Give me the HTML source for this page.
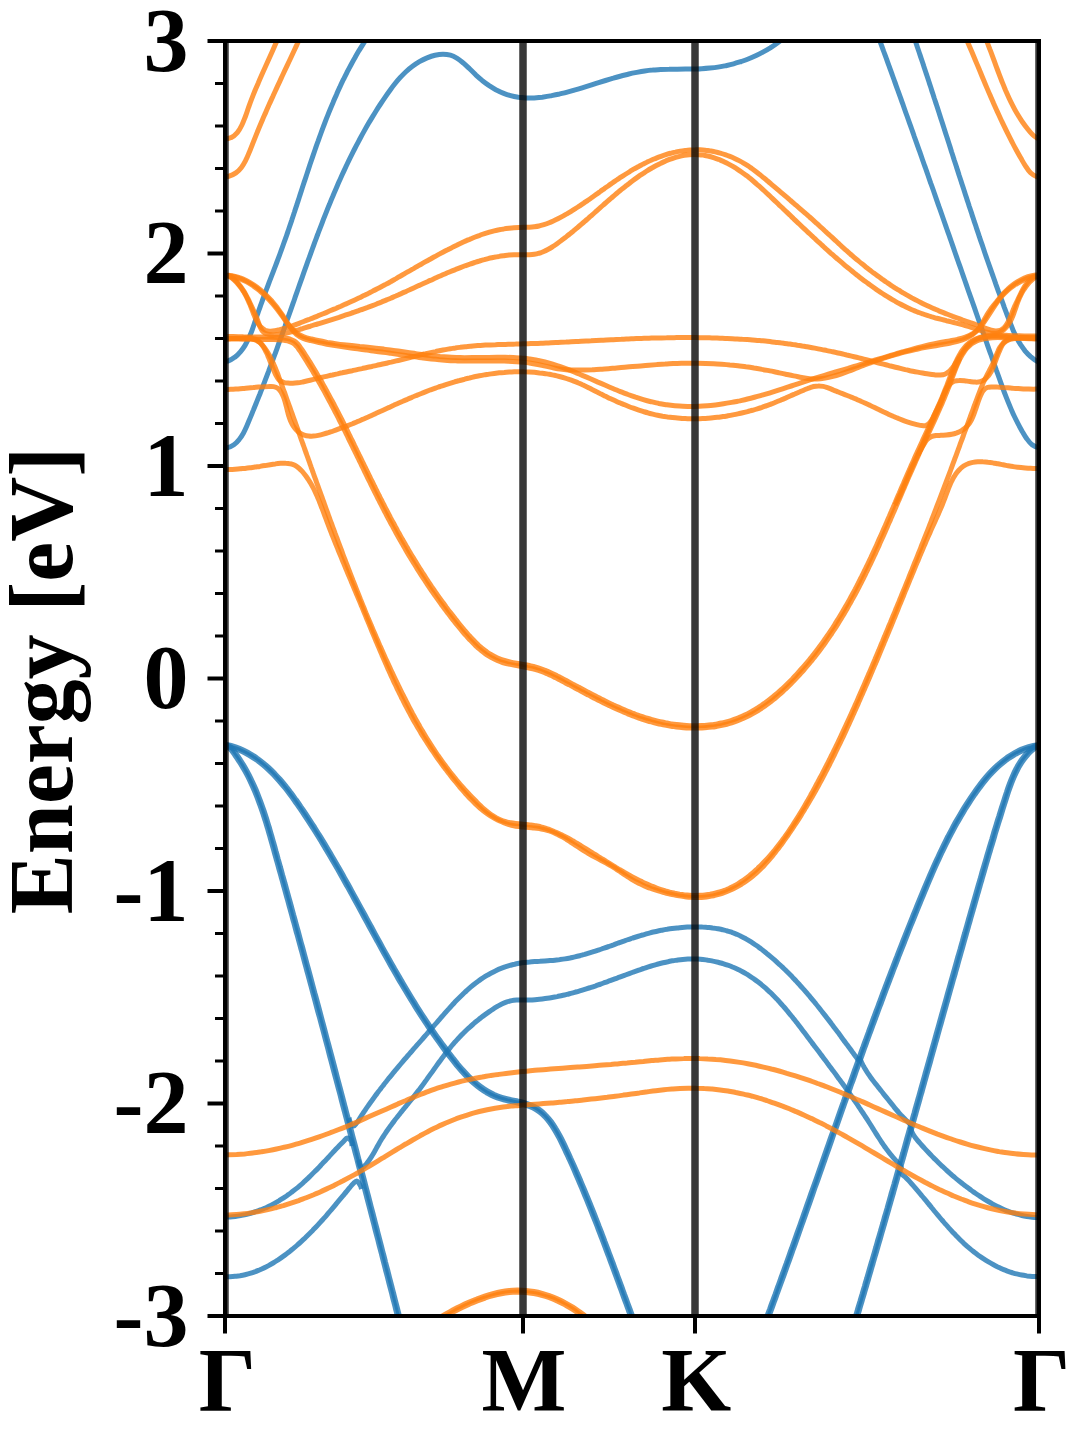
<!DOCTYPE html>
<html lang="en">
<head>
<meta charset="utf-8">
<title>Band structure</title>
<style>
html,body{margin:0;padding:0;background:#fff;}
body{width:1080px;height:1440px;overflow:hidden;font-family:"Liberation Serif",serif;}
svg{display:block;}
svg text{font-family:"Liberation Serif",serif;font-weight:bold;font-size:90px;fill:#000;}
</style>
</head>
<body>
<svg width="1080" height="1440" viewBox="0 0 1080 1440">
<rect width="1080" height="1440" fill="#fff"/>
<defs><clipPath id="ax"><rect x="225.0" y="41.0" width="814.0" height="1275.0"/></clipPath></defs>
<g clip-path="url(#ax)" fill="none" stroke-linecap="butt" stroke-linejoin="round">
<g stroke="#1f77b4" stroke-opacity="0.8" stroke-width="5">
<path d="M208.2 349.7C209.0 351.1 211.3 356.0 213.3 358.0C215.4 360.0 218.0 361.2 220.5 361.7C222.9 362.2 225.7 361.8 228.1 361.0C230.5 360.3 232.9 358.7 235.0 357.1C237.1 355.6 238.9 353.6 240.6 351.6C242.3 349.6 243.8 347.4 245.2 345.1C246.6 342.7 247.8 340.2 249.0 337.7C250.1 335.1 251.2 332.5 252.2 329.8C253.2 327.1 254.1 324.3 255.0 321.6C255.9 318.9 256.8 316.1 257.8 313.4C258.7 310.7 259.7 308.1 260.6 305.4C261.6 302.7 262.5 300.1 263.5 297.5C264.5 294.9 265.4 292.3 266.4 289.7C267.4 287.1 268.4 284.5 269.3 281.9C270.3 279.4 271.3 276.8 272.3 274.2C273.3 271.7 274.2 269.1 275.2 266.6C276.2 264.0 277.1 261.5 278.1 258.9C279.1 256.4 280.0 253.8 280.9 251.2C281.9 248.7 282.8 246.1 283.7 243.5C284.6 240.9 285.6 238.4 286.5 235.8C287.4 233.2 288.2 230.6 289.1 228.0C290.0 225.3 290.9 222.7 291.8 220.1C292.6 217.5 293.5 214.9 294.4 212.2C295.2 209.6 296.1 207.0 297.0 204.4C297.8 201.7 298.7 199.1 299.5 196.5C300.4 193.8 301.3 191.2 302.1 188.5C303.0 185.9 303.8 183.3 304.7 180.6C305.6 178.0 306.4 175.3 307.3 172.7C308.2 170.1 309.1 167.4 309.9 164.8C310.8 162.1 311.7 159.5 312.6 156.9C313.5 154.2 314.4 151.6 315.3 149.0C316.2 146.4 317.1 143.7 318.1 141.1C319.0 138.5 319.9 135.9 320.9 133.3C321.9 130.7 322.8 128.1 323.8 125.5C324.8 122.9 325.8 120.3 326.8 117.7C327.8 115.2 328.8 112.6 329.9 110.0C330.9 107.5 332.0 104.9 333.1 102.4C334.1 99.8 335.2 97.3 336.4 94.8C337.5 92.2 338.6 89.7 339.8 87.2C340.9 84.7 342.1 82.2 343.3 79.7C344.5 77.3 345.8 74.8 347.0 72.3C348.3 69.9 349.6 67.4 350.9 65.0C352.2 62.6 353.5 60.2 354.9 57.8C356.2 55.4 357.6 53.0 359.0 50.6C360.5 48.3 361.9 45.9 363.4 43.6C364.9 41.2 366.4 38.9 367.9 36.6C369.5 34.3 371.9 30.9 372.7 29.8"/>
<path d="M208.3 434.8C209.0 436.2 210.3 440.8 212.1 442.9C213.8 445.0 216.5 446.7 219.0 447.5C221.5 448.3 224.6 448.2 227.0 447.7C229.5 447.3 231.9 446.1 233.9 444.7C235.9 443.3 237.7 441.5 239.2 439.5C240.8 437.6 242.2 435.2 243.5 432.9C244.8 430.5 245.9 427.9 247.0 425.4C248.1 422.8 249.2 420.2 250.3 417.6C251.4 415.1 252.4 412.5 253.5 409.9C254.5 407.3 255.6 404.8 256.6 402.2C257.6 399.6 258.6 397.1 259.7 394.5C260.7 392.0 261.7 389.4 262.7 386.9C263.6 384.3 264.6 381.8 265.6 379.2C266.6 376.7 267.5 374.1 268.5 371.6C269.4 369.0 270.4 366.5 271.3 364.0C272.3 361.4 273.2 358.9 274.1 356.4C275.1 353.8 276.0 351.3 276.9 348.8C277.8 346.2 278.7 343.7 279.6 341.2C280.6 338.6 281.5 336.1 282.4 333.6C283.3 331.1 284.2 328.5 285.1 326.0C285.9 323.5 286.8 320.9 287.7 318.4C288.6 315.9 289.5 313.4 290.4 310.8C291.3 308.3 292.2 305.8 293.1 303.2C294.0 300.7 294.8 298.2 295.7 295.6C296.6 293.1 297.5 290.5 298.4 288.0C299.3 285.5 300.2 282.9 301.1 280.4C302.0 277.8 302.9 275.3 303.8 272.7C304.7 270.2 305.6 267.6 306.5 265.1C307.4 262.5 308.3 260.0 309.3 257.4C310.2 254.9 311.1 252.3 312.0 249.8C313.0 247.2 313.9 244.7 314.8 242.1C315.8 239.6 316.7 237.0 317.7 234.5C318.6 231.9 319.6 229.4 320.6 226.9C321.6 224.3 322.5 221.8 323.5 219.2C324.5 216.7 325.5 214.2 326.5 211.6C327.5 209.1 328.5 206.6 329.6 204.1C330.6 201.5 331.6 199.0 332.7 196.5C333.7 194.0 334.8 191.5 335.9 189.0C337.0 186.5 338.0 184.0 339.1 181.5C340.2 179.1 341.4 176.6 342.5 174.1C343.6 171.6 344.8 169.2 345.9 166.7C347.1 164.3 348.2 161.8 349.4 159.4C350.6 156.9 351.8 154.5 353.0 152.1C354.2 149.7 355.5 147.3 356.7 144.9C358.0 142.5 359.2 140.1 360.5 137.7C361.8 135.3 363.1 133.0 364.4 130.6C365.7 128.3 367.1 125.9 368.4 123.6C369.8 121.3 371.2 118.9 372.6 116.6C374.0 114.3 375.4 112.1 376.8 109.8C378.3 107.5 379.7 105.2 381.2 103.0C382.7 100.7 384.2 98.5 385.7 96.3C387.2 94.1 388.8 91.9 390.4 89.7C392.0 87.5 393.6 85.4 395.3 83.3C397.0 81.2 398.7 79.2 400.5 77.2C402.4 75.2 404.2 73.3 406.2 71.5C408.2 69.7 410.3 67.9 412.5 66.3C414.7 64.7 417.0 63.1 419.4 61.7C421.9 60.3 424.5 59.0 427.1 57.9C429.7 56.8 432.4 55.8 435.0 55.2C437.7 54.6 440.4 54.2 443.0 54.2C445.5 54.2 448.0 54.5 450.4 55.2C452.8 55.9 455.0 57.1 457.2 58.4C459.4 59.7 461.4 61.4 463.5 63.1C465.6 64.9 467.6 66.9 469.6 68.8C471.6 70.7 473.7 72.8 475.7 74.8C477.8 76.7 479.9 78.6 482.1 80.4C484.3 82.1 486.5 83.8 488.8 85.4C491.1 86.9 493.4 88.4 495.8 89.7C498.2 90.9 500.6 92.1 503.1 93.1C505.5 94.1 508.0 95.0 510.6 95.7C513.1 96.4 515.7 96.9 518.3 97.3C520.9 97.6 523.5 97.8 526.2 97.9C528.8 98.1 531.5 98.0 534.2 97.9C536.9 97.7 539.6 97.5 542.3 97.2C545.0 96.8 547.7 96.4 550.4 95.9C553.0 95.4 555.7 94.9 558.4 94.3C561.1 93.6 563.8 93.0 566.4 92.3C569.1 91.6 571.7 90.9 574.3 90.1C576.9 89.4 579.6 88.6 582.2 87.8C584.8 87.0 587.4 86.2 590.0 85.4C592.6 84.6 595.2 83.7 597.8 82.9C600.3 82.1 602.9 81.3 605.5 80.5C608.1 79.7 610.7 78.9 613.3 78.2C615.9 77.4 618.5 76.7 621.1 76.0C623.7 75.3 626.3 74.7 628.9 74.0C631.5 73.4 634.1 72.9 636.8 72.4C639.4 71.9 642.0 71.4 644.7 71.0C647.4 70.6 650.0 70.3 652.7 70.1C655.4 69.8 658.1 69.7 660.8 69.5C663.5 69.4 666.2 69.3 669.0 69.3C671.7 69.2 674.4 69.2 677.2 69.2C679.9 69.2 682.6 69.2 685.4 69.1C688.1 69.1 690.8 69.1 693.6 69.0C696.3 68.9 699.0 68.9 701.7 68.7C704.4 68.6 707.1 68.4 709.8 68.1C712.5 67.8 715.2 67.5 717.8 67.1C720.5 66.7 723.1 66.2 725.8 65.7C728.4 65.1 731.0 64.5 733.6 63.8C736.2 63.1 738.7 62.3 741.3 61.5C743.8 60.6 746.3 59.7 748.8 58.7C751.3 57.7 753.7 56.7 756.2 55.5C758.6 54.4 761.0 53.2 763.3 51.9C765.7 50.6 768.0 49.2 770.3 47.8C772.6 46.3 774.9 44.8 777.1 43.2C779.3 41.6 781.5 39.9 783.7 38.1C785.8 36.4 788.9 33.5 790.0 32.6"/>
<path d="M872.2 20.0C872.7 21.3 874.1 25.1 875.0 27.7C876.0 30.3 876.9 32.9 877.9 35.4C878.8 38.0 879.8 40.6 880.7 43.2C881.7 45.7 882.6 48.3 883.5 50.9C884.5 53.5 885.4 56.1 886.4 58.6C887.3 61.2 888.2 63.8 889.2 66.4C890.1 69.0 891.1 71.6 892.0 74.1C892.9 76.7 893.9 79.3 894.8 81.9C895.7 84.5 896.7 87.1 897.6 89.7C898.5 92.2 899.4 94.8 900.4 97.4C901.3 100.0 902.2 102.6 903.2 105.2C904.1 107.8 905.0 110.4 905.9 113.0C906.9 115.6 907.8 118.1 908.7 120.7C909.6 123.3 910.6 125.9 911.5 128.5C912.4 131.1 913.3 133.7 914.2 136.3C915.2 138.9 916.1 141.5 917.0 144.1C917.9 146.7 918.8 149.3 919.8 151.9C920.7 154.5 921.6 157.1 922.5 159.7C923.4 162.3 924.3 164.9 925.3 167.5C926.2 170.1 927.1 172.7 928.0 175.3C928.9 177.9 929.8 180.5 930.7 183.1C931.7 185.6 932.6 188.2 933.5 190.8C934.4 193.4 935.3 196.0 936.2 198.6C937.1 201.2 938.0 203.8 938.9 206.4C939.9 209.0 940.8 211.6 941.7 214.2C942.6 216.8 943.5 219.4 944.4 222.0C945.3 224.6 946.2 227.2 947.1 229.8C948.0 232.4 949.0 235.0 949.9 237.6C950.8 240.2 951.7 242.8 952.6 245.4C953.5 248.0 954.4 250.6 955.3 253.2C956.2 255.8 957.1 258.4 958.0 261.0C958.9 263.6 959.9 266.2 960.8 268.8C961.7 271.4 962.6 274.0 963.5 276.6C964.4 279.2 965.3 281.8 966.2 284.4C967.1 287.0 968.0 289.6 968.9 292.2C969.8 294.8 970.7 297.4 971.7 300.0C972.6 302.5 973.5 305.1 974.4 307.7C975.3 310.3 976.2 312.9 977.1 315.5C978.0 318.1 978.9 320.7 979.8 323.3C980.7 325.9 981.7 328.5 982.6 331.0C983.5 333.6 984.4 336.2 985.3 338.8C986.2 341.4 987.1 344.0 988.0 346.6C988.9 349.1 989.8 351.7 990.8 354.3C991.7 356.9 992.6 359.5 993.5 362.1C994.4 364.6 995.3 367.2 996.2 369.8C997.2 372.4 998.1 375.0 999.0 377.5C999.9 380.1 1000.8 382.7 1001.8 385.3C1002.7 387.8 1003.6 390.4 1004.6 393.0C1005.6 395.6 1006.6 398.1 1007.6 400.7C1008.6 403.2 1009.7 405.8 1010.8 408.4C1011.9 410.9 1013.0 413.5 1014.2 416.0C1015.4 418.6 1016.7 421.1 1018.0 423.6C1019.3 426.2 1020.7 428.7 1022.1 431.2C1023.6 433.7 1025.0 436.4 1026.7 438.6C1028.3 440.8 1030.0 443.1 1031.9 444.6C1033.9 446.0 1036.0 447.2 1038.2 447.4C1040.3 447.6 1042.9 447.1 1045.1 445.9C1047.3 444.8 1049.7 442.8 1051.4 440.4C1053.2 438.0 1054.9 433.1 1055.6 431.6"/>
<path d="M908.0 19.8C908.4 21.1 909.8 25.0 910.7 27.6C911.6 30.2 912.5 32.8 913.4 35.4C914.3 38.0 915.2 40.6 916.1 43.2C916.9 45.8 917.8 48.4 918.7 51.0C919.6 53.6 920.4 56.2 921.3 58.8C922.2 61.4 923.1 64.0 923.9 66.6C924.8 69.2 925.6 71.8 926.5 74.4C927.4 77.0 928.2 79.6 929.1 82.2C929.9 84.8 930.8 87.3 931.6 89.9C932.4 92.5 933.3 95.1 934.1 97.7C935.0 100.3 935.8 102.9 936.7 105.5C937.5 108.0 938.3 110.6 939.2 113.2C940.0 115.8 940.8 118.4 941.7 121.0C942.5 123.5 943.3 126.1 944.2 128.7C945.0 131.3 945.8 133.9 946.7 136.5C947.5 139.0 948.3 141.6 949.2 144.2C950.0 146.8 950.8 149.4 951.6 152.0C952.5 154.5 953.3 157.1 954.1 159.7C955.0 162.3 955.8 164.9 956.6 167.4C957.5 170.0 958.3 172.6 959.1 175.2C960.0 177.8 960.8 180.4 961.6 182.9C962.5 185.5 963.3 188.1 964.2 190.7C965.0 193.3 965.8 195.8 966.7 198.4C967.5 201.0 968.4 203.6 969.2 206.2C970.1 208.8 970.9 211.3 971.8 213.9C972.6 216.5 973.5 219.1 974.3 221.7C975.2 224.2 976.1 226.8 976.9 229.4C977.8 232.0 978.7 234.6 979.5 237.2C980.4 239.8 981.3 242.3 982.2 244.9C983.1 247.5 983.9 250.1 984.8 252.7C985.7 255.3 986.6 257.9 987.5 260.5C988.4 263.0 989.3 265.6 990.2 268.2C991.1 270.8 992.0 273.4 993.0 276.0C993.9 278.6 994.8 281.2 995.7 283.8C996.7 286.4 997.6 289.0 998.5 291.6C999.5 294.1 1000.4 296.7 1001.4 299.3C1002.3 301.9 1003.3 304.5 1004.2 307.1C1005.2 309.7 1006.2 312.3 1007.1 314.9C1008.1 317.5 1009.1 320.1 1010.1 322.7C1011.1 325.3 1012.1 327.9 1013.2 330.4C1014.3 332.9 1015.5 335.4 1016.7 337.8C1017.9 340.2 1019.2 342.5 1020.6 344.7C1022.1 346.9 1023.6 349.1 1025.2 351.1C1026.9 353.1 1028.7 354.9 1030.6 356.6C1032.6 358.3 1034.8 360.4 1037.0 361.3C1039.3 362.1 1041.9 362.9 1044.2 361.8C1046.5 360.7 1049.0 357.0 1050.8 354.7C1052.6 352.4 1054.3 349.0 1055.0 347.9"/>
<path d="M196.8 755.5C197.9 754.6 201.2 751.3 203.6 749.7C206.1 748.1 208.7 746.9 211.3 746.0C214.0 745.1 216.7 744.5 219.5 744.3C222.2 744.1 225.0 744.3 227.7 744.7C230.4 745.2 233.1 746.0 235.7 746.8C238.3 747.7 240.9 748.8 243.3 750.0C245.8 751.2 248.2 752.4 250.5 753.8C252.9 755.2 255.1 756.6 257.3 758.2C259.5 759.7 261.6 761.4 263.7 763.1C265.8 764.8 267.8 766.6 269.8 768.4C271.7 770.3 273.7 772.2 275.5 774.2C277.4 776.1 279.2 778.2 281.0 780.2C282.8 782.3 284.6 784.4 286.3 786.6C288.0 788.7 289.7 790.9 291.3 793.1C293.0 795.3 294.6 797.6 296.2 799.8C297.8 802.1 299.4 804.3 300.9 806.6C302.5 808.9 304.0 811.1 305.6 813.4C307.1 815.7 308.6 818.0 310.1 820.3C311.6 822.6 313.1 824.9 314.6 827.2C316.0 829.5 317.5 831.9 318.9 834.2C320.4 836.5 321.8 838.8 323.2 841.1C324.7 843.5 326.1 845.8 327.5 848.2C328.9 850.5 330.2 852.8 331.6 855.2C333.0 857.5 334.4 859.9 335.7 862.2C337.1 864.6 338.4 866.9 339.8 869.3C341.1 871.7 342.5 874.0 343.8 876.4C345.1 878.8 346.5 881.1 347.8 883.5C349.1 885.9 350.4 888.2 351.7 890.6C353.0 893.0 354.3 895.4 355.6 897.7C356.9 900.1 358.2 902.5 359.5 904.9C360.8 907.2 362.1 909.6 363.4 912.0C364.7 914.4 366.0 916.7 367.3 919.1C368.6 921.5 369.9 923.9 371.2 926.2C372.4 928.6 373.7 931.0 375.0 933.4C376.3 935.7 377.6 938.1 378.9 940.5C380.2 942.8 381.5 945.2 382.8 947.6C384.1 949.9 385.4 952.3 386.8 954.7C388.1 957.0 389.4 959.4 390.7 961.7C392.0 964.1 393.4 966.4 394.7 968.8C396.1 971.1 397.4 973.5 398.8 975.8C400.1 978.2 401.5 980.5 402.8 982.8C404.2 985.2 405.6 987.5 407.0 989.8C408.4 992.1 409.8 994.5 411.2 996.8C412.6 999.1 414.0 1001.4 415.5 1003.7C416.9 1006.0 418.3 1008.3 419.8 1010.6C421.3 1012.9 422.7 1015.1 424.2 1017.4C425.7 1019.7 427.2 1022.0 428.7 1024.2C430.2 1026.5 431.8 1028.7 433.3 1031.0C434.9 1033.2 436.4 1035.5 438.0 1037.7C439.6 1039.9 441.2 1042.2 442.8 1044.4C444.5 1046.6 446.1 1048.8 447.7 1051.0C449.4 1053.2 451.1 1055.4 452.8 1057.6C454.5 1059.7 456.2 1061.9 457.9 1064.0C459.7 1066.1 461.5 1068.2 463.3 1070.2C465.1 1072.3 467.0 1074.3 468.9 1076.2C470.8 1078.1 472.7 1079.9 474.7 1081.7C476.7 1083.4 478.8 1085.1 480.9 1086.6C483.0 1088.2 485.2 1089.6 487.5 1091.0C489.7 1092.3 492.0 1093.5 494.4 1094.6C496.8 1095.6 499.3 1096.5 501.9 1097.3C504.5 1098.1 507.2 1098.7 509.8 1099.3C512.5 1100.0 515.3 1100.5 518.0 1101.1C520.6 1101.7 523.3 1102.3 525.9 1103.1C528.5 1104.0 531.1 1104.8 533.5 1106.0C535.8 1107.1 538.1 1108.5 540.2 1110.1C542.3 1111.6 544.3 1113.5 546.1 1115.4C548.0 1117.3 549.7 1119.4 551.3 1121.5C552.9 1123.7 554.4 1126.0 555.8 1128.3C557.3 1130.6 558.6 1133.0 559.9 1135.5C561.2 1137.9 562.5 1140.4 563.7 1142.9C564.9 1145.4 566.1 1147.9 567.2 1150.4C568.4 1152.9 569.6 1155.5 570.7 1158.0C571.9 1160.5 573.0 1163.0 574.1 1165.5C575.2 1168.0 576.3 1170.6 577.4 1173.1C578.5 1175.6 579.6 1178.1 580.7 1180.6C581.7 1183.1 582.8 1185.6 583.9 1188.2C584.9 1190.7 586.0 1193.2 587.0 1195.7C588.0 1198.2 589.1 1200.7 590.1 1203.2C591.1 1205.8 592.1 1208.3 593.1 1210.8C594.1 1213.3 595.1 1215.8 596.1 1218.4C597.1 1220.9 598.1 1223.4 599.0 1225.9C600.0 1228.4 601.0 1231.0 602.0 1233.5C602.9 1236.0 603.9 1238.5 604.8 1241.1C605.8 1243.6 606.7 1246.1 607.7 1248.6C608.6 1251.2 609.6 1253.7 610.5 1256.2C611.5 1258.8 612.4 1261.3 613.4 1263.8C614.3 1266.4 615.2 1268.9 616.2 1271.4C617.1 1274.0 618.1 1276.5 619.0 1279.1C619.9 1281.6 620.9 1284.2 621.8 1286.7C622.7 1289.3 623.7 1291.8 624.6 1294.4C625.6 1296.9 626.5 1299.5 627.4 1302.0C628.4 1304.6 629.3 1307.1 630.3 1309.7C631.2 1312.3 632.2 1314.8 633.1 1317.4C634.1 1320.0 635.0 1322.5 636.0 1325.1C637.0 1327.7 638.4 1331.5 638.9 1332.8"/>
<path d="M198.1 757.1C199.2 756.1 202.4 752.9 204.7 751.4C207.1 749.8 209.5 748.7 212.0 747.9C214.5 747.0 217.1 746.5 219.6 746.3C222.2 746.1 224.8 746.3 227.4 746.7C230.0 747.1 232.6 747.9 235.1 748.7C237.6 749.6 240.1 750.7 242.5 751.8C244.9 752.9 247.2 754.2 249.5 755.5C251.8 756.9 254.0 758.3 256.1 759.8C258.3 761.3 260.4 762.9 262.4 764.6C264.5 766.3 266.5 768.1 268.4 769.9C270.3 771.7 272.2 773.6 274.1 775.5C275.9 777.5 277.7 779.5 279.5 781.5C281.3 783.6 283.0 785.7 284.7 787.8C286.4 789.9 288.1 792.1 289.7 794.3C291.4 796.5 293.0 798.7 294.6 801.0C296.2 803.2 297.7 805.5 299.3 807.7C300.8 810.0 302.4 812.3 303.9 814.5C305.4 816.8 306.9 819.1 308.4 821.4C309.9 823.7 311.4 826.0 312.9 828.3C314.3 830.6 315.8 832.9 317.2 835.2C318.7 837.5 320.1 839.9 321.5 842.2C322.9 844.5 324.4 846.8 325.7 849.2C327.1 851.5 328.5 853.9 329.9 856.2C331.3 858.5 332.6 860.9 334.0 863.2C335.4 865.6 336.7 867.9 338.1 870.3C339.4 872.7 340.7 875.0 342.1 877.4C343.4 879.7 344.7 882.1 346.0 884.5C347.3 886.8 348.7 889.2 350.0 891.6C351.3 893.9 352.6 896.3 353.9 898.7C355.2 901.1 356.5 903.4 357.8 905.8C359.1 908.2 360.4 910.6 361.6 912.9C362.9 915.3 364.2 917.7 365.5 920.1C366.8 922.4 368.1 924.8 369.4 927.2C370.7 929.6 372.0 931.9 373.3 934.3C374.6 936.7 375.9 939.1 377.2 941.4C378.5 943.8 379.8 946.2 381.1 948.5C382.4 950.9 383.7 953.3 385.0 955.6C386.3 958.0 387.6 960.4 389.0 962.7C390.3 965.1 391.6 967.4 393.0 969.8C394.3 972.1 395.7 974.5 397.0 976.8C398.4 979.2 399.7 981.5 401.1 983.8C402.5 986.2 403.9 988.5 405.3 990.8C406.7 993.2 408.1 995.5 409.5 997.8C410.9 1000.1 412.3 1002.4 413.8 1004.7C415.2 1007.1 416.6 1009.4 418.1 1011.6C419.6 1013.9 421.1 1016.2 422.5 1018.5C424.0 1020.8 425.5 1023.1 427.1 1025.3C428.6 1027.6 430.1 1029.9 431.7 1032.1C433.2 1034.4 434.8 1036.6 436.4 1038.9C438.0 1041.1 439.6 1043.3 441.2 1045.6C442.8 1047.8 444.5 1050.0 446.1 1052.2C447.8 1054.4 449.5 1056.6 451.2 1058.8C452.9 1061.0 454.6 1063.1 456.4 1065.3C458.2 1067.4 460.0 1069.5 461.8 1071.6C463.6 1073.6 465.5 1075.7 467.4 1077.6C469.4 1079.5 471.4 1081.4 473.4 1083.2C475.4 1085.0 477.5 1086.7 479.7 1088.2C481.9 1089.8 484.1 1091.3 486.4 1092.7C488.8 1094.0 491.1 1095.3 493.6 1096.4C496.1 1097.5 498.7 1098.4 501.3 1099.2C503.9 1100.0 506.7 1100.6 509.4 1101.3C512.1 1101.9 514.8 1102.4 517.5 1103.0C520.2 1103.7 522.8 1104.3 525.3 1105.0C527.8 1105.8 530.3 1106.7 532.6 1107.8C534.9 1108.9 537.0 1110.2 539.0 1111.7C541.1 1113.2 542.9 1114.9 544.7 1116.8C546.5 1118.6 548.1 1120.7 549.7 1122.8C551.2 1124.8 552.7 1127.1 554.1 1129.3C555.5 1131.6 556.9 1134.0 558.1 1136.4C559.4 1138.8 560.7 1141.3 561.9 1143.8C563.1 1146.2 564.3 1148.8 565.4 1151.3C566.6 1153.8 567.7 1156.3 568.9 1158.8C570.0 1161.3 571.2 1163.8 572.3 1166.3C573.4 1168.8 574.5 1171.4 575.6 1173.9C576.7 1176.4 577.8 1178.9 578.8 1181.4C579.9 1183.9 581.0 1186.4 582.0 1188.9C583.1 1191.4 584.1 1193.9 585.1 1196.5C586.2 1199.0 587.2 1201.5 588.2 1204.0C589.2 1206.5 590.2 1209.0 591.2 1211.5C592.2 1214.1 593.2 1216.6 594.2 1219.1C595.2 1221.6 596.2 1224.1 597.2 1226.6C598.1 1229.2 599.1 1231.7 600.1 1234.2C601.1 1236.7 602.0 1239.2 603.0 1241.8C603.9 1244.3 604.9 1246.8 605.8 1249.3C606.8 1251.9 607.7 1254.4 608.7 1256.9C609.6 1259.5 610.5 1262.0 611.5 1264.5C612.4 1267.1 613.4 1269.6 614.3 1272.1C615.2 1274.7 616.2 1277.2 617.1 1279.8C618.0 1282.3 619.0 1284.8 619.9 1287.4C620.9 1289.9 621.8 1292.5 622.7 1295.0C623.7 1297.6 624.6 1300.2 625.6 1302.7C626.5 1305.3 627.4 1307.8 628.4 1310.4C629.3 1313.0 630.3 1315.5 631.2 1318.1C632.2 1320.7 633.2 1323.2 634.1 1325.8C635.1 1328.4 636.5 1332.2 637.0 1333.5"/>
<path d="M206.5 762.9C207.1 761.6 208.2 757.5 209.9 755.0C211.5 752.4 214.1 749.5 216.5 747.7C218.9 745.9 221.8 744.2 224.3 744.2C226.7 744.1 229.0 745.6 231.0 747.2C233.0 748.8 234.6 751.5 236.2 753.7C237.9 755.9 239.4 758.2 240.8 760.5C242.3 762.8 243.7 765.1 245.1 767.5C246.4 769.8 247.7 772.2 249.0 774.6C250.2 777.0 251.4 779.4 252.5 781.9C253.7 784.3 254.8 786.8 255.9 789.3C256.9 791.8 257.9 794.3 258.9 796.9C259.9 799.4 260.9 801.9 261.8 804.5C262.7 807.0 263.6 809.6 264.5 812.2C265.3 814.8 266.2 817.4 267.0 820.0C267.8 822.6 268.6 825.2 269.4 827.8C270.2 830.5 270.9 833.1 271.7 835.7C272.4 838.3 273.2 841.0 273.9 843.6C274.7 846.2 275.4 848.9 276.1 851.5C276.9 854.1 277.6 856.8 278.3 859.4C279.1 862.0 279.8 864.7 280.5 867.3C281.3 869.9 282.0 872.6 282.7 875.2C283.5 877.8 284.2 880.5 284.9 883.1C285.7 885.7 286.4 888.4 287.1 891.0C287.8 893.6 288.6 896.3 289.3 898.9C290.0 901.5 290.7 904.2 291.5 906.8C292.2 909.4 292.9 912.0 293.6 914.7C294.4 917.3 295.1 919.9 295.8 922.6C296.5 925.2 297.2 927.8 298.0 930.4C298.7 933.1 299.4 935.7 300.1 938.3C300.8 941.0 301.5 943.6 302.3 946.2C303.0 948.8 303.7 951.5 304.4 954.1C305.1 956.7 305.8 959.3 306.5 962.0C307.2 964.6 308.0 967.2 308.7 969.9C309.4 972.5 310.1 975.1 310.8 977.7C311.5 980.4 312.2 983.0 312.9 985.6C313.6 988.2 314.3 990.9 315.0 993.5C315.8 996.1 316.5 998.7 317.2 1001.4C317.9 1004.0 318.6 1006.6 319.3 1009.2C320.0 1011.9 320.7 1014.5 321.4 1017.1C322.1 1019.7 322.8 1022.4 323.5 1025.0C324.2 1027.6 324.9 1030.3 325.6 1032.9C326.3 1035.5 327.0 1038.1 327.7 1040.8C328.4 1043.4 329.1 1046.0 329.8 1048.6C330.5 1051.3 331.2 1053.9 331.9 1056.5C332.6 1059.1 333.3 1061.8 334.0 1064.4C334.7 1067.0 335.4 1069.6 336.1 1072.3C336.7 1074.9 337.4 1077.5 338.1 1080.1C338.8 1082.8 339.5 1085.4 340.2 1088.0C340.9 1090.6 341.6 1093.3 342.3 1095.9C343.0 1098.5 343.7 1101.1 344.4 1103.8C345.1 1106.4 345.7 1109.0 346.4 1111.6C347.1 1114.3 347.8 1116.9 348.5 1119.5C349.2 1122.2 349.9 1124.8 350.6 1127.4C351.3 1130.0 351.9 1132.7 352.6 1135.3C353.3 1137.9 354.0 1140.5 354.7 1143.2C355.4 1145.8 356.1 1148.4 356.8 1151.1C357.4 1153.7 358.1 1156.3 358.8 1158.9C359.5 1161.6 360.2 1164.2 360.9 1166.8C361.6 1169.5 362.2 1172.1 362.9 1174.7C363.6 1177.3 364.3 1180.0 365.0 1182.6C365.7 1185.2 366.3 1187.9 367.0 1190.5C367.7 1193.1 368.4 1195.8 369.1 1198.4C369.8 1201.0 370.4 1203.6 371.1 1206.3C371.8 1208.9 372.5 1211.5 373.2 1214.2C373.9 1216.8 374.5 1219.4 375.2 1222.1C375.9 1224.7 376.6 1227.3 377.3 1230.0C377.9 1232.6 378.6 1235.2 379.3 1237.9C380.0 1240.5 380.7 1243.1 381.4 1245.8C382.0 1248.4 382.7 1251.0 383.4 1253.7C384.1 1256.3 384.8 1259.0 385.4 1261.6C386.1 1264.2 386.8 1266.9 387.5 1269.5C388.2 1272.1 388.8 1274.8 389.5 1277.4C390.2 1280.1 390.9 1282.7 391.6 1285.3C392.2 1288.0 392.9 1290.6 393.6 1293.2C394.3 1295.9 395.0 1298.5 395.6 1301.2C396.3 1303.8 397.0 1306.5 397.7 1309.1C398.4 1311.7 399.0 1314.4 399.7 1317.0C400.4 1319.7 401.1 1322.3 401.8 1325.0C402.4 1327.6 403.5 1331.6 403.8 1332.9"/>
<path d="M208.4 763.7C208.9 762.4 210.0 758.5 211.5 756.1C213.1 753.7 215.6 750.9 217.7 749.3C219.8 747.6 222.3 746.2 224.3 746.2C226.4 746.1 228.1 747.3 229.8 748.7C231.5 750.2 233.0 752.7 234.6 754.9C236.2 757.0 237.7 759.3 239.1 761.6C240.6 763.8 242.0 766.1 243.3 768.5C244.7 770.8 245.9 773.1 247.2 775.5C248.4 777.9 249.6 780.3 250.7 782.7C251.9 785.2 253.0 787.6 254.0 790.1C255.1 792.6 256.1 795.1 257.1 797.6C258.0 800.1 259.0 802.6 259.9 805.2C260.8 807.7 261.7 810.3 262.6 812.8C263.4 815.4 264.2 818.0 265.1 820.6C265.9 823.2 266.7 825.8 267.5 828.4C268.2 831.0 269.0 833.6 269.8 836.3C270.5 838.9 271.3 841.5 272.0 844.2C272.7 846.8 273.5 849.4 274.2 852.1C274.9 854.7 275.7 857.3 276.4 860.0C277.2 862.6 277.9 865.2 278.6 867.9C279.4 870.5 280.1 873.1 280.8 875.7C281.5 878.4 282.3 881.0 283.0 883.6C283.7 886.3 284.5 888.9 285.2 891.5C285.9 894.2 286.6 896.8 287.4 899.4C288.1 902.1 288.8 904.7 289.5 907.3C290.3 909.9 291.0 912.6 291.7 915.2C292.4 917.8 293.1 920.5 293.9 923.1C294.6 925.7 295.3 928.3 296.0 931.0C296.7 933.6 297.5 936.2 298.2 938.9C298.9 941.5 299.6 944.1 300.3 946.7C301.0 949.4 301.8 952.0 302.5 954.6C303.2 957.2 303.9 959.9 304.6 962.5C305.3 965.1 306.0 967.8 306.7 970.4C307.5 973.0 308.2 975.6 308.9 978.3C309.6 980.9 310.3 983.5 311.0 986.1C311.7 988.8 312.4 991.4 313.1 994.0C313.8 996.6 314.5 999.3 315.2 1001.9C315.9 1004.5 316.6 1007.1 317.3 1009.8C318.0 1012.4 318.8 1015.0 319.5 1017.6C320.2 1020.3 320.9 1022.9 321.6 1025.5C322.3 1028.1 323.0 1030.8 323.7 1033.4C324.4 1036.0 325.1 1038.6 325.8 1041.3C326.5 1043.9 327.2 1046.5 327.9 1049.1C328.6 1051.8 329.2 1054.4 329.9 1057.0C330.6 1059.6 331.3 1062.3 332.0 1064.9C332.7 1067.5 333.4 1070.1 334.1 1072.8C334.8 1075.4 335.5 1078.0 336.2 1080.6C336.9 1083.3 337.6 1085.9 338.3 1088.5C339.0 1091.1 339.7 1093.8 340.4 1096.4C341.0 1099.0 341.7 1101.7 342.4 1104.3C343.1 1106.9 343.8 1109.5 344.5 1112.2C345.2 1114.8 345.9 1117.4 346.6 1120.0C347.3 1122.7 347.9 1125.3 348.6 1127.9C349.3 1130.5 350.0 1133.2 350.7 1135.8C351.4 1138.4 352.1 1141.0 352.8 1143.7C353.4 1146.3 354.1 1148.9 354.8 1151.6C355.5 1154.2 356.2 1156.8 356.9 1159.4C357.6 1162.1 358.2 1164.7 358.9 1167.3C359.6 1170.0 360.3 1172.6 361.0 1175.2C361.7 1177.8 362.4 1180.5 363.0 1183.1C363.7 1185.7 364.4 1188.4 365.1 1191.0C365.8 1193.6 366.5 1196.3 367.1 1198.9C367.8 1201.5 368.5 1204.1 369.2 1206.8C369.9 1209.4 370.6 1212.0 371.2 1214.7C371.9 1217.3 372.6 1219.9 373.3 1222.6C374.0 1225.2 374.6 1227.8 375.3 1230.5C376.0 1233.1 376.7 1235.7 377.4 1238.4C378.1 1241.0 378.7 1243.6 379.4 1246.3C380.1 1248.9 380.8 1251.5 381.5 1254.2C382.1 1256.8 382.8 1259.5 383.5 1262.1C384.2 1264.7 384.9 1267.4 385.5 1270.0C386.2 1272.6 386.9 1275.3 387.6 1277.9C388.3 1280.6 388.9 1283.2 389.6 1285.8C390.3 1288.5 391.0 1291.1 391.7 1293.7C392.3 1296.4 393.0 1299.0 393.7 1301.7C394.4 1304.3 395.1 1307.0 395.7 1309.6C396.4 1312.2 397.1 1314.9 397.8 1317.5C398.5 1320.2 399.2 1322.8 399.8 1325.5C400.5 1328.1 401.5 1332.1 401.9 1333.4"/>
<path d="M760.9 1332.5C761.3 1331.2 762.8 1327.4 763.7 1324.9C764.6 1322.3 765.6 1319.8 766.5 1317.2C767.5 1314.7 768.4 1312.1 769.4 1309.6C770.3 1307.1 771.2 1304.5 772.2 1302.0C773.1 1299.4 774.0 1296.9 775.0 1294.3C775.9 1291.8 776.8 1289.2 777.7 1286.7C778.7 1284.1 779.6 1281.5 780.5 1279.0C781.4 1276.4 782.4 1273.9 783.3 1271.3C784.2 1268.8 785.1 1266.2 786.1 1263.6C787.0 1261.1 787.9 1258.5 788.8 1256.0C789.7 1253.4 790.6 1250.8 791.6 1248.3C792.5 1245.7 793.4 1243.2 794.3 1240.6C795.2 1238.0 796.1 1235.5 797.0 1232.9C797.9 1230.3 798.9 1227.8 799.8 1225.2C800.7 1222.6 801.6 1220.1 802.5 1217.5C803.4 1214.9 804.3 1212.4 805.2 1209.8C806.1 1207.2 807.0 1204.7 807.9 1202.1C808.8 1199.5 809.7 1197.0 810.6 1194.4C811.5 1191.8 812.5 1189.2 813.4 1186.7C814.3 1184.1 815.2 1181.5 816.1 1179.0C817.0 1176.4 817.9 1173.8 818.8 1171.3C819.7 1168.7 820.6 1166.1 821.5 1163.5C822.4 1161.0 823.3 1158.4 824.2 1155.8C825.1 1153.3 826.0 1150.7 826.9 1148.1C827.8 1145.5 828.7 1143.0 829.6 1140.4C830.5 1137.8 831.4 1135.3 832.4 1132.7C833.3 1130.1 834.2 1127.5 835.1 1125.0C836.0 1122.4 836.9 1119.8 837.8 1117.3C838.7 1114.7 839.6 1112.1 840.5 1109.5C841.4 1107.0 842.3 1104.4 843.3 1101.8C844.2 1099.3 845.1 1096.7 846.0 1094.1C846.9 1091.6 847.8 1089.0 848.7 1086.4C849.7 1083.9 850.6 1081.3 851.5 1078.7C852.4 1076.2 853.3 1073.6 854.2 1071.0C855.2 1068.5 856.1 1065.9 857.0 1063.3C857.9 1060.8 858.9 1058.2 859.8 1055.6C860.7 1053.1 861.6 1050.5 862.6 1048.0C863.5 1045.4 864.4 1042.8 865.4 1040.3C866.3 1037.7 867.2 1035.2 868.2 1032.6C869.1 1030.0 870.0 1027.5 871.0 1024.9C871.9 1022.4 872.8 1019.8 873.8 1017.3C874.7 1014.7 875.7 1012.2 876.6 1009.6C877.6 1007.1 878.5 1004.5 879.5 1002.0C880.4 999.4 881.4 996.9 882.3 994.3C883.3 991.8 884.3 989.2 885.2 986.7C886.2 984.1 887.1 981.6 888.1 979.0C889.1 976.5 890.0 974.0 891.0 971.4C892.0 968.9 893.0 966.3 893.9 963.8C894.9 961.3 895.9 958.7 896.9 956.2C897.8 953.7 898.8 951.1 899.8 948.6C900.8 946.1 901.8 943.5 902.8 941.0C903.8 938.5 904.8 936.0 905.8 933.4C906.8 930.9 907.8 928.4 908.8 925.9C909.8 923.4 910.8 920.8 911.8 918.3C912.8 915.8 913.8 913.3 914.9 910.8C915.9 908.3 916.9 905.7 917.9 903.2C919.0 900.7 920.0 898.2 921.0 895.7C922.1 893.2 923.1 890.7 924.1 888.2C925.2 885.7 926.2 883.2 927.3 880.7C928.4 878.2 929.4 875.7 930.5 873.2C931.6 870.7 932.7 868.3 933.8 865.8C934.9 863.3 936.0 860.8 937.2 858.4C938.3 855.9 939.4 853.4 940.6 851.0C941.8 848.5 943.0 846.1 944.2 843.6C945.4 841.2 946.6 838.7 947.9 836.3C949.1 833.9 950.4 831.5 951.7 829.1C953.0 826.6 954.3 824.2 955.6 821.8C957.0 819.4 958.4 817.1 959.8 814.7C961.2 812.3 962.6 809.9 964.0 807.6C965.5 805.2 967.0 802.9 968.5 800.6C970.0 798.2 971.6 795.9 973.2 793.6C974.8 791.3 976.4 789.0 978.1 786.8C979.8 784.5 981.5 782.3 983.2 780.1C985.0 778.0 986.8 775.9 988.7 773.8C990.5 771.8 992.4 769.8 994.4 767.9C996.4 766.0 998.4 764.1 1000.5 762.4C1002.6 760.6 1004.7 759.0 1006.9 757.4C1009.1 755.9 1011.4 754.4 1013.7 753.1C1016.1 751.7 1018.5 750.5 1021.0 749.4C1023.4 748.3 1026.0 747.4 1028.6 746.6C1031.2 745.9 1033.8 745.2 1036.5 744.9C1039.1 744.6 1041.9 744.4 1044.5 744.5C1047.2 744.7 1049.9 745.1 1052.5 745.8C1055.1 746.6 1057.7 747.6 1060.2 748.9C1062.7 750.3 1065.1 751.9 1067.4 753.9C1069.7 755.9 1072.8 759.6 1073.8 760.8"/>
<path d="M762.7 1333.2C763.2 1331.9 764.6 1328.1 765.6 1325.6C766.5 1323.0 767.5 1320.5 768.4 1317.9C769.4 1315.4 770.3 1312.8 771.2 1310.3C772.2 1307.7 773.1 1305.2 774.0 1302.6C775.0 1300.1 775.9 1297.5 776.8 1295.0C777.8 1292.4 778.7 1289.9 779.6 1287.3C780.6 1284.8 781.5 1282.2 782.4 1279.7C783.3 1277.1 784.3 1274.6 785.2 1272.0C786.1 1269.4 787.0 1266.9 787.9 1264.3C788.9 1261.8 789.8 1259.2 790.7 1256.6C791.6 1254.1 792.5 1251.5 793.4 1249.0C794.4 1246.4 795.3 1243.8 796.2 1241.3C797.1 1238.7 798.0 1236.1 798.9 1233.6C799.8 1231.0 800.7 1228.4 801.6 1225.9C802.6 1223.3 803.5 1220.7 804.4 1218.2C805.3 1215.6 806.2 1213.0 807.1 1210.5C808.0 1207.9 808.9 1205.3 809.8 1202.8C810.7 1200.2 811.6 1197.6 812.5 1195.1C813.4 1192.5 814.3 1189.9 815.2 1187.3C816.1 1184.8 817.1 1182.2 818.0 1179.6C818.9 1177.1 819.8 1174.5 820.7 1171.9C821.6 1169.3 822.5 1166.8 823.4 1164.2C824.3 1161.6 825.2 1159.1 826.1 1156.5C827.0 1153.9 827.9 1151.3 828.8 1148.8C829.7 1146.2 830.6 1143.6 831.5 1141.1C832.4 1138.5 833.3 1135.9 834.2 1133.3C835.1 1130.8 836.1 1128.2 837.0 1125.6C837.9 1123.1 838.8 1120.5 839.7 1117.9C840.6 1115.4 841.5 1112.8 842.4 1110.2C843.3 1107.6 844.2 1105.1 845.1 1102.5C846.1 1099.9 847.0 1097.4 847.9 1094.8C848.8 1092.2 849.7 1089.7 850.6 1087.1C851.5 1084.5 852.5 1082.0 853.4 1079.4C854.3 1076.8 855.2 1074.3 856.1 1071.7C857.0 1069.1 858.0 1066.6 858.9 1064.0C859.8 1061.5 860.7 1058.9 861.7 1056.3C862.6 1053.8 863.5 1051.2 864.4 1048.6C865.4 1046.1 866.3 1043.5 867.2 1041.0C868.2 1038.4 869.1 1035.9 870.0 1033.3C871.0 1030.7 871.9 1028.2 872.8 1025.6C873.8 1023.1 874.7 1020.5 875.7 1018.0C876.6 1015.4 877.6 1012.9 878.5 1010.3C879.5 1007.8 880.4 1005.2 881.4 1002.7C882.3 1000.1 883.3 997.6 884.2 995.0C885.2 992.5 886.1 989.9 887.1 987.4C888.0 984.8 889.0 982.3 890.0 979.8C890.9 977.2 891.9 974.7 892.9 972.1C893.8 969.6 894.8 967.1 895.8 964.5C896.8 962.0 897.8 959.5 898.7 956.9C899.7 954.4 900.7 951.9 901.7 949.3C902.7 946.8 903.7 944.3 904.7 941.8C905.6 939.2 906.6 936.7 907.6 934.2C908.6 931.7 909.6 929.1 910.6 926.6C911.7 924.1 912.7 921.6 913.7 919.1C914.7 916.5 915.7 914.0 916.7 911.5C917.7 909.0 918.8 906.5 919.8 904.0C920.8 901.5 921.8 899.0 922.9 896.5C923.9 894.0 924.9 891.5 926.0 889.0C927.0 886.5 928.1 884.0 929.1 881.5C930.2 879.0 931.3 876.5 932.3 874.0C933.4 871.5 934.5 869.1 935.6 866.6C936.7 864.1 937.8 861.7 939.0 859.2C940.1 856.7 941.3 854.3 942.4 851.8C943.6 849.4 944.8 846.9 946.0 844.5C947.2 842.1 948.4 839.6 949.6 837.2C950.9 834.8 952.1 832.4 953.4 830.0C954.7 827.6 956.0 825.2 957.4 822.8C958.7 820.4 960.1 818.1 961.5 815.7C962.9 813.3 964.3 811.0 965.7 808.6C967.2 806.3 968.7 804.0 970.2 801.6C971.7 799.3 973.3 797.0 974.8 794.7C976.4 792.5 978.0 790.2 979.7 788.0C981.4 785.7 983.0 783.5 984.8 781.4C986.5 779.3 988.3 777.2 990.1 775.2C992.0 773.1 993.9 771.2 995.8 769.3C997.7 767.4 999.7 765.6 1001.8 763.9C1003.8 762.2 1005.9 760.6 1008.0 759.0C1010.2 757.5 1012.4 756.1 1014.7 754.8C1017.0 753.5 1019.3 752.3 1021.7 751.3C1024.2 750.2 1026.6 749.3 1029.1 748.5C1031.6 747.8 1034.2 747.2 1036.8 746.9C1039.3 746.5 1041.9 746.4 1044.4 746.5C1046.9 746.7 1049.5 747.1 1051.9 747.8C1054.4 748.4 1056.9 749.4 1059.2 750.7C1061.6 752.0 1063.9 753.5 1066.1 755.4C1068.3 757.3 1071.3 761.0 1072.4 762.1"/>
<path d="M850.6 1332.6C851.0 1331.3 852.1 1327.5 852.9 1324.9C853.7 1322.3 854.4 1319.7 855.2 1317.1C856.0 1314.5 856.8 1311.9 857.5 1309.3C858.3 1306.7 859.1 1304.1 859.9 1301.5C860.6 1298.9 861.4 1296.3 862.2 1293.7C862.9 1291.1 863.7 1288.5 864.5 1285.9C865.2 1283.3 866.0 1280.7 866.8 1278.1C867.5 1275.5 868.3 1272.9 869.0 1270.3C869.8 1267.7 870.6 1265.1 871.3 1262.5C872.1 1259.9 872.8 1257.3 873.6 1254.7C874.4 1252.0 875.1 1249.4 875.9 1246.8C876.6 1244.2 877.4 1241.6 878.1 1239.0C878.9 1236.4 879.6 1233.8 880.4 1231.2C881.1 1228.6 881.9 1226.0 882.7 1223.3C883.4 1220.7 884.2 1218.1 884.9 1215.5C885.7 1212.9 886.4 1210.3 887.2 1207.7C887.9 1205.1 888.7 1202.4 889.4 1199.8C890.1 1197.2 890.9 1194.6 891.6 1192.0C892.4 1189.4 893.1 1186.8 893.9 1184.1C894.6 1181.5 895.4 1178.9 896.1 1176.3C896.9 1173.7 897.6 1171.1 898.3 1168.5C899.1 1165.8 899.8 1163.2 900.6 1160.6C901.3 1158.0 902.0 1155.4 902.8 1152.8C903.5 1150.1 904.3 1147.5 905.0 1144.9C905.7 1142.3 906.5 1139.7 907.2 1137.0C908.0 1134.4 908.7 1131.8 909.4 1129.2C910.2 1126.6 910.9 1124.0 911.7 1121.3C912.4 1118.7 913.1 1116.1 913.9 1113.5C914.6 1110.9 915.3 1108.2 916.1 1105.6C916.8 1103.0 917.5 1100.4 918.3 1097.8C919.0 1095.2 919.8 1092.5 920.5 1089.9C921.2 1087.3 922.0 1084.7 922.7 1082.1C923.4 1079.4 924.2 1076.8 924.9 1074.2C925.6 1071.6 926.4 1069.0 927.1 1066.4C927.8 1063.7 928.6 1061.1 929.3 1058.5C930.0 1055.9 930.8 1053.3 931.5 1050.6C932.2 1048.0 933.0 1045.4 933.7 1042.8C934.4 1040.2 935.2 1037.6 935.9 1034.9C936.6 1032.3 937.4 1029.7 938.1 1027.1C938.8 1024.5 939.6 1021.9 940.3 1019.2C941.0 1016.6 941.8 1014.0 942.5 1011.4C943.2 1008.8 944.0 1006.2 944.7 1003.6C945.4 1000.9 946.2 998.3 946.9 995.7C947.6 993.1 948.4 990.5 949.1 987.9C949.8 985.3 950.6 982.6 951.3 980.0C952.1 977.4 952.8 974.8 953.5 972.2C954.3 969.6 955.0 967.0 955.7 964.4C956.5 961.8 957.2 959.2 957.9 956.5C958.7 953.9 959.4 951.3 960.2 948.7C960.9 946.1 961.6 943.5 962.4 940.9C963.1 938.3 963.8 935.7 964.6 933.1C965.3 930.5 966.1 927.9 966.8 925.3C967.5 922.7 968.3 920.1 969.0 917.5C969.8 914.9 970.5 912.3 971.2 909.7C972.0 907.0 972.7 904.4 973.5 901.8C974.2 899.2 975.0 896.7 975.7 894.1C976.4 891.5 977.2 888.9 977.9 886.3C978.7 883.7 979.4 881.1 980.2 878.5C980.9 875.9 981.7 873.3 982.4 870.7C983.2 868.1 984.0 865.5 984.7 862.9C985.5 860.3 986.2 857.7 987.0 855.0C987.8 852.4 988.5 849.8 989.3 847.2C990.1 844.6 990.9 842.0 991.7 839.4C992.4 836.8 993.2 834.2 994.0 831.5C994.8 828.9 995.6 826.3 996.4 823.7C997.2 821.0 998.0 818.4 998.9 815.8C999.7 813.1 1000.5 810.5 1001.3 807.9C1002.2 805.2 1003.0 802.6 1003.9 799.9C1004.7 797.3 1005.6 794.6 1006.5 792.0C1007.3 789.3 1008.2 786.7 1009.2 784.1C1010.2 781.5 1011.2 778.9 1012.3 776.4C1013.4 773.9 1014.5 771.4 1015.8 769.0C1017.0 766.6 1018.4 764.2 1019.8 762.0C1021.3 759.7 1022.9 757.6 1024.6 755.5C1026.3 753.5 1028.1 751.4 1030.1 749.7C1032.1 747.9 1034.3 745.9 1036.7 745.1C1039.0 744.3 1041.7 744.0 1044.2 744.9C1046.6 745.8 1049.2 748.2 1051.2 750.5C1053.1 752.9 1055.2 757.5 1056.0 758.9"/>
<path d="M852.5 1333.2C852.9 1331.9 854.0 1328.0 854.8 1325.4C855.6 1322.8 856.4 1320.2 857.1 1317.7C857.9 1315.1 858.7 1312.5 859.5 1309.9C860.2 1307.3 861.0 1304.7 861.8 1302.1C862.5 1299.5 863.3 1296.9 864.1 1294.3C864.8 1291.7 865.6 1289.1 866.4 1286.5C867.1 1283.9 867.9 1281.3 868.7 1278.7C869.4 1276.1 870.2 1273.4 871.0 1270.8C871.7 1268.2 872.5 1265.6 873.2 1263.0C874.0 1260.4 874.8 1257.8 875.5 1255.2C876.3 1252.6 877.0 1250.0 877.8 1247.4C878.5 1244.8 879.3 1242.2 880.1 1239.6C880.8 1237.0 881.6 1234.3 882.3 1231.7C883.1 1229.1 883.8 1226.5 884.6 1223.9C885.3 1221.3 886.1 1218.7 886.8 1216.1C887.6 1213.4 888.3 1210.8 889.1 1208.2C889.8 1205.6 890.6 1203.0 891.3 1200.4C892.1 1197.8 892.8 1195.2 893.6 1192.5C894.3 1189.9 895.1 1187.3 895.8 1184.7C896.5 1182.1 897.3 1179.5 898.0 1176.8C898.8 1174.2 899.5 1171.6 900.3 1169.0C901.0 1166.4 901.7 1163.8 902.5 1161.1C903.2 1158.5 904.0 1155.9 904.7 1153.3C905.5 1150.7 906.2 1148.1 906.9 1145.4C907.7 1142.8 908.4 1140.2 909.1 1137.6C909.9 1135.0 910.6 1132.4 911.4 1129.7C912.1 1127.1 912.8 1124.5 913.6 1121.9C914.3 1119.3 915.1 1116.6 915.8 1114.0C916.5 1111.4 917.3 1108.8 918.0 1106.2C918.7 1103.6 919.5 1100.9 920.2 1098.3C920.9 1095.7 921.7 1093.1 922.4 1090.5C923.1 1087.8 923.9 1085.2 924.6 1082.6C925.4 1080.0 926.1 1077.4 926.8 1074.7C927.6 1072.1 928.3 1069.5 929.0 1066.9C929.8 1064.3 930.5 1061.7 931.2 1059.0C932.0 1056.4 932.7 1053.8 933.4 1051.2C934.2 1048.6 934.9 1045.9 935.6 1043.3C936.4 1040.7 937.1 1038.1 937.8 1035.5C938.6 1032.9 939.3 1030.2 940.0 1027.6C940.8 1025.0 941.5 1022.4 942.2 1019.8C943.0 1017.2 943.7 1014.6 944.4 1011.9C945.2 1009.3 945.9 1006.7 946.6 1004.1C947.4 1001.5 948.1 998.9 948.8 996.3C949.6 993.6 950.3 991.0 951.0 988.4C951.8 985.8 952.5 983.2 953.2 980.6C954.0 978.0 954.7 975.4 955.5 972.7C956.2 970.1 956.9 967.5 957.7 964.9C958.4 962.3 959.1 959.7 959.9 957.1C960.6 954.5 961.3 951.9 962.1 949.3C962.8 946.7 963.6 944.0 964.3 941.4C965.0 938.8 965.8 936.2 966.5 933.6C967.2 931.0 968.0 928.4 968.7 925.8C969.5 923.2 970.2 920.6 970.9 918.0C971.7 915.4 972.4 912.8 973.2 910.2C973.9 907.6 974.7 905.0 975.4 902.4C976.1 899.8 976.9 897.2 977.6 894.6C978.4 892.0 979.1 889.4 979.9 886.8C980.6 884.2 981.4 881.6 982.1 879.0C982.9 876.4 983.6 873.8 984.4 871.2C985.1 868.6 985.9 866.0 986.6 863.4C987.4 860.8 988.2 858.2 988.9 855.6C989.7 853.0 990.5 850.4 991.2 847.8C992.0 845.2 992.8 842.6 993.6 840.0C994.4 837.4 995.1 834.7 995.9 832.1C996.7 829.5 997.5 826.9 998.3 824.3C999.1 821.6 1000.0 819.0 1000.8 816.4C1001.6 813.7 1002.4 811.1 1003.2 808.5C1004.1 805.8 1004.9 803.2 1005.8 800.5C1006.6 797.9 1007.5 795.2 1008.3 792.6C1009.2 790.0 1010.1 787.3 1011.1 784.8C1012.1 782.2 1013.0 779.6 1014.1 777.2C1015.2 774.7 1016.3 772.2 1017.6 769.9C1018.8 767.5 1020.1 765.2 1021.5 763.1C1022.9 760.9 1024.4 758.8 1026.1 756.8C1027.8 754.8 1029.5 752.8 1031.4 751.2C1033.3 749.6 1035.3 747.7 1037.3 747.0C1039.4 746.3 1041.4 745.9 1043.4 746.7C1045.5 747.5 1047.8 749.6 1049.6 751.8C1051.4 754.0 1053.4 758.6 1054.2 759.9"/>
<path d="M180.0 1206.2C180.8 1206.5 183.3 1207.3 184.9 1207.8C186.5 1208.4 188.2 1209.0 189.8 1209.5C191.4 1210.1 193.0 1210.7 194.7 1211.3C196.3 1211.9 197.9 1212.4 199.6 1213.0C201.2 1213.5 202.9 1214.0 204.5 1214.5C206.2 1214.9 207.9 1215.3 209.5 1215.7C211.2 1216.0 212.9 1216.3 214.6 1216.5C216.4 1216.7 218.1 1216.9 219.8 1217.0C221.5 1217.1 223.3 1217.1 225.0 1217.1C226.7 1217.1 228.5 1217.0 230.2 1216.9C232.0 1216.8 233.7 1216.6 235.4 1216.4C237.1 1216.2 238.9 1215.9 240.6 1215.6C242.3 1215.3 243.9 1214.9 245.6 1214.6C247.3 1214.2 249.0 1213.7 250.6 1213.3C252.3 1212.8 253.9 1212.3 255.5 1211.7C257.2 1211.2 258.8 1210.6 260.4 1209.9C262.0 1209.3 263.6 1208.6 265.1 1208.0C266.7 1207.3 268.2 1206.5 269.8 1205.8C271.3 1205.0 272.9 1204.2 274.4 1203.4C275.9 1202.5 277.4 1201.7 278.9 1200.8C280.3 1199.9 281.8 1199.0 283.2 1198.1C284.7 1197.1 286.1 1196.2 287.5 1195.2C289.0 1194.2 290.4 1193.2 291.7 1192.1C293.1 1191.1 294.5 1190.0 295.9 1188.9C297.2 1187.9 298.5 1186.8 299.9 1185.6C301.2 1184.5 302.5 1183.4 303.7 1182.2C305.0 1181.1 306.3 1179.9 307.6 1178.7C308.8 1177.5 310.1 1176.3 311.3 1175.1C312.5 1173.9 313.7 1172.7 314.9 1171.4C316.2 1170.2 317.4 1169.0 318.6 1167.7C319.8 1166.5 320.9 1165.2 322.1 1163.9C323.3 1162.7 324.5 1161.4 325.7 1160.2C326.9 1158.9 328.0 1157.6 329.2 1156.4C330.4 1155.1 331.6 1153.8 332.7 1152.6C333.9 1151.3 335.1 1150.1 336.3 1148.8C337.5 1147.6 338.7 1146.3 339.9 1145.1C341.1 1143.9 342.3 1142.6 343.5 1141.4C344.7 1140.3 345.9 1138.2 347.2 1138.1C348.5 1138.1 350.4 1139.9 351.2 1141.2C352.0 1142.5 351.9 1145.2 352.0 1146.0"/>
<path d="M349.0 1118.0C349.3 1118.8 349.8 1121.5 350.5 1122.8C351.3 1124.2 352.7 1126.0 353.7 1126.0C354.7 1126.0 355.7 1124.1 356.7 1122.9C357.7 1121.7 358.6 1120.2 359.5 1118.8C360.5 1117.4 361.4 1115.9 362.3 1114.4C363.3 1113.0 364.2 1111.6 365.2 1110.1C366.1 1108.7 367.1 1107.3 368.1 1105.9C369.0 1104.5 370.0 1103.1 371.0 1101.7C372.0 1100.3 373.0 1099.0 374.0 1097.6C375.0 1096.2 376.0 1094.9 377.0 1093.5C378.0 1092.2 379.0 1090.8 380.1 1089.5C381.1 1088.1 382.1 1086.8 383.2 1085.5C384.2 1084.1 385.2 1082.8 386.3 1081.5C387.3 1080.2 388.4 1078.9 389.4 1077.6C390.5 1076.3 391.6 1075.0 392.6 1073.7C393.7 1072.4 394.8 1071.1 395.8 1069.8C396.9 1068.5 398.0 1067.2 399.1 1065.9C400.2 1064.6 401.2 1063.4 402.3 1062.1C403.4 1060.8 404.5 1059.5 405.6 1058.3C406.7 1057.0 407.8 1055.7 408.9 1054.5C410.0 1053.2 411.1 1051.9 412.2 1050.7C413.3 1049.4 414.4 1048.1 415.5 1046.9C416.6 1045.6 417.7 1044.3 418.8 1043.1C419.9 1041.8 421.1 1040.5 422.2 1039.3C423.3 1038.0 424.4 1036.7 425.5 1035.5C426.6 1034.2 427.7 1032.9 428.8 1031.6C430.0 1030.4 431.1 1029.1 432.2 1027.8C433.3 1026.5 434.4 1025.3 435.5 1024.0C436.6 1022.7 437.8 1021.4 438.9 1020.1C440.0 1018.8 441.1 1017.5 442.2 1016.3C443.3 1015.0 444.5 1013.7 445.6 1012.4C446.7 1011.1 447.8 1009.9 449.0 1008.6C450.1 1007.3 451.3 1006.1 452.4 1004.8C453.6 1003.6 454.7 1002.3 455.9 1001.1C457.1 999.9 458.3 998.7 459.5 997.5C460.7 996.3 461.9 995.1 463.1 993.9C464.3 992.8 465.5 991.6 466.8 990.5C468.0 989.4 469.3 988.3 470.6 987.2C471.9 986.1 473.2 985.0 474.5 984.0C475.8 983.0 477.1 982.0 478.5 981.0C479.9 980.0 481.2 979.0 482.6 978.1C484.1 977.2 485.5 976.3 486.9 975.4C488.4 974.6 489.8 973.8 491.3 973.0C492.8 972.2 494.3 971.4 495.8 970.7C497.3 970.0 498.8 969.3 500.4 968.7C501.9 968.1 503.5 967.5 505.1 966.9C506.7 966.4 508.3 965.9 509.9 965.4C511.5 965.0 513.1 964.5 514.7 964.2C516.3 963.8 518.0 963.5 519.6 963.2C521.3 962.9 522.9 962.7 524.6 962.5C526.3 962.3 528.0 962.1 529.6 962.0C531.3 961.8 533.0 961.7 534.7 961.6C536.4 961.5 538.1 961.4 539.8 961.3C541.5 961.2 543.2 961.1 544.8 961.0C546.5 960.9 548.2 960.8 549.9 960.6C551.6 960.5 553.3 960.4 555.0 960.2C556.7 960.0 558.3 959.9 560.0 959.6C561.7 959.4 563.4 959.2 565.0 958.9C566.7 958.6 568.3 958.3 570.0 958.0C571.6 957.6 573.3 957.3 574.9 956.9C576.5 956.5 578.2 956.1 579.8 955.7C581.4 955.3 583.0 954.8 584.7 954.4C586.3 953.9 587.9 953.4 589.5 952.9C591.1 952.4 592.7 951.9 594.3 951.4C595.9 950.9 597.6 950.3 599.2 949.8C600.8 949.3 602.4 948.7 604.0 948.2C605.6 947.6 607.2 947.0 608.8 946.5C610.4 945.9 612.0 945.3 613.6 944.8C615.2 944.2 616.7 943.6 618.3 943.0C619.9 942.5 621.5 941.9 623.1 941.3C624.7 940.8 626.3 940.2 628.0 939.7C629.6 939.1 631.2 938.6 632.8 938.0C634.4 937.5 636.0 937.0 637.6 936.5C639.2 936.0 640.8 935.5 642.5 935.0C644.1 934.5 645.7 934.1 647.3 933.6C649.0 933.2 650.6 932.7 652.2 932.3C653.9 931.9 655.5 931.6 657.2 931.2C658.8 930.8 660.5 930.5 662.1 930.2C663.8 929.8 665.4 929.5 667.1 929.3C668.7 929.0 670.4 928.7 672.1 928.5C673.7 928.3 675.4 928.1 677.1 927.9C678.8 927.7 680.4 927.6 682.1 927.4C683.8 927.3 685.5 927.2 687.2 927.1C688.9 927.0 690.6 927.0 692.2 926.9C693.9 926.9 695.6 926.9 697.3 926.9C699.0 926.9 700.7 927.0 702.4 927.1C704.1 927.1 705.8 927.3 707.5 927.4C709.2 927.6 710.9 927.7 712.5 928.0C714.2 928.2 715.9 928.4 717.6 928.7C719.2 929.0 720.9 929.3 722.5 929.7C724.1 930.1 725.8 930.5 727.4 931.0C729.0 931.4 730.6 932.0 732.2 932.5C733.7 933.1 735.3 933.7 736.8 934.3C738.4 935.0 739.9 935.7 741.4 936.5C742.9 937.2 744.4 938.0 745.9 938.8C747.3 939.6 748.8 940.5 750.2 941.4C751.6 942.3 753.1 943.2 754.5 944.2C755.9 945.2 757.3 946.1 758.6 947.1C760.0 948.1 761.4 949.2 762.7 950.2C764.0 951.3 765.4 952.3 766.7 953.4C768.0 954.4 769.3 955.5 770.6 956.6C771.9 957.7 773.2 958.8 774.5 959.9C775.7 961.0 777.0 962.2 778.2 963.3C779.5 964.4 780.7 965.6 781.9 966.7C783.2 967.9 784.4 969.1 785.6 970.2C786.8 971.4 788.0 972.6 789.2 973.8C790.4 975.0 791.5 976.2 792.7 977.4C793.9 978.6 795.0 979.9 796.2 981.1C797.3 982.3 798.5 983.6 799.6 984.8C800.7 986.1 801.8 987.3 803.0 988.6C804.1 989.8 805.2 991.1 806.3 992.4C807.4 993.7 808.5 994.9 809.6 996.2C810.6 997.5 811.7 998.8 812.8 1000.1C813.9 1001.4 814.9 1002.7 816.0 1004.0C817.1 1005.3 818.1 1006.6 819.2 1008.0C820.2 1009.3 821.3 1010.6 822.3 1011.9C823.4 1013.3 824.4 1014.6 825.4 1015.9C826.5 1017.3 827.5 1018.6 828.5 1019.9C829.6 1021.3 830.6 1022.6 831.6 1024.0C832.6 1025.3 833.6 1026.7 834.6 1028.0C835.7 1029.4 836.7 1030.7 837.7 1032.1C838.7 1033.4 839.7 1034.8 840.7 1036.1C841.7 1037.5 842.7 1038.8 843.7 1040.2C844.7 1041.6 845.7 1042.9 846.7 1044.3C847.7 1045.6 848.7 1047.0 849.7 1048.3C850.7 1049.7 851.7 1051.1 852.7 1052.4C853.7 1053.8 854.7 1055.1 855.7 1056.5C856.7 1057.8 858.2 1059.8 858.8 1060.5"/>
<path d="M859.1 1056.6C859.5 1057.4 860.5 1060.0 861.2 1061.7C862.0 1063.3 862.9 1064.9 863.7 1066.5C864.6 1068.1 865.6 1069.7 866.5 1071.2C867.5 1072.8 868.5 1074.3 869.6 1075.8C870.6 1077.3 871.7 1078.8 872.8 1080.3C873.9 1081.7 875.1 1083.2 876.2 1084.6C877.3 1086.1 878.5 1087.5 879.7 1089.0C880.8 1090.4 882.0 1091.8 883.1 1093.3C884.3 1094.7 885.5 1096.2 886.6 1097.6C887.7 1099.0 888.9 1100.5 890.0 1101.9C891.2 1103.4 892.3 1104.8 893.5 1106.2C894.6 1107.7 895.8 1109.1 897.0 1110.5C898.2 1111.9 899.4 1113.2 900.6 1114.6C901.8 1115.9 903.1 1117.2 904.4 1118.5C905.6 1119.8 907.0 1121.0 908.3 1122.3C909.6 1123.5 911.3 1125.6 911.9 1126.2"/>
<path d="M910.2 1126.7C910.5 1127.5 911.0 1130.0 911.7 1131.6C912.4 1133.2 913.2 1134.6 914.2 1136.0C915.1 1137.5 916.2 1138.8 917.3 1140.1C918.4 1141.5 919.6 1142.8 920.8 1144.1C921.9 1145.4 923.1 1146.7 924.3 1148.0C925.4 1149.3 926.6 1150.6 927.8 1151.8C929.0 1153.1 930.2 1154.4 931.4 1155.6C932.6 1156.9 933.9 1158.1 935.1 1159.3C936.3 1160.6 937.6 1161.8 938.8 1163.0C940.0 1164.2 941.3 1165.4 942.6 1166.6C943.8 1167.8 945.1 1169.0 946.4 1170.1C947.7 1171.3 949.0 1172.5 950.3 1173.6C951.6 1174.8 952.9 1175.9 954.3 1177.0C955.6 1178.2 956.9 1179.3 958.3 1180.4C959.6 1181.5 961.0 1182.6 962.4 1183.6C963.7 1184.7 965.1 1185.8 966.5 1186.8C967.9 1187.9 969.3 1188.9 970.7 1189.9C972.1 1191.0 973.6 1192.0 975.0 1193.0C976.4 1194.0 977.9 1195.0 979.4 1195.9C980.8 1196.9 982.3 1197.9 983.8 1198.8C985.3 1199.7 986.8 1200.6 988.3 1201.5C989.8 1202.4 991.3 1203.3 992.8 1204.1C994.4 1205.0 995.9 1205.8 997.5 1206.5C999.1 1207.3 1000.6 1208.1 1002.2 1208.8C1003.8 1209.5 1005.4 1210.2 1007.0 1210.8C1008.6 1211.5 1010.2 1212.1 1011.9 1212.6C1013.5 1213.2 1015.2 1213.7 1016.8 1214.2C1018.5 1214.7 1020.2 1215.1 1021.9 1215.5C1023.5 1215.9 1025.2 1216.2 1027.0 1216.5C1028.7 1216.8 1030.4 1217.0 1032.1 1217.2C1033.9 1217.4 1035.6 1217.5 1037.4 1217.6C1039.1 1217.6 1040.9 1217.6 1042.6 1217.5C1044.4 1217.4 1046.1 1217.3 1047.9 1217.0C1049.6 1216.8 1051.3 1216.5 1053.0 1216.1C1054.7 1215.7 1056.4 1215.3 1058.1 1214.8C1059.8 1214.3 1061.4 1213.8 1063.1 1213.3C1064.7 1212.7 1066.4 1212.2 1068.0 1211.6C1069.7 1211.0 1072.2 1210.2 1073.0 1209.9"/>
<path d="M180.1 1265.5C180.8 1265.8 183.1 1266.9 184.6 1267.6C186.1 1268.3 187.7 1269.0 189.3 1269.6C190.8 1270.2 192.4 1270.8 194.1 1271.3C195.7 1271.8 197.3 1272.4 199.0 1272.8C200.6 1273.3 202.3 1273.7 204.0 1274.1C205.7 1274.5 207.4 1274.9 209.1 1275.2C210.8 1275.5 212.5 1275.7 214.3 1275.9C216.0 1276.2 217.7 1276.3 219.4 1276.5C221.2 1276.6 222.9 1276.7 224.6 1276.7C226.4 1276.8 228.1 1276.7 229.8 1276.7C231.5 1276.6 233.2 1276.5 234.9 1276.3C236.6 1276.2 238.3 1275.9 240.0 1275.7C241.7 1275.4 243.3 1275.1 245.0 1274.7C246.6 1274.3 248.3 1273.9 249.9 1273.4C251.5 1272.9 253.1 1272.4 254.7 1271.8C256.3 1271.3 257.9 1270.6 259.4 1270.0C261.0 1269.3 262.5 1268.6 264.1 1267.9C265.6 1267.2 267.1 1266.4 268.6 1265.6C270.1 1264.8 271.6 1263.9 273.1 1263.0C274.5 1262.2 276.0 1261.3 277.4 1260.3C278.9 1259.4 280.3 1258.4 281.7 1257.4C283.1 1256.4 284.5 1255.4 285.9 1254.4C287.3 1253.3 288.6 1252.3 290.0 1251.2C291.3 1250.1 292.7 1249.0 294.0 1247.9C295.3 1246.8 296.6 1245.7 297.9 1244.5C299.2 1243.4 300.5 1242.2 301.7 1241.1C303.0 1239.9 304.2 1238.7 305.5 1237.6C306.7 1236.4 307.9 1235.2 309.1 1234.0C310.3 1232.8 311.5 1231.6 312.7 1230.4C313.9 1229.1 315.1 1227.9 316.2 1226.7C317.4 1225.5 318.5 1224.2 319.7 1223.0C320.8 1221.7 322.0 1220.4 323.1 1219.2C324.2 1217.9 325.3 1216.6 326.5 1215.4C327.6 1214.1 328.7 1212.8 329.8 1211.5C330.9 1210.2 332.0 1208.9 333.1 1207.6C334.2 1206.3 335.3 1205.0 336.4 1203.6C337.5 1202.3 338.6 1201.0 339.7 1199.7C340.9 1198.3 342.0 1197.0 343.1 1195.7C344.2 1194.3 345.3 1193.0 346.4 1191.6C347.5 1190.3 348.6 1188.9 349.7 1187.6C350.9 1186.2 352.0 1184.7 353.2 1183.7C354.4 1182.6 355.7 1180.8 356.9 1181.1C358.1 1181.5 359.6 1184.3 360.4 1185.6C361.1 1186.9 361.3 1188.4 361.5 1189.0"/>
<path d="M358.5 1159.9C358.8 1160.9 359.4 1164.9 360.1 1166.0C360.9 1167.2 362.2 1167.3 363.2 1167.0C364.2 1166.7 365.2 1165.2 366.2 1164.1C367.2 1163.0 368.1 1161.8 369.0 1160.5C369.9 1159.2 370.8 1157.8 371.7 1156.4C372.6 1155.0 373.4 1153.5 374.3 1152.0C375.1 1150.5 376.0 1149.0 376.8 1147.4C377.7 1145.9 378.6 1144.4 379.4 1142.8C380.3 1141.3 381.2 1139.8 382.1 1138.3C383.1 1136.9 384.0 1135.4 384.9 1134.0C385.9 1132.5 386.8 1131.1 387.8 1129.7C388.8 1128.3 389.8 1126.9 390.8 1125.6C391.8 1124.2 392.8 1122.9 393.8 1121.5C394.8 1120.2 395.8 1118.8 396.9 1117.5C397.9 1116.2 398.9 1114.9 400.0 1113.6C401.0 1112.3 402.1 1111.0 403.1 1109.7C404.2 1108.4 405.2 1107.1 406.3 1105.8C407.3 1104.5 408.4 1103.2 409.4 1101.9C410.5 1100.7 411.5 1099.4 412.6 1098.1C413.6 1096.8 414.6 1095.5 415.7 1094.2C416.7 1092.8 417.7 1091.5 418.8 1090.2C419.8 1088.9 420.8 1087.5 421.8 1086.2C422.8 1084.9 423.8 1083.5 424.8 1082.1C425.8 1080.8 426.8 1079.4 427.7 1078.0C428.7 1076.7 429.7 1075.3 430.7 1073.9C431.7 1072.5 432.7 1071.1 433.6 1069.8C434.6 1068.4 435.6 1067.0 436.6 1065.6C437.6 1064.2 438.6 1062.9 439.6 1061.5C440.6 1060.1 441.6 1058.8 442.6 1057.4C443.6 1056.1 444.6 1054.7 445.7 1053.4C446.7 1052.1 447.7 1050.7 448.8 1049.4C449.9 1048.1 450.9 1046.8 452.0 1045.5C453.1 1044.2 454.2 1043.0 455.3 1041.7C456.5 1040.5 457.6 1039.2 458.7 1038.0C459.9 1036.8 461.1 1035.5 462.2 1034.3C463.4 1033.2 464.6 1032.0 465.8 1030.8C467.0 1029.6 468.3 1028.5 469.5 1027.4C470.7 1026.2 472.0 1025.1 473.3 1024.0C474.5 1022.9 475.8 1021.8 477.1 1020.8C478.4 1019.7 479.7 1018.6 481.1 1017.6C482.4 1016.6 483.7 1015.6 485.1 1014.6C486.5 1013.6 487.9 1012.6 489.3 1011.6C490.6 1010.7 492.1 1009.7 493.5 1008.8C494.9 1007.9 496.4 1007.0 497.8 1006.1C499.3 1005.3 500.8 1004.5 502.3 1003.8C503.8 1003.1 505.3 1002.4 506.9 1001.9C508.5 1001.4 510.1 1000.9 511.7 1000.6C513.3 1000.3 515.0 1000.2 516.7 1000.1C518.4 1000.0 520.1 1000.1 521.9 1000.1C523.6 1000.1 525.3 1000.1 527.0 1000.1C528.7 1000.1 530.4 1000.0 532.1 999.9C533.8 999.8 535.5 999.7 537.2 999.5C538.9 999.4 540.6 999.2 542.2 999.0C543.9 998.8 545.6 998.6 547.3 998.3C548.9 998.1 550.6 997.8 552.2 997.5C553.9 997.2 555.5 996.9 557.2 996.6C558.8 996.2 560.5 995.9 562.1 995.5C563.7 995.1 565.4 994.8 567.0 994.4C568.6 994.0 570.2 993.5 571.8 993.1C573.5 992.7 575.1 992.2 576.7 991.8C578.3 991.3 579.9 990.9 581.5 990.4C583.1 989.9 584.7 989.4 586.3 988.9C587.9 988.4 589.5 987.9 591.0 987.4C592.6 986.8 594.2 986.3 595.8 985.8C597.4 985.2 599.0 984.7 600.6 984.1C602.2 983.5 603.7 983.0 605.3 982.4C606.9 981.8 608.5 981.3 610.1 980.7C611.7 980.1 613.3 979.5 614.8 978.9C616.4 978.3 618.0 977.8 619.6 977.2C621.2 976.6 622.8 976.0 624.4 975.4C626.0 974.8 627.6 974.2 629.2 973.6C630.8 973.0 632.4 972.4 634.0 971.8C635.6 971.3 637.2 970.7 638.8 970.1C640.4 969.6 642.0 969.0 643.6 968.5C645.2 967.9 646.8 967.4 648.4 966.9C650.1 966.4 651.7 965.9 653.3 965.4C654.9 964.9 656.5 964.5 658.2 964.0C659.8 963.6 661.4 963.2 663.1 962.8C664.7 962.4 666.3 962.0 668.0 961.7C669.6 961.3 671.3 961.0 672.9 960.7C674.6 960.5 676.2 960.2 677.9 960.0C679.5 959.8 681.2 959.6 682.8 959.4C684.5 959.3 686.2 959.2 687.8 959.1C689.5 959.0 691.2 959.0 692.9 959.0C694.5 959.0 696.2 959.0 697.9 959.1C699.6 959.2 701.3 959.4 703.0 959.5C704.7 959.7 706.4 959.9 708.0 960.2C709.7 960.4 711.4 960.7 713.1 961.1C714.7 961.4 716.4 961.8 718.1 962.2C719.7 962.6 721.3 963.1 723.0 963.6C724.6 964.1 726.2 964.6 727.8 965.2C729.4 965.7 731.0 966.3 732.5 967.0C734.1 967.6 735.6 968.3 737.1 969.0C738.6 969.7 740.1 970.5 741.6 971.2C743.1 972.0 744.5 972.8 745.9 973.7C747.3 974.5 748.7 975.4 750.1 976.3C751.5 977.2 752.9 978.1 754.2 979.1C755.6 980.1 756.9 981.1 758.2 982.1C759.5 983.1 760.8 984.1 762.1 985.2C763.4 986.2 764.6 987.3 765.9 988.4C767.1 989.5 768.3 990.7 769.5 991.8C770.8 993.0 772.0 994.1 773.1 995.3C774.3 996.5 775.5 997.7 776.7 998.9C777.8 1000.2 779.0 1001.4 780.1 1002.7C781.2 1003.9 782.4 1005.2 783.5 1006.5C784.6 1007.7 785.7 1009.0 786.8 1010.3C787.9 1011.6 789.0 1013.0 790.1 1014.3C791.2 1015.6 792.2 1016.9 793.3 1018.3C794.4 1019.6 795.4 1021.0 796.5 1022.3C797.5 1023.6 798.6 1025.0 799.6 1026.4C800.7 1027.7 801.7 1029.1 802.7 1030.4C803.8 1031.8 804.8 1033.2 805.8 1034.5C806.9 1035.9 807.9 1037.3 808.9 1038.6C809.9 1040.0 810.9 1041.3 812.0 1042.7C813.0 1044.1 814.0 1045.4 815.0 1046.8C816.0 1048.1 817.1 1049.5 818.1 1050.8C819.1 1052.1 820.1 1053.5 821.1 1054.8C822.1 1056.2 823.1 1057.5 824.1 1058.9C825.2 1060.2 826.2 1061.5 827.2 1062.9C828.2 1064.2 829.2 1065.6 830.2 1066.9C831.2 1068.2 832.2 1069.6 833.2 1070.9C834.2 1072.3 835.2 1073.6 836.1 1074.9C837.1 1076.3 838.1 1077.6 839.1 1079.0C840.1 1080.3 841.1 1081.7 842.1 1083.0C843.0 1084.3 844.0 1085.7 845.0 1087.0C846.0 1088.4 846.9 1089.8 847.9 1091.1C848.9 1092.5 849.8 1093.8 850.8 1095.2C851.7 1096.6 852.7 1097.9 853.7 1099.3C854.6 1100.7 855.6 1102.0 856.5 1103.4C857.5 1104.8 858.4 1106.2 859.3 1107.6C860.3 1109.0 861.2 1110.4 862.1 1111.8C863.1 1113.2 864.0 1114.6 864.9 1116.0C865.9 1117.4 866.8 1118.8 867.7 1120.2C868.6 1121.7 869.5 1123.1 870.4 1124.5C871.3 1126.0 872.2 1127.4 873.1 1128.8C874.0 1130.3 874.9 1131.7 875.8 1133.2C876.8 1134.6 877.7 1136.1 878.6 1137.5C879.5 1138.9 880.4 1140.3 881.4 1141.8C882.3 1143.2 883.3 1144.6 884.2 1146.0C885.2 1147.4 886.2 1148.7 887.2 1150.1C888.2 1151.4 889.2 1152.8 890.3 1154.1C891.3 1155.4 892.4 1156.7 893.5 1157.9C894.6 1159.2 895.8 1160.4 896.9 1161.6C898.0 1162.8 899.3 1163.9 900.2 1165.3C901.1 1166.7 901.7 1169.2 902.0 1170.0"/>
<path d="M899.4 1168.0C899.7 1168.9 900.1 1171.7 900.9 1173.1C901.8 1174.5 903.4 1175.4 904.7 1176.6C905.9 1177.8 907.2 1179.0 908.4 1180.2C909.5 1181.5 910.7 1182.8 911.8 1184.0C913.0 1185.3 914.1 1186.6 915.2 1187.9C916.4 1189.3 917.5 1190.6 918.6 1191.9C919.7 1193.2 920.8 1194.5 921.9 1195.9C923.1 1197.2 924.2 1198.6 925.3 1199.9C926.4 1201.2 927.5 1202.6 928.6 1203.9C929.7 1205.3 930.8 1206.6 931.9 1208.0C933.0 1209.3 934.1 1210.7 935.2 1212.0C936.3 1213.3 937.4 1214.7 938.6 1216.0C939.7 1217.4 940.8 1218.7 941.9 1220.0C943.1 1221.3 944.2 1222.7 945.4 1224.0C946.5 1225.3 947.7 1226.6 948.8 1227.9C950.0 1229.2 951.2 1230.4 952.3 1231.7C953.5 1233.0 954.7 1234.2 955.9 1235.5C957.1 1236.7 958.4 1238.0 959.6 1239.2C960.8 1240.4 962.1 1241.6 963.3 1242.8C964.6 1243.9 965.9 1245.1 967.2 1246.3C968.5 1247.4 969.8 1248.5 971.1 1249.6C972.5 1250.7 973.8 1251.8 975.2 1252.9C976.6 1253.9 978.0 1255.0 979.4 1256.0C980.8 1257.0 982.3 1258.0 983.7 1258.9C985.2 1259.9 986.6 1260.8 988.1 1261.7C989.6 1262.6 991.1 1263.5 992.7 1264.3C994.2 1265.1 995.7 1265.9 997.3 1266.7C998.9 1267.4 1000.4 1268.2 1002.0 1268.9C1003.6 1269.5 1005.2 1270.2 1006.8 1270.8C1008.5 1271.4 1010.1 1272.0 1011.7 1272.5C1013.4 1273.0 1015.0 1273.5 1016.7 1273.9C1018.4 1274.3 1020.1 1274.7 1021.8 1275.0C1023.5 1275.3 1025.2 1275.6 1026.9 1275.9C1028.6 1276.1 1030.3 1276.3 1032.1 1276.4C1033.8 1276.5 1035.5 1276.6 1037.3 1276.6C1039.0 1276.6 1040.8 1276.6 1042.5 1276.5C1044.3 1276.4 1046.0 1276.2 1047.8 1276.1C1049.5 1275.9 1051.2 1275.6 1053.0 1275.4C1054.7 1275.1 1056.4 1274.8 1058.1 1274.4C1059.8 1274.0 1061.5 1273.6 1063.2 1273.2C1064.8 1272.7 1066.5 1272.2 1068.1 1271.7C1069.8 1271.2 1072.2 1270.3 1073.0 1270.0"/>
</g>
<g stroke="#ff7f0e" stroke-opacity="0.8" stroke-width="5">
<path d="M206.9 119.7C207.3 121.4 207.7 127.1 209.0 129.8C210.4 132.6 212.8 134.8 215.1 136.3C217.5 137.8 220.5 138.7 223.1 138.9C225.8 139.1 228.7 138.7 231.1 137.6C233.5 136.6 235.5 134.7 237.3 132.6C239.1 130.5 240.6 127.7 241.9 125.0C243.2 122.3 244.3 119.3 245.4 116.5C246.5 113.6 247.4 110.7 248.4 107.8C249.4 105.0 250.4 102.1 251.5 99.3C252.6 96.5 253.7 93.8 254.8 91.0C255.9 88.3 257.1 85.6 258.3 82.9C259.4 80.2 260.6 77.5 261.8 74.8C263.0 72.1 264.2 69.4 265.4 66.8C266.6 64.1 267.8 61.4 269.0 58.7C270.2 56.1 271.4 53.4 272.6 50.7C273.8 48.0 275.0 45.3 276.2 42.5C277.3 39.8 278.5 37.1 279.6 34.3C280.7 31.5 282.4 27.3 282.9 25.9"/>
<path d="M204.0 157.8C204.5 159.3 205.3 164.0 206.8 166.6C208.2 169.2 210.5 171.5 212.8 173.2C215.1 174.8 218.0 176.0 220.7 176.5C223.3 177.0 226.3 176.8 228.8 176.2C231.4 175.6 233.8 174.4 235.9 172.9C238.0 171.4 239.8 169.5 241.4 167.4C243.0 165.3 244.4 162.8 245.7 160.3C247.1 157.8 248.2 155.0 249.3 152.2C250.5 149.5 251.5 146.6 252.6 143.8C253.7 141.0 254.8 138.3 255.9 135.6C257.0 132.8 258.1 130.1 259.2 127.5C260.4 124.8 261.5 122.1 262.6 119.5C263.7 116.9 264.9 114.3 266.0 111.7C267.1 109.1 268.3 106.5 269.4 103.9C270.6 101.4 271.7 98.8 272.9 96.3C274.0 93.7 275.2 91.2 276.4 88.6C277.5 86.1 278.7 83.6 279.9 81.1C281.1 78.5 282.2 76.0 283.4 73.5C284.6 70.9 285.8 68.4 287.0 65.9C288.2 63.3 289.4 60.8 290.6 58.2C291.8 55.7 293.0 53.1 294.2 50.5C295.4 47.9 296.6 45.3 297.8 42.7C299.0 40.1 300.2 37.4 301.4 34.8C302.6 32.1 304.5 28.1 305.1 26.7"/>
<path d="M979.8 25.2C980.4 26.5 982.2 30.4 983.3 33.0C984.5 35.6 985.6 38.3 986.7 41.0C987.7 43.7 988.8 46.4 989.8 49.1C990.9 51.8 991.9 54.6 992.9 57.3C993.9 60.1 994.9 62.8 995.9 65.6C996.9 68.3 998.0 71.1 999.0 73.9C1000.0 76.6 1001.1 79.3 1002.2 82.1C1003.3 84.8 1004.4 87.5 1005.5 90.2C1006.7 92.9 1007.9 95.6 1009.1 98.3C1010.3 100.9 1011.6 103.5 1013.0 106.1C1014.3 108.7 1015.7 111.3 1017.2 113.8C1018.7 116.3 1020.3 118.7 1021.9 121.2C1023.6 123.6 1025.3 126.0 1027.1 128.3C1028.9 130.6 1030.8 133.2 1032.8 134.9C1034.9 136.6 1037.0 138.6 1039.2 138.7C1041.4 138.8 1044.0 137.5 1046.2 135.5C1048.4 133.6 1050.9 129.7 1052.7 127.1C1054.4 124.5 1055.9 121.0 1056.5 119.8"/>
<path d="M960.0 24.8C960.6 26.1 962.4 30.2 963.6 32.8C964.8 35.5 966.0 38.2 967.1 40.9C968.3 43.5 969.4 46.2 970.5 48.8C971.7 51.5 972.8 54.1 973.9 56.7C975.0 59.4 976.1 62.0 977.2 64.6C978.3 67.2 979.4 69.9 980.5 72.5C981.5 75.1 982.6 77.7 983.7 80.3C984.8 82.9 985.9 85.5 987.0 88.1C988.1 90.7 989.2 93.3 990.4 95.9C991.5 98.5 992.6 101.0 993.7 103.6C994.9 106.2 996.0 108.8 997.2 111.4C998.4 114.0 999.6 116.6 1000.8 119.2C1002.0 121.7 1003.2 124.3 1004.5 126.9C1005.7 129.5 1007.0 132.1 1008.3 134.7C1009.6 137.3 1010.9 139.9 1012.3 142.5C1013.6 145.1 1015.0 147.7 1016.4 150.3C1017.8 152.9 1019.3 155.5 1020.8 158.1C1022.3 160.7 1023.8 163.5 1025.4 165.9C1027.0 168.4 1028.6 171.0 1030.5 172.8C1032.4 174.6 1034.6 176.2 1036.9 176.7C1039.2 177.1 1042.0 176.6 1044.3 175.4C1046.7 174.3 1049.3 171.9 1051.1 169.5C1052.8 167.2 1054.3 162.8 1055.0 161.4"/>
<path d="M212.9 282.7C213.5 282.0 215.2 279.5 216.6 278.4C217.9 277.2 219.5 276.3 221.0 275.8C222.5 275.3 224.1 275.1 225.6 275.3C227.1 275.4 228.6 276.1 230.0 276.8C231.4 277.6 232.7 278.7 234.0 279.8C235.2 280.9 236.4 282.2 237.5 283.5C238.7 284.8 239.7 286.1 240.7 287.4C241.7 288.8 242.6 290.2 243.5 291.6C244.3 293.0 245.1 294.4 245.9 295.9C246.7 297.4 247.4 298.9 248.1 300.4C248.8 301.9 249.5 303.5 250.2 305.1C250.8 306.7 251.4 308.3 252.1 309.9C252.7 311.6 253.3 313.3 254.0 314.9C254.6 316.5 255.3 318.2 256.0 319.7C256.8 321.2 257.6 322.7 258.5 324.0C259.4 325.4 260.4 326.6 261.6 327.7C262.7 328.7 264.0 329.6 265.3 330.2C266.7 330.8 268.2 331.1 269.8 331.2C271.4 331.3 273.1 331.1 274.8 330.8C276.4 330.6 278.1 330.1 279.8 329.7C281.5 329.3 283.1 328.9 284.7 328.4C286.4 327.9 288.0 327.4 289.6 326.8C291.2 326.3 292.8 325.7 294.3 325.1C295.9 324.5 297.5 323.9 299.1 323.3C300.6 322.7 302.2 322.1 303.8 321.5C305.3 320.9 306.9 320.3 308.5 319.7C310.0 319.1 311.6 318.4 313.2 317.8C314.7 317.2 316.3 316.6 317.8 315.9C319.4 315.3 321.0 314.7 322.5 314.0C324.1 313.4 325.6 312.8 327.2 312.1C328.7 311.5 330.3 310.8 331.8 310.1C333.3 309.5 334.9 308.8 336.4 308.2C338.0 307.5 339.5 306.8 341.0 306.2C342.6 305.5 344.1 304.8 345.6 304.1C347.2 303.4 348.7 302.7 350.2 302.0C351.7 301.3 353.3 300.6 354.8 299.9C356.3 299.2 357.8 298.5 359.3 297.8C360.8 297.1 362.3 296.3 363.8 295.6C365.3 294.9 366.8 294.1 368.3 293.4C369.8 292.6 371.3 291.9 372.8 291.1C374.3 290.4 375.8 289.6 377.3 288.8C378.8 288.1 380.3 287.3 381.7 286.5C383.2 285.7 384.7 284.9 386.2 284.1C387.6 283.3 389.1 282.5 390.6 281.7C392.0 280.9 393.5 280.0 395.0 279.2C396.4 278.4 397.9 277.6 399.3 276.7C400.8 275.9 402.3 275.1 403.7 274.2C405.2 273.4 406.6 272.6 408.1 271.7C409.5 270.9 411.0 270.1 412.5 269.2C413.9 268.4 415.4 267.6 416.8 266.7C418.3 265.9 419.7 265.0 421.2 264.2C422.7 263.4 424.1 262.6 425.6 261.7C427.0 260.9 428.5 260.1 430.0 259.3C431.4 258.4 432.9 257.6 434.4 256.8C435.9 256.0 437.3 255.2 438.8 254.4C440.3 253.6 441.8 252.8 443.3 252.0C444.7 251.2 446.2 250.4 447.7 249.7C449.2 248.9 450.7 248.1 452.2 247.4C453.7 246.6 455.2 245.9 456.7 245.2C458.2 244.4 459.8 243.7 461.3 243.0C462.8 242.3 464.3 241.6 465.9 240.9C467.4 240.2 469.0 239.6 470.5 238.9C472.0 238.3 473.6 237.6 475.2 237.0C476.7 236.4 478.3 235.8 479.9 235.3C481.4 234.7 483.0 234.2 484.6 233.7C486.2 233.2 487.8 232.7 489.4 232.2C491.0 231.7 492.6 231.3 494.2 230.9C495.8 230.5 497.4 230.1 499.0 229.8C500.7 229.4 502.3 229.1 503.9 228.9C505.6 228.6 507.2 228.4 508.9 228.2C510.5 228.0 512.2 227.8 513.9 227.7C515.5 227.6 517.2 227.5 518.9 227.4C520.6 227.4 522.3 227.4 524.0 227.3C525.7 227.3 527.4 227.3 529.1 227.2C530.7 227.1 532.4 227.0 534.1 226.8C535.7 226.6 537.4 226.4 539.0 226.0C540.7 225.7 542.3 225.2 543.9 224.7C545.5 224.2 547.1 223.7 548.6 223.0C550.2 222.4 551.8 221.7 553.3 221.0C554.9 220.3 556.4 219.6 557.9 218.8C559.4 218.0 560.9 217.2 562.4 216.4C563.9 215.6 565.3 214.7 566.8 213.9C568.3 213.0 569.7 212.2 571.1 211.3C572.6 210.4 574.0 209.5 575.4 208.6C576.8 207.7 578.3 206.8 579.7 205.9C581.1 204.9 582.4 204.0 583.8 203.1C585.2 202.1 586.6 201.2 588.0 200.2C589.4 199.3 590.7 198.3 592.1 197.3C593.5 196.4 594.8 195.4 596.2 194.4C597.6 193.5 598.9 192.5 600.3 191.5C601.6 190.5 603.0 189.6 604.4 188.6C605.7 187.6 607.1 186.7 608.5 185.7C609.8 184.7 611.2 183.8 612.6 182.8C614.0 181.9 615.3 180.9 616.7 180.0C618.1 179.1 619.5 178.1 620.9 177.2C622.3 176.3 623.7 175.4 625.1 174.5C626.5 173.6 627.9 172.7 629.4 171.8C630.8 170.9 632.2 170.1 633.7 169.2C635.1 168.4 636.6 167.6 638.1 166.8C639.6 165.9 641.0 165.2 642.5 164.4C644.0 163.6 645.6 162.9 647.1 162.1C648.6 161.4 650.1 160.7 651.7 160.0C653.2 159.4 654.8 158.7 656.3 158.1C657.9 157.5 659.4 156.9 661.0 156.3C662.6 155.7 664.2 155.2 665.8 154.7C667.4 154.2 669.0 153.7 670.6 153.3C672.2 152.8 673.8 152.4 675.4 152.1C677.1 151.7 678.7 151.4 680.3 151.1C682.0 150.8 683.6 150.6 685.2 150.4C686.9 150.2 688.5 150.1 690.2 149.9C691.9 149.8 693.5 149.8 695.2 149.8C696.9 149.7 698.5 149.8 700.2 149.8C701.9 149.9 703.6 150.1 705.2 150.2C706.9 150.4 708.6 150.7 710.3 150.9C711.9 151.2 713.6 151.5 715.3 151.9C716.9 152.3 718.6 152.7 720.2 153.1C721.9 153.6 723.5 154.1 725.1 154.6C726.7 155.2 728.3 155.8 729.9 156.4C731.5 157.0 733.1 157.7 734.6 158.4C736.1 159.1 737.6 159.8 739.1 160.6C740.6 161.4 742.1 162.2 743.5 163.1C744.9 163.9 746.3 164.8 747.7 165.7C749.1 166.6 750.5 167.6 751.8 168.5C753.2 169.5 754.5 170.5 755.8 171.5C757.1 172.5 758.4 173.5 759.7 174.6C761.0 175.6 762.3 176.7 763.6 177.7C764.9 178.8 766.2 179.9 767.5 180.9C768.7 182.0 770.0 183.1 771.3 184.2C772.6 185.2 773.8 186.3 775.1 187.4C776.4 188.5 777.7 189.6 779.0 190.7C780.3 191.8 781.5 192.8 782.8 193.9C784.1 195.0 785.4 196.1 786.7 197.2C788.0 198.3 789.3 199.4 790.5 200.5C791.8 201.6 793.1 202.7 794.4 203.8C795.7 204.9 796.9 206.0 798.2 207.1C799.5 208.2 800.8 209.3 802.0 210.4C803.3 211.5 804.6 212.6 805.8 213.7C807.1 214.8 808.4 215.9 809.6 217.0C810.9 218.1 812.1 219.3 813.4 220.4C814.6 221.5 815.9 222.6 817.1 223.7C818.4 224.8 819.6 226.0 820.8 227.1C822.1 228.2 823.3 229.3 824.5 230.5C825.7 231.6 827.0 232.7 828.2 233.9C829.4 235.0 830.6 236.1 831.8 237.2C833.1 238.4 834.3 239.5 835.5 240.6C836.7 241.8 837.9 242.9 839.2 244.0C840.4 245.1 841.6 246.2 842.8 247.4C844.1 248.5 845.3 249.6 846.6 250.7C847.8 251.8 849.1 252.9 850.3 254.0C851.6 255.1 852.8 256.2 854.1 257.3C855.4 258.4 856.7 259.5 858.0 260.5C859.2 261.6 860.5 262.7 861.9 263.7C863.2 264.8 864.5 265.9 865.8 266.9C867.1 267.9 868.4 269.0 869.8 270.0C871.1 271.0 872.4 272.1 873.8 273.1C875.1 274.1 876.5 275.1 877.9 276.1C879.2 277.1 880.6 278.1 882.0 279.1C883.4 280.0 884.7 281.0 886.1 282.0C887.5 282.9 888.9 283.9 890.3 284.8C891.7 285.7 893.1 286.6 894.5 287.6C896.0 288.5 897.4 289.4 898.8 290.2C900.2 291.1 901.7 292.0 903.1 292.9C904.6 293.7 906.0 294.6 907.5 295.4C908.9 296.2 910.4 297.1 911.8 297.9C913.3 298.7 914.8 299.5 916.3 300.2C917.7 301.0 919.2 301.8 920.7 302.5C922.2 303.3 923.7 304.0 925.2 304.7C926.7 305.4 928.2 306.1 929.7 306.8C931.2 307.5 932.7 308.2 934.3 308.8C935.8 309.5 937.3 310.1 938.8 310.8C940.4 311.4 941.9 312.0 943.4 312.6C945.0 313.3 946.5 313.9 948.1 314.5C949.6 315.1 951.2 315.7 952.8 316.3C954.3 316.8 955.9 317.4 957.5 318.0C959.1 318.6 960.6 319.2 962.2 319.8C963.8 320.3 965.4 320.9 967.0 321.5C968.6 322.1 970.2 322.6 971.8 323.2C973.4 323.8 975.0 324.4 976.7 325.0C978.3 325.6 979.9 326.2 981.5 326.8C983.2 327.4 984.8 328.0 986.4 328.6C988.1 329.2 989.7 329.8 991.3 330.2C992.9 330.6 994.5 331.0 995.9 331.0C997.4 331.0 998.9 330.9 1000.2 330.4C1001.6 329.9 1002.8 328.9 1004.0 327.8C1005.1 326.7 1006.1 325.3 1007.0 323.8C1007.9 322.3 1008.7 320.7 1009.5 319.1C1010.2 317.5 1010.9 315.8 1011.5 314.2C1012.2 312.5 1012.7 310.9 1013.4 309.3C1014.0 307.7 1014.6 306.2 1015.3 304.8C1016.0 303.3 1016.7 301.9 1017.4 300.5C1018.1 299.1 1018.8 297.6 1019.5 296.1C1020.3 294.6 1021.0 293.0 1021.8 291.4C1022.6 289.9 1023.4 288.3 1024.3 286.8C1025.3 285.3 1026.2 283.8 1027.3 282.5C1028.4 281.2 1029.6 280.0 1030.9 278.9C1032.2 277.9 1033.6 277.0 1035.0 276.5C1036.4 275.9 1038.0 275.5 1039.4 275.5C1040.9 275.5 1042.4 275.7 1043.9 276.4C1045.3 277.0 1046.7 278.1 1048.0 279.3C1049.3 280.5 1050.5 282.1 1051.5 283.6C1052.5 285.0 1053.6 287.4 1054.0 288.2"/>
<path d="M211.8 283.2C212.4 282.6 213.9 280.5 215.2 279.4C216.6 278.3 218.1 277.2 219.7 276.5C221.2 275.9 222.9 275.4 224.5 275.3C226.1 275.2 227.6 275.5 229.1 276.1C230.6 276.6 232.0 277.6 233.3 278.6C234.6 279.6 235.9 280.9 237.1 282.1C238.2 283.4 239.3 284.8 240.4 286.1C241.4 287.5 242.4 288.9 243.3 290.3C244.2 291.7 245.0 293.2 245.8 294.6C246.6 296.1 247.4 297.6 248.1 299.1C248.9 300.5 249.6 302.1 250.3 303.6C251.0 305.1 251.7 306.6 252.4 308.1C253.1 309.6 253.8 311.1 254.5 312.7C255.2 314.2 255.9 315.8 256.6 317.4C257.2 319.0 257.8 320.7 258.4 322.3C259.0 324.0 259.5 325.8 260.2 327.3C260.9 328.8 261.6 330.3 262.6 331.4C263.6 332.5 264.9 333.3 266.3 333.8C267.7 334.4 269.3 334.7 270.9 334.8C272.5 335.0 274.3 334.9 276.1 334.7C277.8 334.6 279.7 334.3 281.4 334.0C283.1 333.7 284.8 333.4 286.5 333.0C288.2 332.6 289.8 332.2 291.4 331.8C293.0 331.3 294.6 330.9 296.2 330.4C297.8 330.0 299.3 329.5 300.9 329.0C302.5 328.5 304.0 328.1 305.6 327.6C307.2 327.1 308.8 326.6 310.4 326.2C311.9 325.7 313.5 325.2 315.1 324.7C316.7 324.2 318.3 323.8 319.9 323.3C321.5 322.8 323.1 322.3 324.7 321.8C326.3 321.3 327.9 320.8 329.5 320.3C331.1 319.8 332.7 319.3 334.3 318.8C335.9 318.3 337.5 317.8 339.1 317.3C340.7 316.7 342.3 316.2 343.9 315.7C345.5 315.2 347.1 314.6 348.6 314.1C350.2 313.6 351.8 313.0 353.4 312.5C355.0 311.9 356.6 311.4 358.2 310.8C359.8 310.2 361.4 309.7 363.0 309.1C364.6 308.5 366.2 307.9 367.7 307.4C369.3 306.8 370.9 306.2 372.5 305.6C374.1 305.0 375.6 304.4 377.2 303.7C378.8 303.1 380.3 302.5 381.9 301.9C383.5 301.2 385.0 300.6 386.6 299.9C388.1 299.3 389.7 298.6 391.2 298.0C392.8 297.3 394.3 296.6 395.8 296.0C397.4 295.3 398.9 294.6 400.5 293.9C402.0 293.2 403.5 292.5 405.1 291.9C406.6 291.2 408.1 290.5 409.7 289.8C411.2 289.1 412.7 288.4 414.2 287.7C415.8 287.0 417.3 286.3 418.8 285.6C420.4 284.9 421.9 284.2 423.4 283.5C424.9 282.8 426.5 282.1 428.0 281.4C429.5 280.7 431.1 280.1 432.6 279.4C434.1 278.7 435.7 278.0 437.2 277.3C438.7 276.6 440.3 276.0 441.8 275.3C443.3 274.6 444.9 274.0 446.4 273.3C448.0 272.6 449.5 272.0 451.1 271.3C452.6 270.7 454.2 270.1 455.7 269.4C457.3 268.8 458.9 268.2 460.4 267.6C462.0 267.0 463.6 266.4 465.1 265.8C466.7 265.2 468.3 264.6 469.9 264.1C471.5 263.5 473.1 263.0 474.7 262.5C476.2 261.9 477.8 261.4 479.5 261.0C481.1 260.5 482.7 260.0 484.3 259.6C485.9 259.1 487.5 258.7 489.1 258.3C490.8 258.0 492.4 257.6 494.0 257.3C495.7 256.9 497.3 256.6 499.0 256.4C500.6 256.1 502.3 255.9 503.9 255.7C505.6 255.4 507.3 255.3 509.0 255.1C510.6 255.0 512.3 254.9 514.0 254.8C515.7 254.8 517.4 254.8 519.1 254.8C520.8 254.8 522.5 254.8 524.2 254.8C525.9 254.8 527.6 254.9 529.3 254.8C531.0 254.7 532.6 254.6 534.3 254.3C535.9 254.1 537.5 253.7 539.1 253.2C540.7 252.8 542.3 252.2 543.8 251.5C545.3 250.9 546.8 250.1 548.3 249.3C549.8 248.5 551.3 247.6 552.7 246.6C554.2 245.7 555.6 244.7 557.0 243.7C558.4 242.7 559.8 241.7 561.2 240.6C562.5 239.6 563.9 238.6 565.3 237.5C566.6 236.5 567.9 235.4 569.3 234.4C570.6 233.3 571.9 232.2 573.2 231.2C574.5 230.1 575.8 229.0 577.1 227.9C578.4 226.9 579.7 225.8 580.9 224.7C582.2 223.6 583.5 222.5 584.7 221.4C586.0 220.3 587.2 219.2 588.5 218.1C589.7 217.0 591.0 215.9 592.2 214.8C593.5 213.7 594.7 212.6 595.9 211.5C597.2 210.4 598.4 209.3 599.7 208.2C600.9 207.1 602.1 206.0 603.4 204.9C604.6 203.8 605.9 202.7 607.1 201.6C608.4 200.5 609.6 199.5 610.9 198.4C612.2 197.3 613.4 196.2 614.7 195.1C616.0 194.0 617.2 193.0 618.5 191.9C619.8 190.8 621.1 189.8 622.4 188.7C623.7 187.7 625.1 186.6 626.4 185.6C627.7 184.5 629.1 183.5 630.4 182.5C631.8 181.4 633.1 180.4 634.5 179.4C635.9 178.4 637.3 177.4 638.7 176.4C640.1 175.4 641.6 174.5 643.0 173.5C644.4 172.6 645.9 171.6 647.4 170.7C648.8 169.8 650.3 168.9 651.8 168.0C653.3 167.2 654.8 166.3 656.3 165.5C657.8 164.7 659.3 163.9 660.9 163.2C662.4 162.4 663.9 161.7 665.5 161.1C667.0 160.4 668.6 159.8 670.2 159.2C671.7 158.6 673.3 158.1 674.9 157.6C676.5 157.1 678.1 156.7 679.6 156.3C681.2 155.9 682.8 155.6 684.4 155.3C686.0 155.1 687.7 154.9 689.3 154.7C690.9 154.6 692.5 154.5 694.1 154.5C695.7 154.5 697.4 154.5 699.0 154.7C700.6 154.8 702.2 155.0 703.9 155.2C705.5 155.5 707.1 155.9 708.7 156.2C710.4 156.6 712.0 157.1 713.6 157.6C715.2 158.1 716.8 158.7 718.4 159.3C720.0 160.0 721.6 160.6 723.1 161.3C724.7 162.1 726.3 162.8 727.8 163.6C729.3 164.4 730.9 165.3 732.4 166.1C733.9 167.0 735.3 167.9 736.8 168.8C738.3 169.8 739.7 170.7 741.1 171.7C742.5 172.7 743.9 173.7 745.3 174.7C746.6 175.7 748.0 176.7 749.3 177.8C750.6 178.8 751.9 179.9 753.2 181.0C754.5 182.1 755.8 183.2 757.0 184.3C758.3 185.4 759.5 186.5 760.8 187.6C762.0 188.7 763.3 189.9 764.5 191.0C765.7 192.1 766.9 193.3 768.1 194.4C769.4 195.6 770.6 196.7 771.8 197.9C773.0 199.0 774.2 200.2 775.4 201.3C776.6 202.5 777.8 203.6 779.0 204.8C780.2 205.9 781.4 207.1 782.7 208.2C783.9 209.4 785.1 210.5 786.3 211.7C787.5 212.8 788.7 214.0 789.9 215.1C791.1 216.3 792.3 217.4 793.5 218.6C794.7 219.7 795.9 220.9 797.2 222.1C798.4 223.2 799.6 224.4 800.8 225.5C802.0 226.7 803.2 227.8 804.4 228.9C805.7 230.1 806.9 231.2 808.1 232.4C809.3 233.5 810.5 234.7 811.8 235.8C813.0 237.0 814.2 238.1 815.5 239.2C816.7 240.4 817.9 241.5 819.2 242.6C820.4 243.8 821.6 244.9 822.9 246.0C824.1 247.2 825.4 248.3 826.6 249.4C827.9 250.5 829.1 251.6 830.4 252.8C831.7 253.9 832.9 255.0 834.2 256.1C835.5 257.2 836.7 258.3 838.0 259.4C839.3 260.5 840.6 261.6 841.9 262.7C843.2 263.8 844.4 264.9 845.7 266.0C847.0 267.0 848.4 268.1 849.7 269.2C851.0 270.3 852.3 271.3 853.6 272.4C854.9 273.5 856.3 274.5 857.6 275.6C858.9 276.6 860.3 277.7 861.6 278.7C863.0 279.8 864.3 280.8 865.7 281.8C867.1 282.8 868.4 283.8 869.8 284.8C871.2 285.8 872.6 286.8 874.0 287.8C875.3 288.8 876.7 289.7 878.1 290.7C879.5 291.6 881.0 292.6 882.4 293.5C883.8 294.4 885.2 295.3 886.6 296.2C888.1 297.1 889.5 298.0 891.0 298.8C892.4 299.7 893.9 300.5 895.3 301.3C896.8 302.2 898.3 303.0 899.7 303.7C901.2 304.5 902.7 305.3 904.2 306.0C905.7 306.8 907.2 307.5 908.7 308.2C910.2 308.9 911.7 309.6 913.2 310.2C914.7 310.9 916.3 311.5 917.8 312.1C919.4 312.7 920.9 313.3 922.5 313.8C924.0 314.4 925.6 314.9 927.2 315.4C928.7 315.9 930.3 316.4 931.9 316.9C933.5 317.3 935.1 317.8 936.7 318.2C938.3 318.6 939.9 319.0 941.5 319.4C943.1 319.9 944.8 320.2 946.4 320.7C948.0 321.1 949.7 321.5 951.3 321.9C952.9 322.3 954.6 322.7 956.2 323.1C957.9 323.5 959.6 323.9 961.2 324.4C962.9 324.9 964.5 325.3 966.2 325.8C967.9 326.3 969.6 326.8 971.2 327.3C972.9 327.9 974.6 328.5 976.3 329.1C977.9 329.6 979.6 330.3 981.3 330.8C983.0 331.4 984.6 331.9 986.3 332.3C987.9 332.7 989.5 333.1 991.1 333.2C992.7 333.4 994.2 333.4 995.7 333.2C997.2 333.0 998.7 332.6 1000.1 332.0C1001.5 331.3 1002.8 330.4 1004.1 329.4C1005.3 328.3 1006.4 327.1 1007.4 325.9C1008.4 324.6 1009.3 323.2 1010.1 321.8C1010.9 320.4 1011.6 318.8 1012.3 317.3C1012.9 315.7 1013.5 314.1 1014.1 312.5C1014.7 310.9 1015.3 309.2 1015.9 307.5C1016.4 305.9 1017.0 304.2 1017.6 302.5C1018.2 300.9 1018.8 299.3 1019.5 297.7C1020.3 296.1 1021.0 294.6 1021.8 293.1C1022.6 291.6 1023.5 290.1 1024.5 288.8C1025.4 287.4 1026.4 286.0 1027.5 284.7C1028.6 283.4 1029.7 282.1 1030.9 281.0C1032.1 279.8 1033.4 278.6 1034.7 277.8C1036.0 277.0 1037.4 276.3 1038.8 276.1C1040.1 275.9 1041.6 276.1 1042.9 276.7C1044.3 277.4 1045.7 278.8 1046.9 280.1C1048.2 281.5 1049.5 283.4 1050.5 284.9C1051.5 286.3 1052.6 288.3 1053.0 288.9"/>
<path d="M207.7 277.9C209.1 277.5 213.3 276.2 216.0 275.7C218.7 275.2 221.5 275.0 224.1 275.0C226.8 275.0 229.4 275.3 231.9 275.7C234.5 276.2 237.0 276.8 239.5 277.7C242.0 278.5 244.4 279.6 246.7 280.7C249.1 281.9 251.4 283.3 253.6 284.8C255.9 286.3 258.1 287.9 260.2 289.6C262.3 291.4 264.4 293.3 266.3 295.2C268.3 297.2 270.2 299.2 272.1 301.3C273.9 303.4 275.7 305.7 277.4 307.9C279.0 310.1 280.6 312.4 282.2 314.7C283.7 317.0 285.1 319.4 286.6 321.6C288.2 323.8 289.6 326.0 291.3 328.0C293.0 329.9 294.8 331.7 296.8 333.1C298.9 334.6 301.3 335.7 303.8 336.7C306.2 337.6 308.9 338.3 311.5 339.0C314.2 339.7 316.9 340.3 319.5 340.8C322.2 341.4 324.9 341.9 327.5 342.4C330.2 342.8 332.9 343.2 335.6 343.6C338.2 344.0 340.9 344.4 343.6 344.7C346.3 345.0 349.0 345.3 351.7 345.6C354.4 345.9 357.1 346.2 359.7 346.5C362.4 346.7 365.1 347.0 367.8 347.3C370.5 347.6 373.2 347.9 375.9 348.2C378.5 348.5 381.2 348.8 383.9 349.1C386.6 349.5 389.2 349.8 391.9 350.2C394.6 350.6 397.3 350.9 399.9 351.3C402.6 351.7 405.3 352.1 407.9 352.5C410.6 352.9 413.3 353.2 415.9 353.6C418.6 354.0 421.3 354.3 423.9 354.7C426.6 355.0 429.3 355.4 432.0 355.7C434.6 356.0 437.3 356.2 440.0 356.5C442.7 356.7 445.4 356.9 448.1 357.1C450.8 357.3 453.5 357.4 456.2 357.5C458.9 357.6 461.6 357.6 464.4 357.7C467.1 357.7 469.8 357.7 472.5 357.6C475.3 357.6 478.0 357.6 480.7 357.5C483.5 357.5 486.2 357.4 488.9 357.4C491.7 357.3 494.4 357.3 497.1 357.3C499.8 357.3 502.5 357.3 505.2 357.3C507.9 357.3 510.6 357.4 513.3 357.5C516.0 357.7 518.7 357.8 521.4 358.1C524.0 358.3 526.7 358.6 529.3 358.9C531.9 359.3 534.6 359.7 537.2 360.3C539.8 360.8 542.4 361.4 545.0 362.0C547.5 362.7 550.1 363.4 552.7 364.2C555.2 365.0 557.7 365.8 560.3 366.7C562.8 367.6 565.3 368.5 567.9 369.4C570.4 370.4 572.9 371.4 575.4 372.4C577.9 373.5 580.4 374.5 582.9 375.6C585.4 376.6 587.9 377.7 590.4 378.8C592.9 379.9 595.4 381.0 597.9 382.1C600.4 383.1 602.9 384.2 605.4 385.3C607.9 386.4 610.4 387.5 612.9 388.5C615.4 389.5 617.9 390.6 620.4 391.6C622.9 392.6 625.5 393.5 628.0 394.5C630.5 395.4 633.1 396.3 635.6 397.2C638.2 398.0 640.7 398.8 643.3 399.6C645.9 400.4 648.5 401.1 651.1 401.7C653.7 402.4 656.3 402.9 658.9 403.5C661.5 404.0 664.2 404.4 666.8 404.8C669.5 405.2 672.1 405.5 674.8 405.7C677.5 405.9 680.2 406.1 682.9 406.2C685.6 406.3 688.3 406.4 691.0 406.4C693.7 406.4 696.4 406.3 699.1 406.2C701.8 406.1 704.6 405.9 707.3 405.7C710.0 405.5 712.7 405.2 715.4 404.9C718.1 404.6 720.8 404.2 723.5 403.8C726.2 403.4 728.9 402.9 731.6 402.4C734.2 402.0 736.9 401.4 739.6 400.9C742.2 400.3 744.9 399.7 747.5 399.0C750.1 398.4 752.7 397.7 755.3 397.0C757.9 396.4 760.5 395.6 763.1 394.9C765.7 394.2 768.2 393.4 770.8 392.6C773.4 391.8 775.9 391.0 778.5 390.2C781.1 389.4 783.6 388.6 786.2 387.7C788.7 386.9 791.3 386.1 793.8 385.2C796.4 384.4 798.9 383.6 801.5 382.7C804.0 381.9 806.6 381.0 809.1 380.2C811.7 379.4 814.3 378.6 816.9 377.7C819.4 376.9 822.0 376.1 824.6 375.3C827.2 374.5 829.8 373.7 832.4 372.9C835.0 372.2 837.6 371.4 840.2 370.6C842.8 369.8 845.4 369.0 848.0 368.3C850.6 367.5 853.2 366.7 855.8 366.0C858.4 365.2 860.9 364.4 863.5 363.7C866.1 362.9 868.7 362.1 871.3 361.3C873.9 360.6 876.5 359.8 879.1 359.0C881.7 358.2 884.2 357.5 886.8 356.7C889.4 355.9 891.9 355.1 894.5 354.3C897.1 353.6 899.6 352.8 902.2 352.0C904.8 351.3 907.4 350.5 910.0 349.8C912.5 349.1 915.1 348.4 917.7 347.7C920.3 347.0 923.0 346.3 925.6 345.7C928.2 345.1 930.9 344.5 933.5 343.9C936.2 343.3 938.9 342.8 941.6 342.3C944.2 341.8 947.0 341.4 949.7 340.9C952.4 340.4 955.1 340.0 957.7 339.3C960.4 338.7 963.0 338.1 965.4 337.2C967.8 336.3 970.2 335.3 972.3 333.9C974.5 332.6 976.5 331.0 978.2 329.0C980.0 327.0 981.5 324.6 982.9 322.1C984.4 319.7 985.7 316.9 987.1 314.5C988.6 312.1 990.2 309.9 991.7 307.7C993.3 305.6 995.0 303.6 996.7 301.6C998.3 299.5 999.9 297.4 1001.7 295.4C1003.4 293.3 1005.3 291.3 1007.3 289.5C1009.3 287.6 1011.4 285.8 1013.6 284.2C1015.8 282.6 1018.2 281.1 1020.6 279.9C1023.0 278.7 1025.5 277.6 1028.0 276.7C1030.5 275.9 1033.1 275.3 1035.7 275.0C1038.3 274.7 1040.9 274.6 1043.6 274.9C1046.2 275.2 1048.8 275.8 1051.5 276.8C1054.1 277.7 1057.9 280.1 1059.2 280.8"/>
<path d="M208.0 279.4C209.3 278.9 213.1 276.9 215.7 276.2C218.3 275.6 221.1 275.4 223.7 275.4C226.4 275.4 229.1 275.8 231.7 276.3C234.3 276.9 236.9 277.7 239.4 278.6C241.9 279.5 244.3 280.6 246.7 281.9C249.0 283.1 251.3 284.5 253.5 286.1C255.7 287.6 257.9 289.2 259.9 291.0C262.0 292.7 264.0 294.6 266.0 296.5C267.9 298.5 269.8 300.5 271.6 302.6C273.4 304.6 275.2 306.8 276.9 308.9C278.6 311.1 280.2 313.3 281.8 315.5C283.4 317.7 284.8 319.9 286.4 322.1C288.0 324.3 289.5 326.5 291.1 328.5C292.8 330.6 294.5 332.8 296.6 334.5C298.6 336.1 300.9 337.3 303.3 338.4C305.7 339.4 308.4 340.0 311.0 340.7C313.6 341.4 316.3 342.0 319.0 342.6C321.6 343.2 324.3 343.7 326.9 344.2C329.6 344.7 332.3 345.2 334.9 345.6C337.6 346.1 340.3 346.5 343.0 346.9C345.6 347.3 348.3 347.7 351.0 348.1C353.7 348.4 356.3 348.8 359.0 349.1C361.7 349.5 364.4 349.8 367.0 350.1C369.7 350.5 372.4 350.8 375.1 351.2C377.7 351.5 380.4 351.9 383.1 352.3C385.8 352.6 388.4 353.0 391.1 353.4C393.8 353.8 396.5 354.2 399.1 354.6C401.8 355.0 404.5 355.4 407.2 355.8C409.8 356.1 412.5 356.5 415.2 356.9C417.9 357.3 420.5 357.6 423.2 358.0C425.9 358.3 428.6 358.6 431.3 358.9C434.0 359.2 436.6 359.5 439.3 359.8C442.0 360.0 444.7 360.2 447.4 360.4C450.1 360.6 452.8 360.7 455.5 360.8C458.2 361.0 460.9 361.0 463.6 361.1C466.3 361.1 469.0 361.1 471.8 361.1C474.5 361.1 477.2 361.1 479.9 361.1C482.6 361.1 485.3 361.0 488.0 361.0C490.7 361.0 493.4 361.0 496.1 361.0C498.8 361.0 501.5 361.0 504.2 361.1C506.9 361.2 509.6 361.3 512.3 361.4C515.0 361.6 517.7 361.8 520.4 362.0C523.0 362.2 525.7 362.5 528.4 362.9C531.0 363.3 533.7 363.7 536.3 364.2C539.0 364.7 541.6 365.3 544.3 365.9C546.9 366.5 549.5 367.1 552.2 367.6C554.8 368.1 557.5 368.7 560.1 369.0C562.8 369.4 565.5 369.7 568.1 369.9C570.8 370.0 573.5 370.1 576.2 370.1C578.9 370.1 581.6 370.0 584.3 370.0C586.9 369.9 589.6 369.8 592.3 369.7C595.0 369.5 597.7 369.4 600.4 369.2C603.1 369.0 605.8 368.9 608.5 368.7C611.2 368.5 613.9 368.2 616.6 368.0C619.3 367.8 621.9 367.6 624.6 367.3C627.3 367.1 630.0 366.9 632.7 366.6C635.4 366.4 638.1 366.2 640.8 365.9C643.5 365.7 646.2 365.5 648.9 365.2C651.6 365.0 654.3 364.8 657.0 364.6C659.7 364.4 662.4 364.2 665.1 364.1C667.8 363.9 670.5 363.8 673.2 363.6C675.9 363.5 678.6 363.4 681.3 363.3C684.0 363.3 686.7 363.2 689.4 363.2C692.1 363.2 694.8 363.2 697.5 363.2C700.2 363.2 702.9 363.3 705.6 363.4C708.3 363.5 711.0 363.6 713.6 363.7C716.3 363.8 719.0 364.0 721.7 364.2C724.4 364.4 727.1 364.6 729.8 364.9C732.5 365.1 735.2 365.4 737.9 365.7C740.6 366.1 743.2 366.4 745.9 366.8C748.6 367.1 751.3 367.5 754.0 368.0C756.6 368.4 759.3 368.9 762.0 369.4C764.6 369.8 767.3 370.4 769.9 370.9C772.6 371.4 775.3 372.0 777.9 372.5C780.6 373.1 783.2 373.7 785.8 374.2C788.5 374.8 791.1 375.4 793.7 375.9C796.4 376.4 799.0 377.0 801.6 377.5C804.2 378.0 806.8 378.5 809.5 378.7C812.1 379.0 814.7 379.1 817.3 379.0C819.9 378.9 822.5 378.5 825.1 378.1C827.8 377.7 830.4 377.1 833.0 376.4C835.6 375.7 838.2 374.9 840.8 374.1C843.4 373.2 846.0 372.2 848.6 371.2C851.2 370.3 853.8 369.2 856.3 368.2C858.9 367.2 861.5 366.1 864.0 365.1C866.6 364.2 869.2 363.2 871.7 362.3C874.3 361.3 876.8 360.4 879.3 359.6C881.9 358.7 884.4 357.9 887.0 357.1C889.5 356.3 892.1 355.5 894.6 354.8C897.2 354.1 899.7 353.4 902.3 352.7C904.9 352.0 907.5 351.4 910.1 350.8C912.7 350.1 915.3 349.6 917.9 349.0C920.6 348.4 923.2 347.9 925.9 347.4C928.6 346.9 931.3 346.4 934.0 346.0C936.8 345.5 939.5 345.1 942.3 344.6C945.0 344.1 947.8 343.7 950.5 343.1C953.1 342.5 955.8 341.9 958.4 341.1C960.9 340.4 963.4 339.5 965.7 338.4C968.1 337.3 970.3 336.1 972.4 334.7C974.5 333.2 976.3 331.5 978.1 329.6C979.9 327.8 981.5 325.7 983.1 323.5C984.7 321.4 986.2 319.0 987.7 316.7C989.2 314.4 990.7 312.0 992.2 309.7C993.7 307.3 995.2 304.9 996.8 302.7C998.4 300.5 1000.1 298.3 1001.9 296.2C1003.7 294.2 1005.7 292.2 1007.7 290.4C1009.7 288.7 1011.8 287.0 1014.0 285.5C1016.2 283.9 1018.4 282.6 1020.8 281.4C1023.2 280.2 1025.7 279.1 1028.2 278.2C1030.7 277.4 1033.4 276.7 1036.0 276.3C1038.6 276.0 1041.3 275.9 1043.9 276.1C1046.5 276.4 1049.1 277.0 1051.6 278.0C1054.2 279.1 1057.8 281.8 1059.0 282.5"/>
<path d="M167.9 338.3C168.7 338.2 171.2 338.0 172.9 337.9C174.5 337.8 176.2 337.7 177.9 337.5C179.6 337.4 181.2 337.3 182.9 337.3C184.6 337.2 186.3 337.1 188.0 337.0C189.7 336.9 191.3 336.9 193.0 336.8C194.7 336.8 196.4 336.7 198.1 336.7C199.8 336.6 201.5 336.6 203.2 336.6C204.9 336.5 206.6 336.5 208.2 336.5C209.9 336.5 211.6 336.4 213.3 336.4C215.0 336.4 216.7 336.4 218.3 336.4C220.0 336.4 221.7 336.4 223.4 336.5C225.0 336.5 226.7 336.5 228.4 336.5C230.0 336.5 231.7 336.6 233.3 336.6C235.0 336.6 236.7 336.6 238.3 336.7C240.0 336.7 241.6 336.7 243.3 336.8C244.9 336.8 246.6 336.8 248.3 336.9C249.9 336.9 251.6 336.9 253.3 336.9C254.9 337.0 256.6 337.0 258.3 337.0C260.0 337.0 261.7 337.1 263.4 337.1C265.1 337.1 266.8 337.1 268.5 337.1C270.2 337.1 272.0 337.1 273.7 337.2C275.5 337.2 277.3 337.3 279.0 337.4C280.8 337.5 282.6 337.7 284.4 337.9C286.2 338.2 288.1 338.5 289.8 339.0C291.4 339.6 293.1 340.3 294.5 341.2C295.9 342.1 297.1 343.4 298.3 344.6C299.4 345.9 300.3 347.3 301.3 348.7C302.3 350.1 303.2 351.5 304.1 352.9C305.0 354.3 305.9 355.7 306.8 357.1C307.7 358.5 308.6 359.9 309.5 361.3C310.4 362.8 311.2 364.2 312.1 365.6C313.0 367.0 313.8 368.5 314.7 369.9C315.5 371.3 316.4 372.8 317.2 374.2C318.1 375.7 318.9 377.1 319.8 378.5C320.6 380.0 321.4 381.5 322.3 382.9C323.1 384.4 323.9 385.8 324.7 387.3C325.5 388.8 326.3 390.2 327.1 391.7C327.9 393.2 328.7 394.6 329.5 396.1C330.3 397.6 331.1 399.1 331.9 400.5C332.7 402.0 333.5 403.5 334.3 405.0C335.0 406.5 335.8 408.0 336.6 409.5C337.4 411.0 338.1 412.4 338.9 413.9C339.7 415.4 340.4 416.9 341.2 418.4C341.9 419.9 342.7 421.4 343.5 422.9C344.2 424.4 345.0 425.9 345.7 427.4C346.5 428.9 347.2 430.4 348.0 432.0C348.7 433.5 349.4 435.0 350.2 436.5C350.9 438.0 351.7 439.5 352.4 441.0C353.2 442.5 353.9 444.0 354.6 445.5C355.4 447.1 356.1 448.6 356.8 450.1C357.6 451.6 358.3 453.1 359.0 454.6C359.8 456.1 360.5 457.6 361.3 459.2C362.0 460.7 362.7 462.2 363.5 463.7C364.2 465.2 364.9 466.7 365.7 468.2C366.4 469.7 367.1 471.3 367.9 472.8C368.6 474.3 369.3 475.8 370.1 477.3C370.8 478.8 371.6 480.3 372.3 481.8C373.1 483.3 373.8 484.8 374.5 486.3C375.3 487.8 376.0 489.3 376.8 490.8C377.5 492.3 378.3 493.8 379.0 495.3C379.8 496.8 380.5 498.3 381.3 499.8C382.1 501.3 382.8 502.8 383.6 504.3C384.4 505.8 385.1 507.3 385.9 508.8C386.7 510.2 387.4 511.7 388.2 513.2C389.0 514.7 389.8 516.2 390.5 517.6C391.3 519.1 392.1 520.6 392.9 522.1C393.7 523.5 394.5 525.0 395.3 526.5C396.1 527.9 396.9 529.4 397.7 530.9C398.5 532.3 399.3 533.8 400.1 535.2C400.9 536.7 401.8 538.1 402.6 539.6C403.4 541.0 404.2 542.5 405.1 543.9C405.9 545.4 406.7 546.8 407.6 548.2C408.4 549.7 409.3 551.1 410.1 552.6C411.0 554.0 411.8 555.4 412.7 556.8C413.5 558.3 414.4 559.7 415.3 561.1C416.1 562.5 417.0 564.0 417.9 565.4C418.8 566.8 419.7 568.2 420.6 569.6C421.4 571.0 422.3 572.4 423.2 573.8C424.2 575.2 425.1 576.6 426.0 578.0C426.9 579.4 427.8 580.8 428.7 582.2C429.7 583.6 430.6 585.0 431.5 586.4C432.5 587.8 433.4 589.1 434.4 590.5C435.3 591.9 436.3 593.3 437.2 594.6C438.2 596.0 439.2 597.4 440.1 598.7C441.1 600.1 442.1 601.5 443.1 602.8C444.1 604.2 445.1 605.5 446.1 606.9C447.1 608.2 448.1 609.6 449.1 610.9C450.1 612.2 451.2 613.6 452.2 614.9C453.2 616.2 454.3 617.6 455.3 618.9C456.4 620.2 457.4 621.6 458.5 622.9C459.5 624.2 460.6 625.5 461.7 626.8C462.8 628.1 463.9 629.4 464.9 630.7C466.0 632.0 467.1 633.3 468.3 634.6C469.4 635.8 470.5 637.1 471.7 638.3C472.8 639.5 474.0 640.7 475.1 641.9C476.3 643.0 477.5 644.2 478.7 645.3C480.0 646.4 481.2 647.5 482.4 648.5C483.7 649.5 485.0 650.5 486.3 651.4C487.6 652.4 488.9 653.3 490.3 654.1C491.7 655.0 493.0 655.8 494.5 656.5C495.9 657.2 497.3 657.9 498.8 658.5C500.3 659.2 501.8 659.7 503.4 660.2C504.9 660.7 506.5 661.1 508.1 661.5C509.7 661.9 511.4 662.3 513.1 662.6C514.7 662.9 516.4 663.2 518.1 663.5C519.8 663.8 521.5 664.1 523.2 664.4C524.9 664.7 526.7 665.0 528.3 665.3C530.0 665.7 531.7 666.0 533.4 666.4C535.0 666.9 536.7 667.4 538.3 667.9C539.9 668.4 541.5 668.9 543.1 669.5C544.7 670.1 546.2 670.8 547.7 671.4C549.3 672.1 550.8 672.8 552.3 673.5C553.8 674.2 555.3 674.9 556.8 675.6C558.3 676.4 559.8 677.1 561.3 677.9C562.7 678.7 564.2 679.5 565.7 680.2C567.2 681.0 568.6 681.8 570.1 682.6C571.6 683.4 573.1 684.2 574.5 685.0C576.0 685.8 577.5 686.5 578.9 687.3C580.4 688.1 581.9 688.9 583.4 689.7C584.8 690.5 586.3 691.3 587.8 692.1C589.3 692.8 590.8 693.6 592.3 694.4C593.7 695.2 595.2 695.9 596.7 696.7C598.2 697.5 599.7 698.2 601.2 699.0C602.7 699.7 604.2 700.5 605.7 701.2C607.2 702.0 608.7 702.7 610.2 703.4C611.7 704.1 613.2 704.9 614.7 705.6C616.2 706.3 617.8 706.9 619.3 707.6C620.8 708.3 622.3 709.0 623.9 709.6C625.4 710.3 626.9 710.9 628.5 711.5C630.0 712.2 631.6 712.8 633.1 713.4C634.7 714.0 636.2 714.5 637.8 715.1C639.3 715.7 640.9 716.2 642.5 716.7C644.1 717.2 645.6 717.8 647.2 718.2C648.8 718.7 650.4 719.2 652.0 719.6C653.6 720.1 655.2 720.5 656.8 720.9C658.5 721.3 660.1 721.7 661.7 722.0C663.3 722.4 665.0 722.7 666.6 723.0C668.3 723.4 669.9 723.6 671.6 723.9C673.2 724.2 674.9 724.4 676.6 724.6C678.2 724.8 679.9 725.0 681.6 725.1C683.3 725.3 684.9 725.4 686.6 725.5C688.3 725.6 690.0 725.7 691.7 725.7C693.3 725.7 695.0 725.7 696.7 725.7C698.4 725.7 700.1 725.7 701.7 725.6C703.4 725.5 705.1 725.4 706.7 725.2C708.4 725.1 710.0 724.9 711.7 724.7C713.3 724.5 715.0 724.2 716.6 724.0C718.2 723.7 719.9 723.4 721.5 723.0C723.1 722.7 724.7 722.3 726.3 721.9C727.9 721.5 729.5 721.0 731.0 720.5C732.6 720.0 734.1 719.5 735.7 718.9C737.2 718.4 738.7 717.8 740.2 717.1C741.7 716.5 743.2 715.8 744.7 715.1C746.2 714.4 747.7 713.7 749.1 712.9C750.6 712.1 752.0 711.3 753.4 710.5C754.9 709.7 756.3 708.8 757.7 707.9C759.1 707.1 760.5 706.1 761.8 705.2C763.2 704.3 764.6 703.3 765.9 702.3C767.3 701.3 768.6 700.3 769.9 699.3C771.2 698.3 772.6 697.2 773.8 696.1C775.1 695.1 776.4 694.0 777.7 692.9C779.0 691.8 780.2 690.6 781.5 689.5C782.7 688.3 784.0 687.2 785.2 686.0C786.4 684.9 787.6 683.7 788.8 682.5C790.0 681.3 791.2 680.1 792.4 678.9C793.5 677.7 794.7 676.4 795.8 675.2C797.0 674.0 798.1 672.7 799.2 671.5C800.4 670.2 801.5 669.0 802.6 667.7C803.7 666.5 804.8 665.2 805.9 663.9C806.9 662.6 808.0 661.4 809.1 660.1C810.1 658.8 811.2 657.5 812.2 656.2C813.3 654.9 814.3 653.6 815.3 652.2C816.3 650.9 817.3 649.6 818.3 648.3C819.3 646.9 820.3 645.6 821.3 644.3C822.2 642.9 823.2 641.6 824.2 640.2C825.1 638.9 826.1 637.5 827.0 636.1C828.0 634.8 828.9 633.4 829.8 632.0C830.7 630.6 831.6 629.2 832.6 627.9C833.5 626.5 834.4 625.1 835.2 623.7C836.1 622.3 837.0 620.9 837.9 619.4C838.8 618.0 839.6 616.6 840.5 615.2C841.3 613.8 842.2 612.3 843.0 610.9C843.9 609.5 844.7 608.0 845.5 606.6C846.4 605.2 847.2 603.7 848.0 602.3C848.8 600.8 849.6 599.4 850.4 597.9C851.2 596.4 852.0 595.0 852.8 593.5C853.6 592.1 854.4 590.6 855.2 589.1C855.9 587.6 856.7 586.2 857.5 584.7C858.2 583.2 859.0 581.7 859.8 580.2C860.5 578.7 861.3 577.2 862.0 575.7C862.8 574.2 863.5 572.7 864.2 571.2C865.0 569.7 865.7 568.2 866.4 566.7C867.2 565.2 867.9 563.7 868.6 562.2C869.3 560.7 870.0 559.2 870.8 557.6C871.5 556.1 872.2 554.6 872.9 553.1C873.6 551.6 874.3 550.0 875.0 548.5C875.7 547.0 876.4 545.5 877.1 543.9C877.8 542.4 878.4 540.9 879.1 539.3C879.8 537.8 880.5 536.2 881.2 534.7C881.9 533.2 882.6 531.6 883.2 530.1C883.9 528.6 884.6 527.0 885.3 525.5C885.9 523.9 886.6 522.4 887.3 520.8C888.0 519.3 888.6 517.7 889.3 516.2C890.0 514.6 890.6 513.1 891.3 511.6C892.0 510.0 892.6 508.5 893.3 506.9C894.0 505.4 894.6 503.8 895.3 502.3C896.0 500.7 896.6 499.2 897.3 497.6C898.0 496.1 898.6 494.5 899.3 493.0C900.0 491.4 900.6 489.9 901.3 488.3C902.0 486.8 902.6 485.2 903.3 483.7C904.0 482.1 904.6 480.6 905.3 479.0C906.0 477.5 906.7 475.9 907.3 474.4C908.0 472.8 908.7 471.3 909.4 469.8C910.0 468.2 910.7 466.7 911.4 465.1C912.1 463.6 912.8 462.1 913.5 460.5C914.1 459.0 914.8 457.5 915.5 455.9C916.2 454.4 916.9 452.9 917.6 451.3C918.3 449.8 919.0 448.3 919.7 446.7C920.4 445.2 921.1 443.7 921.8 442.2C922.5 440.7 923.2 439.1 923.9 437.6C924.6 436.1 925.3 434.6 926.0 433.1C926.7 431.6 927.4 430.0 928.1 428.5C928.8 427.0 929.5 425.5 930.2 424.0C930.9 422.5 931.6 421.0 932.3 419.5C933.0 418.0 933.7 416.5 934.3 415.0C935.0 413.5 935.7 412.0 936.3 410.5C937.0 409.0 937.7 407.5 938.3 406.0C939.0 404.5 939.6 403.0 940.3 401.5C940.9 400.0 941.5 398.5 942.2 397.0C942.8 395.5 943.4 394.0 944.0 392.5C944.6 390.9 945.2 389.4 945.9 387.9C946.5 386.3 947.1 384.8 947.7 383.2C948.3 381.6 948.9 380.0 949.5 378.3C950.1 376.7 950.7 375.0 951.3 373.3C952.0 371.6 952.6 369.9 953.3 368.3C953.9 366.6 954.6 364.9 955.3 363.2C956.1 361.6 956.8 360.0 957.6 358.4C958.4 356.8 959.2 355.2 960.1 353.8C961.0 352.3 961.9 350.8 962.9 349.5C963.9 348.2 964.9 346.9 966.0 345.7C967.1 344.5 968.3 343.4 969.6 342.4C970.8 341.5 972.2 340.6 973.6 339.9C975.0 339.1 976.4 338.5 977.9 338.0C979.5 337.4 981.0 337.0 982.6 336.6C984.2 336.3 985.9 336.0 987.6 335.8C989.2 335.6 990.9 335.5 992.7 335.4C994.4 335.3 996.2 335.2 997.9 335.2C999.7 335.2 1001.5 335.2 1003.2 335.3C1005.0 335.3 1006.8 335.4 1008.6 335.4C1010.3 335.5 1012.1 335.6 1013.9 335.7C1015.6 335.7 1017.4 335.8 1019.1 335.8C1020.8 335.9 1022.5 335.9 1024.2 335.9C1025.9 336.0 1027.6 336.0 1029.3 336.0C1030.9 336.0 1032.6 336.0 1034.2 336.0C1035.9 336.0 1037.6 336.0 1039.2 336.0C1040.8 336.0 1042.5 335.9 1044.1 335.9C1045.7 335.9 1047.4 335.9 1049.0 335.8C1050.6 335.8 1052.3 335.8 1053.9 335.8C1055.5 335.8 1057.2 335.7 1058.8 335.7C1060.4 335.7 1062.1 335.7 1063.7 335.7C1065.3 335.6 1067.0 335.6 1068.6 335.6C1070.3 335.6 1072.0 335.6 1073.6 335.6C1075.3 335.6 1077.0 335.7 1078.7 335.7C1080.4 335.7 1082.1 335.7 1083.8 335.8C1085.5 335.8 1087.2 335.9 1089.0 336.0C1090.7 336.0 1093.4 336.2 1094.2 336.2"/>
<path d="M168.1 340.7C168.9 340.6 171.4 340.4 173.1 340.3C174.7 340.2 176.4 340.0 178.0 339.9C179.7 339.8 181.4 339.7 183.0 339.7C184.7 339.6 186.4 339.5 188.1 339.4C189.7 339.3 191.4 339.3 193.1 339.2C194.8 339.2 196.5 339.1 198.2 339.1C199.8 339.0 201.5 339.0 203.2 339.0C204.9 338.9 206.6 338.9 208.3 338.9C210.0 338.9 211.6 338.8 213.3 338.8C215.0 338.8 216.7 338.8 218.3 338.8C220.0 338.8 221.7 338.8 223.4 338.9C225.0 338.9 226.7 338.9 228.3 338.9C230.0 338.9 231.7 339.0 233.3 339.0C235.0 339.0 236.6 339.0 238.3 339.1C239.9 339.1 241.6 339.1 243.2 339.2C244.9 339.2 246.5 339.2 248.2 339.3C249.9 339.3 251.5 339.3 253.2 339.3C254.9 339.4 256.6 339.4 258.3 339.4C259.9 339.4 261.6 339.5 263.3 339.5C265.1 339.5 266.8 339.5 268.5 339.5C270.2 339.5 271.9 339.5 273.7 339.6C275.4 339.6 277.1 339.7 278.9 339.8C280.6 339.9 282.4 340.1 284.1 340.3C285.8 340.6 287.5 340.8 289.0 341.3C290.6 341.8 292.0 342.4 293.2 343.2C294.4 344.0 295.5 345.1 296.5 346.2C297.5 347.4 298.4 348.7 299.3 350.1C300.3 351.4 301.2 352.8 302.1 354.2C303.0 355.6 303.9 357.0 304.8 358.4C305.7 359.8 306.6 361.2 307.4 362.6C308.3 364.0 309.2 365.4 310.1 366.9C310.9 368.3 311.8 369.7 312.6 371.1C313.5 372.6 314.3 374.0 315.2 375.4C316.0 376.9 316.9 378.3 317.7 379.7C318.5 381.2 319.3 382.6 320.2 384.1C321.0 385.5 321.8 387.0 322.6 388.5C323.4 389.9 324.2 391.4 325.0 392.8C325.8 394.3 326.6 395.8 327.4 397.2C328.2 398.7 329.0 400.2 329.8 401.7C330.6 403.1 331.4 404.6 332.1 406.1C332.9 407.6 333.7 409.1 334.5 410.6C335.2 412.1 336.0 413.5 336.8 415.0C337.5 416.5 338.3 418.0 339.0 419.5C339.8 421.0 340.6 422.5 341.3 424.0C342.1 425.5 342.8 427.0 343.6 428.5C344.3 430.0 345.1 431.5 345.8 433.0C346.5 434.5 347.3 436.0 348.0 437.5C348.8 439.0 349.5 440.6 350.3 442.1C351.0 443.6 351.7 445.1 352.5 446.6C353.2 448.1 353.9 449.6 354.7 451.1C355.4 452.6 356.2 454.2 356.9 455.7C357.6 457.2 358.4 458.7 359.1 460.2C359.8 461.7 360.6 463.2 361.3 464.7C362.0 466.3 362.8 467.8 363.5 469.3C364.2 470.8 365.0 472.3 365.7 473.8C366.5 475.3 367.2 476.8 367.9 478.4C368.7 479.9 369.4 481.4 370.2 482.9C370.9 484.4 371.6 485.9 372.4 487.4C373.1 488.9 373.9 490.4 374.6 491.9C375.4 493.4 376.1 494.9 376.9 496.4C377.6 497.9 378.4 499.4 379.2 500.9C379.9 502.4 380.7 503.9 381.5 505.4C382.2 506.9 383.0 508.4 383.8 509.9C384.5 511.4 385.3 512.8 386.1 514.3C386.9 515.8 387.6 517.3 388.4 518.8C389.2 520.2 390.0 521.7 390.8 523.2C391.6 524.7 392.4 526.1 393.2 527.6C394.0 529.1 394.8 530.5 395.6 532.0C396.4 533.5 397.2 534.9 398.0 536.4C398.9 537.9 399.7 539.3 400.5 540.8C401.3 542.2 402.2 543.7 403.0 545.1C403.8 546.6 404.7 548.0 405.5 549.5C406.3 550.9 407.2 552.3 408.0 553.8C408.9 555.2 409.8 556.7 410.6 558.1C411.5 559.5 412.4 560.9 413.2 562.4C414.1 563.8 415.0 565.2 415.9 566.6C416.7 568.1 417.6 569.5 418.5 570.9C419.4 572.3 420.3 573.7 421.2 575.1C422.1 576.5 423.0 577.9 424.0 579.3C424.9 580.8 425.8 582.1 426.7 583.5C427.7 584.9 428.6 586.3 429.5 587.7C430.5 589.1 431.4 590.5 432.4 591.9C433.3 593.3 434.3 594.6 435.3 596.0C436.2 597.4 437.2 598.8 438.2 600.1C439.2 601.5 440.2 602.9 441.2 604.2C442.2 605.6 443.2 606.9 444.2 608.3C445.2 609.7 446.2 611.0 447.2 612.4C448.2 613.7 449.3 615.0 450.3 616.4C451.3 617.7 452.4 619.1 453.4 620.4C454.5 621.7 455.5 623.1 456.6 624.4C457.7 625.7 458.8 627.0 459.8 628.3C460.9 629.7 462.0 631.0 463.1 632.3C464.2 633.6 465.3 634.9 466.5 636.1C467.6 637.4 468.7 638.7 469.9 639.9C471.1 641.2 472.3 642.4 473.5 643.6C474.7 644.8 475.9 645.9 477.1 647.1C478.4 648.2 479.6 649.3 480.9 650.3C482.2 651.4 483.5 652.4 484.9 653.4C486.2 654.4 487.6 655.3 489.0 656.2C490.4 657.0 491.9 657.9 493.4 658.6C494.8 659.4 496.3 660.1 497.9 660.8C499.4 661.4 501.0 662.0 502.6 662.5C504.2 663.0 505.9 663.5 507.5 663.9C509.2 664.3 510.9 664.6 512.6 664.9C514.3 665.3 516.0 665.6 517.7 665.8C519.4 666.1 521.1 666.4 522.8 666.7C524.5 667.0 526.2 667.3 527.9 667.7C529.5 668.0 531.2 668.4 532.8 668.8C534.4 669.2 536.0 669.7 537.6 670.2C539.1 670.7 540.7 671.2 542.2 671.8C543.8 672.4 545.3 673.0 546.8 673.6C548.3 674.3 549.8 674.9 551.3 675.6C552.8 676.3 554.3 677.1 555.8 677.8C557.2 678.5 558.7 679.3 560.2 680.0C561.6 680.8 563.1 681.6 564.6 682.4C566.0 683.1 567.5 683.9 569.0 684.7C570.4 685.5 571.9 686.3 573.4 687.1C574.9 687.9 576.3 688.7 577.8 689.4C579.3 690.2 580.8 691.0 582.2 691.8C583.7 692.6 585.2 693.4 586.7 694.2C588.2 695.0 589.7 695.7 591.1 696.5C592.6 697.3 594.1 698.1 595.6 698.8C597.1 699.6 598.6 700.4 600.1 701.1C601.6 701.9 603.1 702.6 604.6 703.4C606.1 704.1 607.6 704.9 609.2 705.6C610.7 706.3 612.2 707.0 613.7 707.7C615.2 708.4 616.8 709.1 618.3 709.8C619.8 710.5 621.4 711.2 622.9 711.8C624.5 712.5 626.0 713.1 627.6 713.8C629.1 714.4 630.7 715.0 632.2 715.6C633.8 716.2 635.4 716.8 637.0 717.4C638.5 717.9 640.1 718.5 641.7 719.0C643.3 719.5 644.9 720.0 646.5 720.5C648.1 721.0 649.7 721.5 651.4 721.9C653.0 722.4 654.6 722.8 656.3 723.2C657.9 723.6 659.5 724.0 661.2 724.4C662.8 724.8 664.5 725.1 666.2 725.4C667.8 725.7 669.5 726.0 671.2 726.3C672.9 726.5 674.6 726.8 676.3 727.0C678.0 727.2 679.7 727.4 681.4 727.5C683.1 727.7 684.8 727.8 686.5 727.9C688.2 728.0 689.9 728.1 691.6 728.1C693.3 728.1 695.0 728.1 696.7 728.1C698.4 728.1 700.1 728.1 701.8 728.0C703.5 727.9 705.2 727.8 706.9 727.6C708.6 727.5 710.3 727.3 712.0 727.1C713.7 726.9 715.3 726.6 717.0 726.3C718.7 726.0 720.3 725.7 722.0 725.4C723.6 725.0 725.3 724.6 726.9 724.2C728.5 723.8 730.1 723.3 731.7 722.8C733.3 722.3 734.9 721.8 736.5 721.2C738.1 720.6 739.6 720.0 741.2 719.3C742.7 718.7 744.2 718.0 745.7 717.3C747.3 716.6 748.8 715.8 750.2 715.0C751.7 714.2 753.2 713.4 754.6 712.6C756.1 711.7 757.5 710.9 759.0 710.0C760.4 709.1 761.8 708.1 763.2 707.2C764.6 706.2 766.0 705.3 767.3 704.3C768.7 703.3 770.1 702.2 771.4 701.2C772.7 700.1 774.1 699.1 775.4 698.0C776.7 696.9 778.0 695.8 779.3 694.7C780.6 693.5 781.8 692.4 783.1 691.3C784.4 690.1 785.6 688.9 786.8 687.8C788.1 686.6 789.3 685.4 790.5 684.2C791.7 683.0 792.9 681.8 794.1 680.5C795.3 679.3 796.4 678.1 797.6 676.8C798.8 675.6 799.9 674.3 801.0 673.1C802.2 671.8 803.3 670.6 804.4 669.3C805.5 668.0 806.6 666.8 807.7 665.5C808.8 664.2 809.9 662.9 810.9 661.6C812.0 660.3 813.0 659.0 814.1 657.7C815.1 656.4 816.2 655.0 817.2 653.7C818.2 652.4 819.2 651.1 820.2 649.7C821.2 648.4 822.2 647.0 823.2 645.7C824.2 644.3 825.2 643.0 826.1 641.6C827.1 640.2 828.1 638.9 829.0 637.5C829.9 636.1 830.9 634.7 831.8 633.3C832.7 632.0 833.7 630.6 834.6 629.2C835.5 627.8 836.4 626.4 837.3 625.0C838.2 623.5 839.0 622.1 839.9 620.7C840.8 619.3 841.7 617.9 842.5 616.4C843.4 615.0 844.3 613.6 845.1 612.1C845.9 610.7 846.8 609.3 847.6 607.8C848.4 606.4 849.3 604.9 850.1 603.4C850.9 602.0 851.7 600.5 852.5 599.1C853.3 597.6 854.1 596.1 854.9 594.7C855.7 593.2 856.5 591.7 857.3 590.2C858.1 588.7 858.8 587.3 859.6 585.8C860.4 584.3 861.1 582.8 861.9 581.3C862.7 579.8 863.4 578.3 864.2 576.8C864.9 575.3 865.7 573.8 866.4 572.3C867.1 570.8 867.9 569.3 868.6 567.8C869.3 566.3 870.1 564.7 870.8 563.2C871.5 561.7 872.2 560.2 872.9 558.7C873.6 557.1 874.3 555.6 875.1 554.1C875.8 552.6 876.5 551.0 877.2 549.5C877.9 548.0 878.6 546.4 879.3 544.9C879.9 543.4 880.6 541.8 881.3 540.3C882.0 538.8 882.7 537.2 883.4 535.7C884.1 534.1 884.7 532.6 885.4 531.1C886.1 529.5 886.8 528.0 887.5 526.4C888.1 524.9 888.8 523.3 889.5 521.8C890.2 520.2 890.8 518.7 891.5 517.1C892.2 515.6 892.8 514.0 893.5 512.5C894.2 511.0 894.8 509.4 895.5 507.9C896.2 506.3 896.8 504.8 897.5 503.2C898.2 501.7 898.8 500.1 899.5 498.6C900.2 497.0 900.8 495.5 901.5 493.9C902.2 492.4 902.8 490.8 903.5 489.3C904.2 487.7 904.8 486.2 905.5 484.6C906.2 483.1 906.8 481.5 907.5 480.0C908.2 478.4 908.9 476.9 909.5 475.4C910.2 473.8 910.9 472.3 911.6 470.7C912.2 469.2 912.9 467.6 913.6 466.1C914.3 464.6 915.0 463.0 915.6 461.5C916.3 460.0 917.0 458.4 917.7 456.9C918.4 455.4 919.1 453.9 919.8 452.3C920.5 450.8 921.2 449.3 921.9 447.8C922.6 446.2 923.3 444.7 924.0 443.2C924.7 441.7 925.4 440.1 926.1 438.6C926.8 437.1 927.5 435.6 928.2 434.1C928.9 432.6 929.6 431.1 930.3 429.5C931.0 428.0 931.7 426.5 932.4 425.0C933.1 423.5 933.8 422.0 934.5 420.5C935.2 419.0 935.8 417.5 936.5 416.0C937.2 414.5 937.9 412.9 938.5 411.4C939.2 409.9 939.9 408.4 940.5 406.9C941.2 405.4 941.8 403.9 942.5 402.4C943.1 400.9 943.7 399.4 944.4 397.9C945.0 396.4 945.6 394.9 946.2 393.4C946.9 391.8 947.5 390.3 948.1 388.7C948.7 387.2 949.3 385.6 949.9 384.0C950.5 382.4 951.1 380.8 951.7 379.1C952.4 377.5 953.0 375.8 953.6 374.2C954.2 372.5 954.9 370.8 955.5 369.1C956.2 367.5 956.8 365.8 957.5 364.2C958.3 362.6 959.0 361.0 959.7 359.5C960.5 357.9 961.3 356.4 962.1 355.0C963.0 353.6 963.9 352.2 964.8 350.9C965.7 349.6 966.7 348.4 967.8 347.3C968.8 346.2 969.9 345.2 971.0 344.3C972.2 343.4 973.4 342.7 974.7 342.0C976.0 341.3 977.3 340.7 978.7 340.2C980.2 339.7 981.6 339.3 983.2 339.0C984.7 338.6 986.2 338.4 987.9 338.2C989.5 338.0 991.1 337.9 992.8 337.8C994.5 337.7 996.2 337.6 997.9 337.6C999.7 337.6 1001.4 337.6 1003.2 337.7C1004.9 337.7 1006.7 337.8 1008.5 337.8C1010.2 337.9 1012.0 338.0 1013.8 338.1C1015.5 338.1 1017.3 338.2 1019.0 338.2C1020.7 338.3 1022.5 338.3 1024.2 338.3C1025.9 338.4 1027.6 338.4 1029.2 338.4C1030.9 338.4 1032.6 338.4 1034.3 338.4C1035.9 338.4 1037.6 338.4 1039.2 338.4C1040.9 338.4 1042.5 338.3 1044.1 338.3C1045.8 338.3 1047.4 338.3 1049.0 338.2C1050.7 338.2 1052.3 338.2 1053.9 338.2C1055.6 338.2 1057.2 338.1 1058.8 338.1C1060.4 338.1 1062.1 338.1 1063.7 338.1C1065.4 338.0 1067.0 338.0 1068.6 338.0C1070.3 338.0 1071.9 338.0 1073.6 338.0C1075.3 338.0 1076.9 338.1 1078.6 338.1C1080.3 338.1 1082.0 338.1 1083.7 338.2C1085.4 338.2 1087.1 338.3 1088.9 338.4C1090.6 338.4 1093.3 338.6 1094.1 338.6"/>
<path d="M191.4 340.6C192.3 340.4 194.8 339.8 196.5 339.6C198.2 339.3 199.8 339.2 201.5 339.1C203.1 338.9 204.7 338.9 206.3 338.9C207.9 338.9 209.5 338.9 211.2 339.0C212.8 339.0 214.4 339.1 216.0 339.1C217.7 339.1 219.3 339.2 221.0 339.2C222.7 339.2 224.4 339.1 226.2 339.0C227.9 338.9 229.7 338.8 231.5 338.6C233.3 338.5 235.1 338.3 236.9 338.2C238.6 338.1 240.4 338.0 242.2 338.0C243.9 337.9 245.6 337.9 247.3 338.1C248.9 338.2 250.6 338.4 252.1 338.8C253.6 339.2 255.1 339.7 256.5 340.4C257.8 341.0 259.1 341.9 260.3 342.9C261.5 343.9 262.6 345.1 263.6 346.4C264.6 347.7 265.6 349.1 266.5 350.5C267.4 351.9 268.2 353.3 269.1 354.8C269.9 356.2 270.7 357.7 271.4 359.2C272.1 360.7 272.9 362.2 273.5 363.8C274.2 365.3 274.9 366.8 275.5 368.4C276.1 369.9 276.8 371.5 277.4 373.1C278.0 374.6 278.5 376.2 279.1 377.8C279.7 379.3 280.3 380.9 280.9 382.5C281.4 384.1 282.0 385.7 282.6 387.2C283.1 388.8 283.7 390.4 284.3 392.0C284.9 393.5 285.4 395.1 286.0 396.7C286.6 398.3 287.1 399.9 287.7 401.4C288.3 403.0 288.8 404.6 289.4 406.2C290.0 407.7 290.5 409.3 291.1 410.9C291.7 412.5 292.2 414.1 292.8 415.6C293.4 417.2 293.9 418.8 294.5 420.4C295.1 421.9 295.6 423.5 296.2 425.1C296.7 426.7 297.3 428.3 297.9 429.8C298.4 431.4 299.0 433.0 299.6 434.6C300.1 436.1 300.7 437.7 301.2 439.3C301.8 440.9 302.4 442.4 302.9 444.0C303.5 445.6 304.0 447.2 304.6 448.7C305.2 450.3 305.7 451.9 306.3 453.5C306.8 455.0 307.4 456.6 308.0 458.2C308.5 459.8 309.1 461.3 309.7 462.9C310.2 464.5 310.8 466.1 311.3 467.6C311.9 469.2 312.5 470.8 313.0 472.4C313.6 473.9 314.1 475.5 314.7 477.1C315.3 478.7 315.8 480.2 316.4 481.8C317.0 483.4 317.5 485.0 318.1 486.5C318.7 488.1 319.2 489.7 319.8 491.2C320.4 492.8 320.9 494.4 321.5 496.0C322.1 497.5 322.6 499.1 323.2 500.7C323.8 502.2 324.3 503.8 324.9 505.4C325.5 507.0 326.0 508.5 326.6 510.1C327.2 511.7 327.7 513.2 328.3 514.8C328.9 516.4 329.5 517.9 330.0 519.5C330.6 521.1 331.2 522.7 331.8 524.2C332.3 525.8 332.9 527.4 333.5 528.9C334.1 530.5 334.7 532.1 335.2 533.6C335.8 535.2 336.4 536.8 337.0 538.3C337.6 539.9 338.1 541.5 338.7 543.0C339.3 544.6 339.9 546.2 340.5 547.7C341.1 549.3 341.7 550.9 342.3 552.4C342.8 554.0 343.4 555.6 344.0 557.1C344.6 558.7 345.2 560.2 345.8 561.8C346.4 563.4 347.0 564.9 347.6 566.5C348.2 568.1 348.8 569.6 349.4 571.2C350.0 572.7 350.6 574.3 351.2 575.9C351.8 577.4 352.4 579.0 353.0 580.5C353.7 582.1 354.3 583.7 354.9 585.2C355.5 586.8 356.1 588.3 356.7 589.9C357.3 591.5 358.0 593.0 358.6 594.6C359.2 596.1 359.8 597.7 360.4 599.2C361.1 600.8 361.7 602.3 362.3 603.9C362.9 605.4 363.6 607.0 364.2 608.5C364.8 610.1 365.5 611.6 366.1 613.2C366.8 614.7 367.4 616.3 368.0 617.8C368.7 619.4 369.3 620.9 370.0 622.5C370.6 624.0 371.3 625.6 371.9 627.1C372.6 628.6 373.2 630.2 373.9 631.7C374.5 633.3 375.2 634.8 375.9 636.3C376.5 637.9 377.2 639.4 377.9 640.9C378.5 642.5 379.2 644.0 379.9 645.6C380.6 647.1 381.2 648.6 381.9 650.1C382.6 651.7 383.3 653.2 384.0 654.7C384.7 656.3 385.3 657.8 386.0 659.3C386.7 660.8 387.4 662.4 388.1 663.9C388.8 665.4 389.5 666.9 390.2 668.4C390.9 669.9 391.6 671.5 392.4 673.0C393.1 674.5 393.8 676.0 394.5 677.5C395.2 679.0 395.9 680.5 396.7 682.0C397.4 683.5 398.1 685.1 398.9 686.6C399.6 688.1 400.3 689.6 401.1 691.1C401.8 692.6 402.6 694.1 403.3 695.6C404.1 697.0 404.8 698.5 405.6 700.0C406.3 701.5 407.1 703.0 407.9 704.5C408.6 706.0 409.4 707.5 410.2 708.9C411.0 710.4 411.7 711.9 412.5 713.4C413.3 714.8 414.1 716.3 414.9 717.8C415.7 719.2 416.5 720.7 417.4 722.1C418.2 723.6 419.0 725.0 419.8 726.5C420.7 727.9 421.5 729.4 422.4 730.8C423.2 732.2 424.1 733.7 424.9 735.1C425.8 736.5 426.6 738.0 427.5 739.4C428.4 740.8 429.3 742.2 430.2 743.6C431.1 745.0 432.0 746.4 432.9 747.8C433.8 749.2 434.7 750.6 435.6 752.0C436.6 753.4 437.5 754.8 438.5 756.1C439.4 757.5 440.4 758.9 441.3 760.2C442.3 761.6 443.3 763.0 444.3 764.3C445.3 765.6 446.3 767.0 447.3 768.3C448.3 769.7 449.3 771.0 450.3 772.3C451.4 773.6 452.4 774.9 453.5 776.2C454.5 777.5 455.6 778.8 456.6 780.1C457.7 781.4 458.8 782.7 459.9 784.0C461.0 785.3 462.1 786.5 463.2 787.8C464.3 789.0 465.5 790.3 466.6 791.5C467.8 792.8 468.9 794.0 470.1 795.2C471.2 796.4 472.4 797.6 473.6 798.8C474.8 800.0 475.9 801.2 477.1 802.4C478.3 803.6 479.5 804.8 480.8 805.9C482.0 807.1 483.2 808.2 484.5 809.3C485.7 810.4 487.0 811.5 488.3 812.5C489.6 813.5 490.9 814.5 492.3 815.4C493.7 816.3 495.1 817.2 496.5 818.0C498.0 818.7 499.4 819.5 501.0 820.1C502.5 820.7 504.1 821.2 505.7 821.7C507.3 822.2 509.0 822.5 510.6 822.8C512.3 823.2 514.0 823.4 515.7 823.6C517.4 823.8 519.1 824.0 520.8 824.1C522.5 824.3 524.1 824.4 525.8 824.5C527.5 824.7 529.2 824.8 530.8 825.0C532.5 825.2 534.1 825.5 535.8 825.8C537.4 826.1 539.0 826.4 540.6 826.8C542.2 827.3 543.8 827.7 545.4 828.2C547.0 828.7 548.6 829.3 550.1 829.8C551.7 830.4 553.2 831.0 554.8 831.7C556.3 832.3 557.8 833.0 559.3 833.7C560.8 834.4 562.3 835.2 563.8 835.9C565.3 836.7 566.8 837.5 568.3 838.3C569.8 839.1 571.2 839.9 572.7 840.8C574.2 841.6 575.6 842.5 577.1 843.3C578.5 844.2 580.0 845.1 581.4 846.0C582.8 846.9 584.3 847.7 585.7 848.6C587.1 849.5 588.5 850.4 590.0 851.3C591.4 852.2 592.8 853.1 594.2 854.0C595.6 854.8 597.0 855.7 598.4 856.6C599.9 857.5 601.3 858.4 602.7 859.2C604.1 860.1 605.5 861.0 606.9 861.8C608.3 862.7 609.8 863.6 611.2 864.5C612.6 865.3 614.0 866.2 615.5 867.1C616.9 867.9 618.3 868.8 619.8 869.6C621.2 870.5 622.7 871.3 624.1 872.2C625.6 873.0 627.0 873.8 628.5 874.7C630.0 875.5 631.4 876.3 632.9 877.1C634.4 877.9 635.9 878.7 637.4 879.4C638.9 880.2 640.4 880.9 641.9 881.6C643.4 882.4 644.9 883.1 646.4 883.8C647.9 884.5 649.4 885.1 651.0 885.8C652.5 886.4 654.1 887.0 655.6 887.6C657.2 888.2 658.7 888.8 660.3 889.3C661.9 889.8 663.4 890.4 665.0 890.8C666.6 891.3 668.2 891.7 669.8 892.2C671.4 892.6 673.1 892.9 674.7 893.3C676.3 893.6 678.0 893.9 679.6 894.2C681.3 894.4 682.9 894.7 684.6 894.9C686.3 895.0 688.0 895.2 689.7 895.3C691.4 895.4 693.1 895.4 694.8 895.4C696.5 895.4 698.2 895.4 699.9 895.3C701.6 895.2 703.3 895.1 704.9 894.9C706.6 894.8 708.3 894.5 710.0 894.3C711.7 894.0 713.3 893.7 714.9 893.3C716.6 892.9 718.2 892.5 719.8 892.0C721.4 891.5 723.0 891.0 724.5 890.4C726.1 889.8 727.6 889.1 729.1 888.5C730.6 887.8 732.1 887.0 733.5 886.3C735.0 885.5 736.4 884.7 737.9 883.8C739.3 883.0 740.7 882.1 742.0 881.1C743.4 880.2 744.8 879.2 746.1 878.2C747.5 877.2 748.8 876.2 750.1 875.1C751.4 874.1 752.6 873.0 753.9 871.9C755.2 870.8 756.4 869.6 757.6 868.5C758.8 867.3 760.1 866.1 761.2 865.0C762.4 863.8 763.6 862.6 764.8 861.3C765.9 860.1 767.0 858.9 768.2 857.6C769.3 856.4 770.4 855.1 771.5 853.8C772.6 852.6 773.6 851.3 774.7 850.0C775.8 848.7 776.8 847.4 777.8 846.1C778.9 844.8 779.9 843.4 780.9 842.1C781.9 840.8 782.9 839.4 783.9 838.1C784.9 836.7 785.8 835.4 786.8 834.0C787.8 832.6 788.7 831.2 789.6 829.8C790.6 828.5 791.5 827.1 792.4 825.7C793.3 824.3 794.2 822.9 795.1 821.4C796.0 820.0 796.9 818.6 797.8 817.2C798.7 815.8 799.5 814.3 800.4 812.9C801.3 811.5 802.1 810.0 803.0 808.6C803.8 807.1 804.7 805.7 805.5 804.2C806.3 802.8 807.2 801.3 808.0 799.9C808.8 798.4 809.6 796.9 810.5 795.5C811.3 794.0 812.1 792.6 812.9 791.1C813.7 789.6 814.5 788.2 815.3 786.7C816.1 785.2 816.9 783.7 817.7 782.3C818.5 780.8 819.3 779.3 820.0 777.8C820.8 776.3 821.6 774.9 822.4 773.4C823.2 771.9 823.9 770.4 824.7 768.9C825.5 767.4 826.2 766.0 827.0 764.5C827.7 763.0 828.5 761.5 829.2 760.0C830.0 758.5 830.7 757.0 831.5 755.5C832.2 754.0 833.0 752.5 833.7 751.0C834.4 749.5 835.2 748.0 835.9 746.5C836.6 745.0 837.4 743.5 838.1 742.0C838.8 740.5 839.5 739.0 840.3 737.5C841.0 735.9 841.7 734.4 842.4 732.9C843.1 731.4 843.8 729.9 844.5 728.4C845.2 726.9 845.9 725.4 846.6 723.8C847.3 722.3 848.0 720.8 848.7 719.3C849.4 717.8 850.1 716.2 850.8 714.7C851.5 713.2 852.2 711.7 852.9 710.1C853.6 708.6 854.3 707.1 854.9 705.6C855.6 704.0 856.3 702.5 857.0 701.0C857.7 699.5 858.3 697.9 859.0 696.4C859.7 694.9 860.4 693.3 861.0 691.8C861.7 690.3 862.4 688.7 863.0 687.2C863.7 685.7 864.4 684.1 865.0 682.6C865.7 681.1 866.4 679.5 867.0 678.0C867.7 676.5 868.3 674.9 869.0 673.4C869.7 671.8 870.3 670.3 871.0 668.8C871.6 667.2 872.3 665.7 872.9 664.1C873.6 662.6 874.2 661.1 874.9 659.5C875.5 658.0 876.2 656.4 876.8 654.9C877.5 653.3 878.1 651.8 878.8 650.3C879.4 648.7 880.1 647.2 880.7 645.6C881.4 644.1 882.0 642.5 882.7 641.0C883.3 639.5 883.9 637.9 884.6 636.4C885.2 634.8 885.9 633.3 886.5 631.7C887.2 630.2 887.8 628.6 888.4 627.1C889.1 625.6 889.7 624.0 890.4 622.5C891.0 620.9 891.6 619.4 892.3 617.8C892.9 616.3 893.6 614.7 894.2 613.2C894.8 611.6 895.5 610.1 896.1 608.5C896.7 607.0 897.4 605.4 898.0 603.9C898.7 602.4 899.3 600.8 899.9 599.3C900.6 597.7 901.2 596.2 901.8 594.6C902.5 593.1 903.1 591.5 903.7 590.0C904.4 588.4 905.0 586.9 905.6 585.3C906.2 583.8 906.9 582.2 907.5 580.7C908.1 579.1 908.8 577.6 909.4 576.0C910.0 574.5 910.6 572.9 911.3 571.4C911.9 569.8 912.5 568.3 913.1 566.7C913.8 565.2 914.4 563.6 915.0 562.0C915.6 560.5 916.3 558.9 916.9 557.4C917.5 555.8 918.1 554.3 918.7 552.7C919.4 551.2 920.0 549.6 920.6 548.1C921.2 546.5 921.8 545.0 922.4 543.4C923.1 541.8 923.7 540.3 924.3 538.7C924.9 537.2 925.5 535.6 926.1 534.1C926.7 532.5 927.4 530.9 928.0 529.4C928.6 527.8 929.2 526.3 929.8 524.7C930.4 523.2 931.0 521.6 931.6 520.0C932.2 518.5 932.8 516.9 933.4 515.4C934.0 513.8 934.6 512.2 935.2 510.7C935.8 509.1 936.4 507.6 937.0 506.0C937.6 504.4 938.2 502.9 938.8 501.3C939.4 499.8 940.0 498.2 940.6 496.6C941.2 495.1 941.8 493.5 942.4 491.9C943.0 490.4 943.6 488.8 944.2 487.2C944.8 485.7 945.4 484.1 946.0 482.5C946.6 481.0 947.1 479.4 947.7 477.9C948.3 476.3 948.9 474.7 949.5 473.2C950.1 471.6 950.7 470.0 951.2 468.5C951.8 466.9 952.4 465.3 953.0 463.7C953.6 462.2 954.2 460.6 954.7 459.0C955.3 457.5 955.9 455.9 956.5 454.3C957.1 452.8 957.6 451.2 958.2 449.6C958.8 448.1 959.4 446.5 959.9 444.9C960.5 443.4 961.1 441.8 961.7 440.2C962.3 438.6 962.8 437.1 963.4 435.5C964.0 433.9 964.6 432.4 965.1 430.8C965.7 429.2 966.3 427.6 966.9 426.1C967.5 424.5 968.0 422.9 968.6 421.4C969.2 419.8 969.8 418.2 970.3 416.7C970.9 415.1 971.5 413.5 972.1 411.9C972.7 410.4 973.2 408.8 973.8 407.2C974.4 405.7 975.0 404.1 975.6 402.5C976.1 401.0 976.7 399.4 977.3 397.8C977.9 396.2 978.5 394.7 979.1 393.1C979.7 391.6 980.3 390.0 980.9 388.4C981.5 386.9 982.2 385.4 982.8 383.8C983.5 382.3 984.2 380.8 984.9 379.3C985.6 377.8 986.4 376.4 987.1 374.9C987.9 373.4 988.7 372.0 989.4 370.5C990.2 369.0 991.0 367.5 991.7 366.0C992.5 364.5 993.2 362.9 993.9 361.4C994.5 359.8 995.1 358.1 995.8 356.5C996.4 354.9 997.0 353.2 997.7 351.7C998.4 350.1 999.1 348.6 1000.0 347.2C1000.8 345.8 1001.7 344.5 1002.8 343.4C1003.8 342.3 1005.0 341.3 1006.3 340.5C1007.6 339.7 1009.0 339.1 1010.5 338.6C1012.0 338.1 1013.6 337.8 1015.2 337.6C1016.8 337.4 1018.5 337.3 1020.2 337.3C1021.9 337.3 1023.7 337.4 1025.5 337.5C1027.2 337.6 1029.0 337.7 1030.8 337.9C1032.6 338.0 1034.4 338.2 1036.1 338.3C1037.9 338.5 1039.6 338.6 1041.3 338.6C1043.0 338.6 1044.6 338.6 1046.3 338.6C1047.9 338.5 1049.5 338.4 1051.1 338.4C1052.7 338.3 1054.3 338.2 1056.0 338.2C1057.6 338.2 1059.2 338.1 1060.9 338.2C1062.5 338.2 1064.2 338.3 1065.9 338.5C1067.6 338.7 1070.2 339.2 1071.1 339.3"/>
<path d="M180.0 465.0C180.8 465.1 183.3 465.5 184.9 465.7C186.5 466.0 188.2 466.2 189.8 466.4C191.5 466.7 193.2 466.9 194.8 467.1C196.5 467.3 198.2 467.5 199.9 467.7C201.6 467.9 203.3 468.1 205.0 468.3C206.7 468.5 208.3 468.6 210.0 468.8C211.7 468.9 213.4 469.0 215.1 469.1C216.8 469.3 218.5 469.3 220.2 469.4C221.8 469.4 223.5 469.5 225.2 469.5C226.9 469.5 228.5 469.5 230.2 469.4C231.8 469.4 233.5 469.3 235.1 469.2C236.8 469.1 238.4 469.0 240.0 468.8C241.7 468.7 243.3 468.5 245.0 468.4C246.6 468.2 248.3 468.0 249.9 467.8C251.6 467.6 253.2 467.3 254.9 467.1C256.5 466.9 258.2 466.6 259.9 466.4C261.6 466.1 263.3 465.8 265.0 465.6C266.7 465.3 268.4 465.0 270.2 464.7C271.9 464.4 273.7 464.1 275.4 463.9C277.1 463.6 278.9 463.4 280.6 463.3C282.3 463.2 284.0 463.1 285.7 463.2C287.3 463.2 288.9 463.4 290.4 463.8C291.9 464.1 293.4 464.6 294.8 465.3C296.2 466.0 297.5 467.0 298.7 468.0C299.9 469.0 301.1 470.2 302.2 471.4C303.3 472.6 304.3 473.9 305.3 475.2C306.3 476.5 307.2 477.9 308.2 479.3C309.1 480.7 309.9 482.1 310.8 483.5C311.6 484.9 312.4 486.4 313.2 487.9C314.0 489.4 314.7 490.9 315.4 492.4C316.1 493.9 316.8 495.5 317.5 497.0C318.1 498.6 318.8 500.1 319.4 501.7C320.1 503.3 320.7 504.9 321.3 506.5C321.9 508.0 322.5 509.6 323.1 511.2C323.7 512.8 324.3 514.4 324.9 516.0C325.5 517.6 326.1 519.2 326.7 520.8C327.3 522.4 327.9 524.0 328.5 525.6C329.1 527.1 329.7 528.7 330.3 530.3C330.9 531.9 331.5 533.4 332.1 535.0C332.8 536.6 333.4 538.1 334.0 539.7C334.6 541.3 335.2 542.8 335.9 544.4C336.5 545.9 337.1 547.5 337.8 549.0C338.4 550.6 339.0 552.1 339.7 553.7C340.3 555.2 340.9 556.8 341.6 558.3C342.2 559.9 342.8 561.4 343.5 562.9C344.1 564.5 344.8 566.0 345.4 567.6C346.1 569.1 346.7 570.6 347.3 572.2C348.0 573.7 348.6 575.3 349.3 576.8C349.9 578.3 350.6 579.9 351.2 581.4C351.9 582.9 352.5 584.5 353.2 586.0C353.8 587.6 354.4 589.1 355.1 590.6C355.7 592.2 356.4 593.7 357.0 595.3C357.7 596.8 358.3 598.3 359.0 599.9C359.6 601.4 360.2 603.0 360.9 604.5C361.5 606.1 362.2 607.6 362.8 609.2C363.4 610.7 364.1 612.3 364.7 613.8C365.4 615.4 366.0 616.9 366.6 618.5C367.3 620.0 367.9 621.6 368.6 623.1C369.2 624.7 369.8 626.2 370.5 627.8C371.1 629.3 371.8 630.9 372.4 632.5C373.1 634.0 373.7 635.6 374.4 637.1C375.0 638.7 375.7 640.2 376.3 641.8C377.0 643.3 377.6 644.9 378.3 646.4C378.9 648.0 379.6 649.5 380.3 651.1C380.9 652.6 381.6 654.2 382.2 655.7C382.9 657.3 383.6 658.8 384.3 660.4C384.9 661.9 385.6 663.5 386.3 665.0C387.0 666.5 387.6 668.1 388.3 669.6C389.0 671.2 389.7 672.7 390.4 674.2C391.1 675.8 391.8 677.3 392.5 678.8C393.2 680.3 393.9 681.9 394.6 683.4C395.4 684.9 396.1 686.4 396.8 687.9C397.5 689.5 398.3 691.0 399.0 692.5C399.7 694.0 400.5 695.5 401.2 697.0C402.0 698.5 402.7 700.0 403.5 701.5C404.2 703.0 405.0 704.5 405.8 706.0C406.6 707.4 407.3 708.9 408.1 710.4C408.9 711.9 409.7 713.3 410.5 714.8C411.3 716.3 412.1 717.7 412.9 719.2C413.7 720.7 414.6 722.1 415.4 723.6C416.2 725.0 417.1 726.5 417.9 727.9C418.8 729.3 419.6 730.8 420.5 732.2C421.3 733.6 422.2 735.0 423.1 736.5C424.0 737.9 424.9 739.3 425.8 740.7C426.7 742.1 427.6 743.5 428.5 744.9C429.4 746.3 430.3 747.7 431.2 749.1C432.2 750.5 433.1 751.9 434.1 753.2C435.0 754.6 436.0 756.0 436.9 757.4C437.9 758.7 438.9 760.1 439.8 761.5C440.8 762.8 441.8 764.2 442.8 765.5C443.8 766.9 444.8 768.2 445.8 769.6C446.8 770.9 447.9 772.2 448.9 773.6C449.9 774.9 451.0 776.2 452.0 777.6C453.1 778.9 454.2 780.2 455.2 781.5C456.3 782.8 457.4 784.1 458.5 785.5C459.6 786.8 460.6 788.1 461.8 789.4C462.9 790.6 464.0 791.9 465.1 793.2C466.3 794.5 467.4 795.7 468.6 797.0C469.7 798.2 470.9 799.4 472.1 800.6C473.3 801.8 474.5 803.0 475.7 804.2C476.9 805.3 478.1 806.4 479.4 807.5C480.7 808.6 481.9 809.7 483.2 810.7C484.5 811.7 485.8 812.7 487.2 813.7C488.5 814.7 489.9 815.6 491.2 816.4C492.6 817.3 494.0 818.1 495.4 818.9C496.9 819.7 498.3 820.4 499.8 821.1C501.3 821.8 502.8 822.4 504.3 823.0C505.8 823.6 507.4 824.1 509.0 824.6C510.5 825.0 512.2 825.4 513.8 825.7C515.4 826.1 517.1 826.3 518.8 826.5C520.5 826.8 522.2 826.9 523.9 827.1C525.7 827.3 527.4 827.4 529.1 827.5C530.9 827.7 532.6 827.8 534.3 828.0C536.0 828.2 537.8 828.4 539.5 828.6C541.1 828.9 542.8 829.2 544.4 829.6C546.1 830.0 547.7 830.4 549.3 831.0C550.8 831.5 552.4 832.1 553.9 832.7C555.4 833.4 556.9 834.1 558.4 834.9C559.9 835.6 561.4 836.4 562.8 837.2C564.3 838.1 565.7 838.9 567.1 839.8C568.6 840.7 570.0 841.6 571.4 842.6C572.8 843.5 574.2 844.4 575.6 845.4C577.0 846.3 578.4 847.2 579.9 848.2C581.3 849.1 582.7 850.0 584.1 850.9C585.5 851.8 587.0 852.7 588.4 853.6C589.9 854.4 591.3 855.2 592.8 856.0C594.3 856.8 595.8 857.6 597.3 858.4C598.8 859.2 600.2 859.9 601.7 860.7C603.2 861.5 604.7 862.3 606.2 863.1C607.6 863.9 609.1 864.7 610.5 865.6C612.0 866.4 613.4 867.3 614.8 868.2C616.2 869.1 617.6 870.1 619.0 871.0C620.4 871.9 621.8 872.9 623.2 873.8C624.6 874.7 626.0 875.7 627.4 876.6C628.9 877.5 630.3 878.4 631.7 879.3C633.1 880.1 634.6 881.0 636.0 881.8C637.5 882.6 639.0 883.4 640.5 884.1C642.0 884.8 643.5 885.5 645.0 886.2C646.5 886.8 648.1 887.5 649.7 888.0C651.2 888.6 652.8 889.2 654.4 889.7C656.0 890.2 657.6 890.7 659.2 891.2C660.8 891.7 662.5 892.1 664.1 892.6C665.7 893.0 667.4 893.4 669.0 893.8C670.7 894.2 672.3 894.6 674.0 894.9C675.6 895.3 677.3 895.6 679.0 895.9C680.6 896.2 682.3 896.4 684.0 896.6C685.6 896.9 687.3 897.1 689.0 897.2C690.7 897.3 692.3 897.4 694.0 897.5C695.7 897.5 697.3 897.5 699.0 897.5C700.7 897.5 702.3 897.4 704.0 897.2C705.6 897.1 707.3 896.9 708.9 896.6C710.6 896.3 712.2 896.0 713.9 895.7C715.5 895.3 717.1 894.9 718.7 894.4C720.3 893.9 721.9 893.4 723.5 892.8C725.1 892.3 726.7 891.7 728.2 891.0C729.8 890.3 731.3 889.6 732.9 888.9C734.4 888.2 735.9 887.4 737.4 886.6C738.9 885.7 740.3 884.9 741.8 884.0C743.2 883.1 744.6 882.2 746.0 881.2C747.4 880.2 748.8 879.2 750.1 878.2C751.4 877.2 752.7 876.1 754.0 875.0C755.3 874.0 756.6 872.9 757.8 871.7C759.0 870.6 760.2 869.4 761.4 868.2C762.6 867.1 763.8 865.9 764.9 864.6C766.0 863.4 767.2 862.2 768.3 860.9C769.4 859.7 770.4 858.4 771.5 857.1C772.6 855.8 773.6 854.5 774.7 853.2C775.7 851.9 776.7 850.5 777.8 849.2C778.8 847.9 779.8 846.5 780.8 845.2C781.8 843.8 782.8 842.5 783.8 841.1C784.7 839.7 785.7 838.4 786.7 837.0C787.6 835.6 788.6 834.3 789.5 832.9C790.5 831.5 791.4 830.1 792.4 828.7C793.3 827.3 794.2 825.9 795.1 824.5C796.1 823.1 797.0 821.7 797.9 820.3C798.8 818.9 799.7 817.5 800.6 816.1C801.5 814.6 802.4 813.2 803.2 811.8C804.1 810.4 805.0 808.9 805.9 807.5C806.7 806.1 807.6 804.6 808.4 803.2C809.3 801.7 810.1 800.3 811.0 798.8C811.8 797.4 812.7 795.9 813.5 794.5C814.3 793.0 815.1 791.5 816.0 790.1C816.8 788.6 817.6 787.1 818.4 785.7C819.2 784.2 820.0 782.7 820.8 781.3C821.6 779.8 822.4 778.3 823.2 776.8C824.0 775.3 824.7 773.8 825.5 772.3C826.3 770.9 827.1 769.4 827.8 767.9C828.6 766.4 829.4 764.9 830.1 763.4C830.9 761.9 831.6 760.4 832.4 758.9C833.1 757.4 833.9 755.9 834.6 754.4C835.4 752.8 836.1 751.3 836.8 749.8C837.6 748.3 838.3 746.8 839.0 745.3C839.8 743.8 840.5 742.3 841.2 740.7C841.9 739.2 842.6 737.7 843.4 736.2C844.1 734.6 844.8 733.1 845.5 731.6C846.2 730.1 846.9 728.6 847.6 727.0C848.3 725.5 849.0 724.0 849.7 722.4C850.4 720.9 851.1 719.4 851.8 717.9C852.5 716.3 853.2 714.8 853.9 713.3C854.6 711.7 855.2 710.2 855.9 708.7C856.6 707.1 857.3 705.6 858.0 704.1C858.6 702.5 859.3 701.0 860.0 699.5C860.7 697.9 861.4 696.4 862.0 694.9C862.7 693.3 863.4 691.8 864.0 690.3C864.7 688.7 865.4 687.2 866.0 685.6C866.7 684.1 867.4 682.6 868.0 681.0C868.7 679.5 869.3 677.9 870.0 676.4C870.7 674.9 871.3 673.3 872.0 671.8C872.6 670.2 873.3 668.7 873.9 667.2C874.6 665.6 875.3 664.1 875.9 662.5C876.6 661.0 877.2 659.4 877.9 657.9C878.5 656.3 879.2 654.8 879.8 653.3C880.4 651.7 881.1 650.2 881.7 648.6C882.4 647.1 883.0 645.5 883.7 644.0C884.3 642.4 885.0 640.9 885.6 639.3C886.2 637.8 886.9 636.2 887.5 634.7C888.2 633.1 888.8 631.6 889.4 630.0C890.1 628.5 890.7 626.9 891.4 625.4C892.0 623.8 892.6 622.3 893.3 620.7C893.9 619.2 894.5 617.6 895.2 616.1C895.8 614.5 896.4 613.0 897.1 611.4C897.7 609.9 898.4 608.3 899.0 606.7C899.6 605.2 900.3 603.6 900.9 602.1C901.5 600.5 902.2 599.0 902.8 597.4C903.4 595.9 904.1 594.3 904.7 592.7C905.3 591.2 906.0 589.6 906.6 588.1C907.3 586.5 907.9 585.0 908.5 583.4C909.2 581.8 909.8 580.3 910.4 578.7C911.1 577.2 911.7 575.6 912.4 574.0C913.0 572.5 913.6 570.9 914.3 569.4C914.9 567.8 915.6 566.3 916.2 564.7C916.9 563.2 917.5 561.6 918.2 560.1C918.8 558.5 919.5 557.0 920.1 555.4C920.8 553.9 921.4 552.3 922.1 550.8C922.7 549.2 923.4 547.7 924.0 546.1C924.7 544.6 925.4 543.1 926.0 541.5C926.7 540.0 927.4 538.5 928.0 536.9C928.7 535.4 929.4 533.9 930.1 532.4C930.7 530.8 931.4 529.3 932.1 527.8C932.8 526.3 933.5 524.8 934.2 523.3C934.8 521.8 935.5 520.3 936.2 518.7C936.9 517.2 937.6 515.7 938.3 514.2C938.9 512.7 939.6 511.2 940.3 509.6C940.9 508.1 941.6 506.5 942.2 505.0C942.8 503.4 943.5 501.8 944.1 500.2C944.7 498.6 945.3 497.0 945.9 495.4C946.5 493.8 947.1 492.2 947.7 490.6C948.3 489.0 948.9 487.4 949.6 485.8C950.2 484.2 950.9 482.6 951.7 481.1C952.4 479.6 953.2 478.1 954.1 476.7C955.0 475.2 955.9 473.8 956.9 472.5C957.9 471.2 959.0 469.9 960.2 468.8C961.3 467.7 962.6 466.7 963.9 465.8C965.3 465.0 966.7 464.3 968.2 463.7C969.7 463.2 971.3 462.7 972.9 462.4C974.5 462.1 976.2 461.9 977.8 461.8C979.5 461.7 981.2 461.7 982.9 461.8C984.6 461.8 986.3 462.0 988.0 462.2C989.7 462.3 991.4 462.6 993.1 462.9C994.8 463.1 996.4 463.5 998.1 463.8C999.8 464.1 1001.5 464.5 1003.1 464.8C1004.8 465.1 1006.5 465.5 1008.1 465.8C1009.8 466.1 1011.5 466.4 1013.1 466.6C1014.8 466.9 1016.5 467.1 1018.1 467.3C1019.8 467.5 1021.5 467.7 1023.1 467.8C1024.8 468.0 1026.4 468.1 1028.1 468.2C1029.8 468.3 1031.4 468.3 1033.1 468.4C1034.8 468.4 1036.4 468.4 1038.1 468.4C1039.7 468.4 1041.4 468.4 1043.1 468.3C1044.7 468.3 1046.4 468.2 1048.0 468.1C1049.7 468.0 1051.4 467.9 1053.0 467.7C1054.7 467.6 1056.4 467.4 1058.0 467.3C1059.7 467.1 1061.3 466.9 1063.0 466.7C1064.7 466.5 1066.3 466.2 1068.0 466.0C1069.7 465.8 1071.3 465.5 1073.0 465.2C1074.7 464.9 1076.3 464.6 1078.0 464.3C1079.7 464.0 1082.2 463.5 1083.0 463.4"/>
<path d="M192.5 340.2C193.3 340.0 195.7 339.4 197.4 339.2C199.0 338.9 200.7 338.7 202.3 338.5C204.0 338.4 205.7 338.3 207.4 338.2C209.1 338.1 210.8 338.1 212.4 338.1C214.1 338.1 215.8 338.1 217.5 338.1C219.2 338.1 220.9 338.2 222.5 338.2C224.2 338.3 225.8 338.3 227.5 338.4C229.1 338.4 230.8 338.4 232.4 338.4C234.0 338.5 235.7 338.5 237.4 338.5C239.1 338.5 240.8 338.5 242.5 338.4C244.3 338.4 246.1 338.3 247.9 338.3C249.6 338.4 251.5 338.3 253.1 338.7C254.7 339.1 256.2 339.7 257.5 340.5C258.8 341.3 260.0 342.5 261.0 343.7C262.1 344.9 263.0 346.3 263.9 347.8C264.8 349.2 265.5 350.8 266.3 352.3C267.0 353.8 267.7 355.4 268.3 357.0C269.0 358.5 269.6 360.1 270.2 361.7C270.9 363.2 271.5 364.8 272.1 366.4C272.8 367.9 273.4 369.5 274.1 371.1C274.8 372.7 275.4 374.3 276.3 375.8C277.1 377.3 278.0 378.9 279.1 380.0C280.3 381.0 281.8 381.7 283.2 382.2C284.7 382.8 286.4 383.0 288.0 383.1C289.6 383.3 291.2 383.3 292.8 383.3C294.4 383.2 296.1 383.0 297.7 382.8C299.4 382.6 301.0 382.3 302.7 382.0C304.3 381.6 306.0 381.2 307.7 380.8C309.3 380.4 311.0 380.0 312.6 379.6C314.3 379.2 316.0 378.8 317.6 378.4C319.3 378.0 320.9 377.6 322.6 377.2C324.2 376.8 325.9 376.5 327.5 376.1C329.2 375.7 330.8 375.3 332.5 375.0C334.1 374.6 335.8 374.2 337.4 373.9C339.1 373.5 340.7 373.1 342.3 372.8C344.0 372.4 345.6 372.1 347.3 371.7C348.9 371.4 350.5 371.0 352.2 370.7C353.8 370.3 355.4 370.0 357.1 369.6C358.7 369.3 360.3 368.9 362.0 368.6C363.6 368.2 365.2 367.9 366.9 367.5C368.5 367.2 370.1 366.8 371.8 366.5C373.4 366.1 375.0 365.8 376.7 365.4C378.3 365.0 379.9 364.7 381.6 364.3C383.2 363.9 384.8 363.6 386.4 363.2C388.1 362.8 389.7 362.4 391.3 362.1C393.0 361.7 394.6 361.3 396.2 360.9C397.9 360.5 399.5 360.1 401.1 359.7C402.8 359.3 404.4 358.9 406.0 358.5C407.7 358.1 409.3 357.7 410.9 357.3C412.6 356.9 414.2 356.5 415.8 356.1C417.5 355.7 419.1 355.3 420.7 354.9C422.4 354.5 424.0 354.1 425.7 353.8C427.3 353.4 428.9 353.0 430.6 352.6C432.2 352.3 433.9 351.9 435.5 351.6C437.2 351.2 438.8 350.9 440.5 350.5C442.1 350.2 443.8 349.9 445.4 349.6C447.1 349.3 448.7 349.0 450.4 348.7C452.0 348.5 453.7 348.2 455.4 348.0C457.0 347.7 458.7 347.5 460.3 347.3C462.0 347.1 463.7 346.9 465.3 346.7C467.0 346.5 468.7 346.4 470.3 346.2C472.0 346.1 473.7 345.9 475.4 345.8C477.0 345.7 478.7 345.5 480.4 345.4C482.0 345.3 483.7 345.2 485.4 345.1C487.1 345.1 488.8 345.0 490.4 344.9C492.1 344.8 493.8 344.7 495.5 344.7C497.1 344.6 498.8 344.6 500.5 344.5C502.2 344.5 503.9 344.4 505.6 344.4C507.2 344.3 508.9 344.3 510.6 344.2C512.3 344.2 514.0 344.1 515.6 344.1C517.3 344.0 519.0 344.0 520.7 343.9C522.4 343.9 524.0 343.8 525.7 343.8C527.4 343.7 529.1 343.7 530.8 343.6C532.4 343.5 534.1 343.5 535.8 343.4C537.5 343.4 539.2 343.3 540.8 343.2C542.5 343.2 544.2 343.1 545.9 343.0C547.5 342.9 549.2 342.9 550.9 342.8C552.6 342.7 554.3 342.6 555.9 342.5C557.6 342.5 559.3 342.4 561.0 342.3C562.6 342.2 564.3 342.1 566.0 342.1C567.7 342.0 569.3 341.9 571.0 341.8C572.7 341.7 574.4 341.6 576.0 341.5C577.7 341.5 579.4 341.4 581.1 341.3C582.7 341.2 584.4 341.1 586.1 341.0C587.8 340.9 589.4 340.9 591.1 340.8C592.8 340.7 594.5 340.6 596.1 340.5C597.8 340.4 599.5 340.3 601.2 340.2C602.8 340.2 604.5 340.1 606.2 340.0C607.9 339.9 609.6 339.8 611.2 339.7C612.9 339.7 614.6 339.6 616.3 339.5C617.9 339.4 619.6 339.3 621.3 339.3C623.0 339.2 624.6 339.1 626.3 339.0C628.0 339.0 629.7 338.9 631.3 338.8C633.0 338.8 634.7 338.7 636.4 338.6C638.1 338.6 639.7 338.5 641.4 338.4C643.1 338.4 644.8 338.3 646.5 338.3C648.1 338.2 649.8 338.2 651.5 338.1C653.2 338.1 654.9 338.0 656.5 338.0C658.2 337.9 659.9 337.9 661.6 337.9C663.3 337.8 664.9 337.8 666.6 337.8C668.3 337.7 670.0 337.7 671.7 337.7C673.3 337.7 675.0 337.6 676.7 337.6C678.4 337.6 680.1 337.6 681.8 337.6C683.4 337.6 685.1 337.6 686.8 337.6C688.5 337.6 690.2 337.6 691.8 337.6C693.5 337.6 695.2 337.6 696.9 337.6C698.6 337.6 700.2 337.7 701.9 337.7C703.6 337.7 705.3 337.7 707.0 337.8C708.7 337.8 710.3 337.9 712.0 337.9C713.7 337.9 715.4 338.0 717.1 338.0C718.7 338.1 720.4 338.2 722.1 338.2C723.8 338.3 725.4 338.4 727.1 338.4C728.8 338.5 730.5 338.6 732.2 338.7C733.8 338.8 735.5 338.9 737.2 338.9C738.9 339.0 740.5 339.1 742.2 339.3C743.9 339.4 745.6 339.5 747.2 339.6C748.9 339.7 750.6 339.8 752.3 340.0C753.9 340.1 755.6 340.2 757.3 340.4C758.9 340.5 760.6 340.7 762.3 340.8C764.0 341.0 765.6 341.2 767.3 341.3C769.0 341.5 770.6 341.7 772.3 341.9C774.0 342.1 775.6 342.2 777.3 342.4C779.0 342.6 780.6 342.8 782.3 343.1C784.0 343.3 785.6 343.5 787.3 343.7C789.0 343.9 790.6 344.2 792.3 344.4C793.9 344.7 795.6 344.9 797.3 345.2C798.9 345.4 800.6 345.7 802.2 346.0C803.9 346.2 805.5 346.5 807.2 346.8C808.8 347.1 810.5 347.4 812.2 347.7C813.8 348.0 815.5 348.3 817.1 348.6C818.8 348.9 820.4 349.3 822.1 349.6C823.7 349.9 825.3 350.3 827.0 350.6C828.6 350.9 830.3 351.3 831.9 351.6C833.6 352.0 835.2 352.4 836.9 352.7C838.5 353.1 840.1 353.4 841.8 353.8C843.4 354.2 845.1 354.6 846.7 355.0C848.3 355.3 850.0 355.7 851.6 356.1C853.2 356.5 854.9 356.9 856.5 357.3C858.1 357.7 859.8 358.1 861.4 358.5C863.0 358.9 864.7 359.3 866.3 359.7C867.9 360.1 869.5 360.5 871.2 361.0C872.8 361.4 874.4 361.8 876.0 362.2C877.7 362.6 879.3 363.0 880.9 363.5C882.5 363.9 884.2 364.3 885.8 364.7C887.4 365.1 889.0 365.6 890.6 366.0C892.3 366.4 893.9 366.8 895.5 367.2C897.1 367.6 898.8 368.0 900.4 368.4C902.0 368.8 903.6 369.2 905.3 369.6C906.9 369.9 908.5 370.3 910.2 370.7C911.8 371.0 913.5 371.4 915.1 371.7C916.8 372.0 918.4 372.3 920.1 372.6C921.7 372.9 923.4 373.2 925.0 373.5C926.7 373.8 928.4 374.0 930.1 374.2C931.8 374.5 933.5 374.7 935.1 374.9C936.8 375.0 938.5 375.2 940.2 375.1C941.8 375.0 943.4 374.9 944.8 374.3C946.3 373.7 947.6 372.8 948.8 371.7C950.1 370.7 951.2 369.3 952.2 368.0C953.3 366.7 954.2 365.3 955.1 364.0C956.1 362.6 956.9 361.2 957.8 359.8C958.7 358.4 959.6 356.9 960.6 355.4C961.5 354.0 962.5 352.5 963.5 351.1C964.5 349.7 965.5 348.3 966.7 347.0C967.8 345.8 968.9 344.5 970.1 343.5C971.4 342.4 972.7 341.5 974.0 340.7C975.4 339.9 976.8 339.2 978.2 338.7C979.7 338.1 981.2 337.7 982.8 337.3C984.4 337.0 986.0 336.7 987.6 336.5C989.2 336.3 990.9 336.3 992.6 336.2C994.3 336.1 996.0 336.2 997.8 336.2C999.5 336.2 1001.3 336.3 1003.0 336.4C1004.8 336.5 1006.6 336.7 1008.3 336.8C1010.1 336.9 1011.9 337.0 1013.6 337.2C1015.4 337.3 1017.1 337.4 1018.8 337.4C1020.5 337.5 1022.3 337.5 1024.0 337.6C1025.7 337.6 1027.4 337.6 1029.0 337.6C1030.7 337.6 1032.4 337.6 1034.1 337.6C1035.7 337.6 1037.4 337.5 1039.0 337.5C1040.7 337.5 1042.3 337.4 1044.0 337.4C1045.6 337.3 1047.3 337.2 1048.9 337.2C1050.6 337.1 1052.2 337.1 1053.8 337.0C1055.5 336.9 1057.1 336.9 1058.7 336.8C1060.4 336.8 1062.0 336.7 1063.7 336.7C1065.3 336.7 1067.0 336.6 1068.6 336.6C1070.3 336.6 1072.0 336.6 1073.6 336.6C1075.3 336.6 1077.0 336.6 1078.7 336.7C1080.3 336.7 1082.0 336.7 1083.8 336.8C1085.5 336.9 1087.2 337.0 1088.9 337.1C1090.7 337.2 1093.3 337.5 1094.2 337.5"/>
<path d="M203.0 388.1C203.8 388.2 206.4 388.6 208.0 388.7C209.7 388.9 211.4 389.1 213.1 389.2C214.8 389.3 216.5 389.4 218.1 389.4C219.8 389.5 221.5 389.5 223.2 389.5C224.8 389.5 226.5 389.5 228.2 389.4C229.8 389.3 231.5 389.3 233.2 389.2C234.9 389.1 236.5 389.0 238.2 388.9C239.9 388.7 241.6 388.6 243.2 388.5C244.9 388.3 246.6 388.2 248.3 388.0C249.9 387.9 251.6 387.7 253.3 387.6C255.0 387.4 256.7 387.3 258.4 387.1C260.1 387.0 261.8 386.9 263.5 386.8C265.2 386.6 266.9 386.5 268.6 386.5C270.3 386.4 272.0 386.3 273.5 386.6C275.1 386.9 276.5 387.4 277.8 388.3C279.0 389.2 280.1 390.6 281.0 392.0C281.9 393.4 282.6 395.0 283.3 396.6C284.0 398.2 284.5 399.8 285.0 401.5C285.5 403.1 285.9 404.8 286.3 406.4C286.8 408.1 287.1 409.8 287.5 411.4C288.0 413.1 288.4 414.7 288.9 416.3C289.4 418.0 290.0 419.6 290.6 421.1C291.3 422.7 292.1 424.2 293.0 425.6C294.0 427.1 295.0 428.5 296.2 429.7C297.4 431.0 298.6 432.1 300.0 433.0C301.3 433.9 302.7 434.6 304.2 435.1C305.6 435.6 307.1 435.9 308.7 436.0C310.2 436.2 311.8 436.2 313.4 436.1C315.0 436.0 316.7 435.7 318.3 435.4C320.0 435.1 321.6 434.7 323.3 434.2C325.0 433.7 326.7 433.2 328.3 432.7C330.0 432.1 331.7 431.6 333.3 431.0C334.9 430.4 336.6 429.8 338.2 429.2C339.8 428.6 341.4 428.0 343.0 427.4C344.6 426.8 346.2 426.2 347.8 425.6C349.4 424.9 351.0 424.3 352.5 423.7C354.1 423.0 355.7 422.4 357.2 421.7C358.8 421.1 360.3 420.4 361.8 419.7C363.4 419.1 364.9 418.4 366.4 417.7C368.0 417.0 369.5 416.4 371.0 415.7C372.5 415.0 374.0 414.3 375.6 413.6C377.1 412.9 378.6 412.2 380.1 411.5C381.6 410.9 383.1 410.2 384.6 409.5C386.1 408.8 387.6 408.1 389.2 407.4C390.7 406.7 392.2 406.0 393.7 405.3C395.2 404.6 396.7 404.0 398.2 403.3C399.7 402.6 401.3 401.9 402.8 401.3C404.3 400.6 405.8 399.9 407.4 399.3C408.9 398.6 410.4 397.9 412.0 397.3C413.5 396.6 415.1 396.0 416.6 395.4C418.2 394.7 419.7 394.1 421.3 393.5C422.9 392.8 424.4 392.2 426.0 391.6C427.6 391.0 429.2 390.4 430.7 389.8C432.3 389.3 433.9 388.7 435.5 388.1C437.1 387.5 438.7 387.0 440.3 386.4C441.9 385.9 443.5 385.4 445.1 384.8C446.7 384.3 448.3 383.8 449.9 383.3C451.5 382.8 453.2 382.3 454.8 381.8C456.4 381.4 458.0 380.9 459.7 380.5C461.3 380.0 462.9 379.6 464.6 379.2C466.2 378.7 467.8 378.3 469.5 378.0C471.1 377.6 472.8 377.2 474.4 376.8C476.1 376.5 477.7 376.1 479.4 375.8C481.0 375.5 482.7 375.2 484.3 374.9C486.0 374.6 487.6 374.4 489.3 374.1C490.9 373.8 492.6 373.6 494.3 373.4C495.9 373.2 497.6 373.0 499.3 372.8C500.9 372.6 502.6 372.5 504.3 372.4C505.9 372.2 507.6 372.1 509.3 372.0C510.9 371.9 512.6 371.9 514.3 371.8C516.0 371.8 517.6 371.7 519.3 371.7C521.0 371.7 522.6 371.7 524.3 371.8C526.0 371.8 527.7 371.9 529.3 372.0C531.0 372.1 532.7 372.2 534.4 372.3C536.0 372.5 537.7 372.7 539.4 372.9C541.1 373.0 542.7 373.3 544.4 373.5C546.1 373.8 547.8 374.0 549.4 374.3C551.1 374.6 552.8 375.0 554.4 375.3C556.1 375.7 557.7 376.1 559.4 376.5C561.0 376.9 562.6 377.3 564.3 377.8C565.9 378.3 567.5 378.8 569.1 379.4C570.7 379.9 572.3 380.5 573.8 381.1C575.4 381.7 577.0 382.3 578.5 383.0C580.0 383.6 581.6 384.3 583.1 385.1C584.6 385.8 586.1 386.5 587.6 387.2C589.1 388.0 590.6 388.7 592.1 389.5C593.6 390.2 595.1 391.0 596.6 391.8C598.1 392.5 599.6 393.3 601.1 394.1C602.6 394.8 604.1 395.6 605.6 396.3C607.1 397.0 608.6 397.8 610.1 398.5C611.6 399.2 613.2 399.9 614.7 400.6C616.2 401.3 617.8 402.0 619.3 402.7C620.9 403.3 622.4 404.0 624.0 404.6C625.5 405.3 627.1 405.9 628.7 406.5C630.2 407.1 631.8 407.7 633.4 408.2C635.0 408.8 636.6 409.4 638.1 409.9C639.7 410.4 641.3 410.9 642.9 411.4C644.6 411.9 646.2 412.4 647.8 412.8C649.4 413.3 651.0 413.7 652.7 414.1C654.3 414.5 655.9 414.9 657.6 415.2C659.2 415.5 660.9 415.9 662.5 416.2C664.2 416.4 665.8 416.7 667.5 417.0C669.2 417.2 670.8 417.4 672.5 417.6C674.2 417.8 675.9 418.0 677.5 418.1C679.2 418.2 680.9 418.4 682.6 418.5C684.3 418.6 686.0 418.6 687.7 418.7C689.3 418.7 691.0 418.7 692.7 418.8C694.4 418.8 696.1 418.7 697.8 418.7C699.5 418.7 701.1 418.6 702.8 418.5C704.5 418.5 706.2 418.4 707.9 418.2C709.5 418.1 711.2 418.0 712.9 417.8C714.6 417.7 716.2 417.5 717.9 417.3C719.6 417.1 721.2 416.8 722.9 416.6C724.6 416.4 726.2 416.1 727.9 415.8C729.5 415.6 731.2 415.3 732.8 414.9C734.5 414.6 736.1 414.3 737.8 413.9C739.4 413.6 741.0 413.2 742.7 412.8C744.3 412.4 745.9 412.0 747.6 411.6C749.2 411.2 750.8 410.7 752.4 410.3C754.0 409.8 755.6 409.3 757.3 408.8C758.9 408.3 760.5 407.8 762.0 407.3C763.6 406.7 765.2 406.2 766.8 405.6C768.4 405.0 770.0 404.5 771.5 403.9C773.1 403.3 774.7 402.6 776.2 402.0C777.8 401.4 779.3 400.7 780.9 400.1C782.4 399.4 784.0 398.7 785.5 398.1C787.1 397.4 788.6 396.7 790.2 396.0C791.7 395.4 793.2 394.7 794.8 394.0C796.3 393.3 797.9 392.6 799.4 392.0C801.0 391.3 802.5 390.7 804.1 390.0C805.7 389.4 807.2 388.7 808.8 388.1C810.4 387.6 812.0 386.9 813.6 386.5C815.2 386.1 816.8 385.9 818.4 385.9C820.0 385.8 821.6 386.1 823.2 386.4C824.9 386.8 826.5 387.4 828.1 387.9C829.8 388.5 831.4 389.2 833.0 389.9C834.6 390.5 836.2 391.2 837.8 391.8C839.4 392.5 840.9 393.1 842.5 393.7C844.1 394.3 845.6 394.9 847.2 395.5C848.7 396.1 850.2 396.7 851.8 397.3C853.3 398.0 854.8 398.6 856.4 399.2C857.9 399.9 859.4 400.5 860.9 401.2C862.5 401.9 864.0 402.6 865.5 403.3C867.0 404.0 868.5 404.7 870.1 405.4C871.6 406.2 873.1 406.9 874.6 407.6C876.2 408.4 877.7 409.1 879.2 409.8C880.8 410.6 882.3 411.3 883.8 412.0C885.4 412.7 886.9 413.5 888.4 414.2C890.0 414.9 891.5 415.6 893.1 416.3C894.6 416.9 896.2 417.6 897.8 418.2C899.3 418.9 900.9 419.5 902.5 420.1C904.0 420.7 905.6 421.3 907.2 421.8C908.8 422.3 910.4 422.8 912.0 423.3C913.6 423.8 915.2 424.2 916.8 424.6C918.5 425.0 920.1 425.5 921.7 425.6C923.3 425.7 924.9 425.8 926.2 425.3C927.6 424.7 928.9 423.7 929.9 422.5C931.0 421.3 931.9 419.5 932.8 418.0C933.7 416.4 934.4 414.7 935.2 413.1C936.0 411.5 936.8 410.1 937.5 408.6C938.3 407.0 939.0 405.6 939.7 404.1C940.4 402.6 941.1 401.0 941.8 399.5C942.5 398.0 943.2 396.5 943.8 394.9C944.5 393.4 945.2 391.9 945.8 390.3C946.5 388.8 947.1 387.2 947.7 385.7C948.4 384.1 949.0 382.6 949.7 381.0C950.3 379.5 950.9 377.9 951.6 376.4C952.2 374.8 952.9 373.3 953.6 371.7C954.2 370.2 954.9 368.6 955.6 367.1C956.3 365.6 957.0 364.0 957.7 362.5C958.5 361.0 959.6 358.7 960.0 358.0"/>
<path d="M1039.0 338.6C1038.4 338.7 1036.6 338.9 1035.1 338.9C1033.6 339.0 1031.9 338.8 1030.1 338.7C1028.3 338.6 1026.4 338.5 1024.4 338.4C1022.5 338.3 1020.5 338.2 1018.5 338.2C1016.6 338.3 1014.7 338.4 1012.9 338.7C1011.1 339.0 1009.4 339.5 1007.9 340.2C1006.4 340.9 1005.0 341.9 1003.9 343.1C1002.8 344.2 1001.9 345.8 1001.1 347.3C1000.3 348.8 999.7 350.5 999.0 352.1C998.3 353.7 997.7 355.3 997.0 356.9C996.4 358.6 995.8 360.3 995.2 361.9C994.6 363.6 994.0 365.3 993.3 367.0C992.6 368.6 991.9 370.2 991.1 371.7C990.2 373.2 989.3 374.7 988.3 376.0C987.2 377.3 986.0 378.5 984.7 379.5C983.4 380.4 981.9 381.2 980.3 381.6C978.7 382.1 977.0 382.2 975.2 382.1C973.5 382.1 971.6 381.8 969.8 381.6C968.0 381.4 966.2 380.9 964.4 380.7C962.6 380.5 960.8 380.3 959.1 380.4C957.4 380.4 955.7 380.7 954.2 381.3C952.7 381.9 951.3 382.8 950.1 384.0C948.9 385.1 947.9 386.6 946.9 388.0C946.0 389.5 945.3 391.2 944.6 392.8C943.9 394.4 943.3 396.1 942.7 397.7C942.1 399.4 941.5 401.1 940.9 402.7C940.2 404.3 939.5 405.9 938.9 407.5C938.2 409.1 937.5 410.6 936.8 412.2C936.1 413.7 935.3 415.3 934.6 416.9C933.9 418.4 933.2 420.0 932.5 421.6C931.8 423.2 931.1 424.8 930.4 426.4C929.7 428.0 929.0 429.6 928.3 431.1C927.6 432.7 926.9 434.3 926.2 435.9C925.5 437.5 924.8 439.1 924.1 440.7C923.4 442.3 922.8 443.9 922.1 445.5C921.4 447.1 920.7 448.7 920.0 450.3C919.3 451.9 918.2 454.2 917.9 455.0"/>
<path d="M1039.0 388.9C1038.1 389.0 1035.5 389.1 1033.8 389.2C1032.0 389.2 1030.3 389.2 1028.6 389.1C1026.9 389.1 1025.1 389.0 1023.4 388.9C1021.7 388.8 1020.0 388.7 1018.2 388.6C1016.5 388.5 1014.8 388.3 1013.1 388.2C1011.3 388.0 1009.6 387.9 1007.9 387.7C1006.1 387.6 1004.4 387.5 1002.7 387.4C1000.9 387.2 999.2 387.1 997.4 387.1C995.7 387.0 993.8 386.8 992.1 386.9C990.4 387.0 988.6 387.0 987.2 387.5C985.7 388.1 984.5 389.1 983.5 390.3C982.4 391.5 981.7 393.2 980.9 394.8C980.2 396.4 979.5 398.0 978.9 399.7C978.3 401.4 977.7 403.1 977.1 404.8C976.5 406.5 976.0 408.3 975.4 410.0C974.8 411.7 974.3 413.4 973.6 415.0C973.0 416.7 972.3 418.3 971.5 419.8C970.7 421.3 969.9 422.7 968.9 424.1C967.9 425.4 966.8 426.6 965.6 427.7C964.4 428.8 963.0 429.8 961.5 430.7C960.0 431.5 958.4 432.2 956.8 432.9C955.2 433.5 953.4 434.0 951.7 434.3C949.9 434.7 948.1 434.9 946.3 435.1C944.6 435.3 942.7 435.2 941.0 435.3C939.3 435.4 937.5 435.4 935.9 435.6C934.2 435.8 932.6 436.1 931.2 436.7C929.8 437.4 928.4 438.3 927.2 439.5C926.0 440.7 925.0 442.5 924.0 444.0C923.0 445.5 922.1 447.2 921.2 448.7C920.4 450.2 919.6 451.6 918.8 453.1C918.0 454.5 917.3 456.0 916.6 457.5C915.8 459.0 915.1 460.6 914.4 462.1C913.6 463.7 912.9 465.2 912.2 466.8C911.5 468.4 910.8 470.0 910.1 471.6C909.4 473.3 908.7 474.9 908.0 476.5C907.3 478.1 906.6 479.8 905.9 481.4C905.2 483.0 904.5 484.7 903.8 486.3C903.1 487.9 902.4 489.5 901.7 491.1C901.0 492.7 900.3 494.3 899.5 495.9C898.8 497.4 898.1 499.0 897.3 500.5C896.6 502.0 895.5 504.3 895.1 505.0"/>
<path d="M179.8 1150.9C181.2 1151.1 185.3 1151.8 188.0 1152.3C190.7 1152.7 193.4 1153.0 196.1 1153.4C198.8 1153.7 201.5 1153.9 204.2 1154.2C206.9 1154.4 209.7 1154.5 212.4 1154.7C215.1 1154.8 217.8 1154.9 220.5 1154.9C223.2 1154.9 225.9 1154.9 228.6 1154.8C231.3 1154.7 234.0 1154.6 236.6 1154.5C239.3 1154.3 242.0 1154.1 244.7 1153.9C247.4 1153.6 250.0 1153.4 252.7 1153.0C255.4 1152.7 258.0 1152.3 260.7 1151.9C263.3 1151.5 266.0 1151.1 268.6 1150.6C271.3 1150.1 273.9 1149.6 276.5 1149.0C279.1 1148.5 281.7 1147.9 284.3 1147.2C287.0 1146.6 289.5 1146.0 292.1 1145.3C294.7 1144.6 297.3 1143.8 299.9 1143.1C302.5 1142.3 305.0 1141.5 307.6 1140.7C310.2 1139.9 312.7 1139.1 315.3 1138.2C317.8 1137.3 320.4 1136.4 322.9 1135.5C325.5 1134.6 328.0 1133.7 330.5 1132.7C333.1 1131.8 335.6 1130.8 338.1 1129.8C340.6 1128.8 343.2 1127.8 345.7 1126.8C348.2 1125.7 350.7 1124.7 353.2 1123.6C355.7 1122.6 358.2 1121.5 360.7 1120.4C363.2 1119.3 365.7 1118.2 368.1 1117.1C370.6 1116.0 373.1 1114.9 375.6 1113.8C378.1 1112.7 380.6 1111.6 383.1 1110.5C385.5 1109.4 388.0 1108.3 390.5 1107.2C393.0 1106.1 395.5 1105.0 397.9 1103.9C400.4 1102.8 402.9 1101.7 405.4 1100.7C407.9 1099.6 410.4 1098.6 412.9 1097.6C415.4 1096.5 417.9 1095.5 420.4 1094.5C422.9 1093.6 425.4 1092.6 427.9 1091.7C430.5 1090.7 433.0 1089.8 435.5 1088.9C438.1 1088.1 440.6 1087.2 443.1 1086.4C445.7 1085.6 448.3 1084.8 450.8 1084.1C453.4 1083.4 456.0 1082.7 458.6 1082.0C461.2 1081.3 463.8 1080.7 466.4 1080.1C469.0 1079.5 471.6 1079.0 474.2 1078.5C476.8 1077.9 479.5 1077.4 482.1 1077.0C484.7 1076.5 487.4 1076.1 490.0 1075.6C492.7 1075.2 495.3 1074.8 498.0 1074.5C500.7 1074.1 503.3 1073.7 506.0 1073.4C508.7 1073.1 511.3 1072.8 514.0 1072.5C516.7 1072.2 519.4 1071.9 522.1 1071.6C524.7 1071.3 527.4 1071.1 530.1 1070.8C532.8 1070.6 535.5 1070.4 538.2 1070.1C540.8 1069.9 543.5 1069.7 546.2 1069.4C548.9 1069.2 551.6 1069.0 554.3 1068.8C557.0 1068.6 559.7 1068.4 562.4 1068.2C565.0 1068.0 567.7 1067.8 570.4 1067.6C573.1 1067.4 575.8 1067.2 578.5 1067.0C581.2 1066.8 583.9 1066.6 586.6 1066.4C589.3 1066.2 592.0 1066.0 594.7 1065.8C597.4 1065.6 600.1 1065.4 602.8 1065.1C605.5 1064.9 608.2 1064.7 610.9 1064.5C613.6 1064.2 616.3 1064.0 619.0 1063.7C621.7 1063.5 624.4 1063.2 627.1 1063.0C629.8 1062.7 632.5 1062.4 635.2 1062.2C637.9 1061.9 640.7 1061.6 643.4 1061.4C646.1 1061.1 648.8 1060.9 651.5 1060.6C654.2 1060.4 656.9 1060.1 659.6 1059.9C662.3 1059.7 665.0 1059.5 667.7 1059.3C670.4 1059.2 673.1 1059.0 675.7 1058.9C678.4 1058.7 681.1 1058.6 683.8 1058.6C686.5 1058.5 689.2 1058.5 691.9 1058.5C694.6 1058.4 697.2 1058.5 699.9 1058.6C702.6 1058.6 705.3 1058.7 707.9 1058.9C710.6 1059.0 713.3 1059.2 715.9 1059.5C718.6 1059.7 721.2 1059.9 723.9 1060.2C726.6 1060.5 729.2 1060.9 731.9 1061.2C734.5 1061.6 737.1 1062.0 739.8 1062.4C742.4 1062.8 745.1 1063.3 747.7 1063.8C750.3 1064.3 752.9 1064.8 755.6 1065.3C758.2 1065.9 760.8 1066.5 763.4 1067.1C766.0 1067.7 768.6 1068.3 771.3 1069.0C773.9 1069.6 776.5 1070.3 779.1 1071.0C781.7 1071.8 784.2 1072.5 786.8 1073.3C789.4 1074.0 792.0 1074.8 794.6 1075.6C797.2 1076.4 799.7 1077.3 802.3 1078.1C804.9 1079.0 807.4 1079.8 810.0 1080.7C812.5 1081.6 815.1 1082.5 817.6 1083.5C820.2 1084.4 822.7 1085.4 825.3 1086.3C827.8 1087.3 830.3 1088.3 832.8 1089.3C835.4 1090.3 837.9 1091.3 840.4 1092.3C842.9 1093.4 845.4 1094.4 847.9 1095.5C850.4 1096.5 852.9 1097.6 855.4 1098.7C857.9 1099.8 860.4 1100.8 862.9 1101.9C865.4 1103.0 867.9 1104.1 870.3 1105.2C872.8 1106.4 875.3 1107.5 877.8 1108.6C880.3 1109.7 882.7 1110.8 885.2 1111.9C887.7 1113.0 890.2 1114.1 892.7 1115.2C895.1 1116.3 897.6 1117.4 900.1 1118.5C902.6 1119.6 905.0 1120.7 907.5 1121.8C910.0 1122.9 912.5 1123.9 915.0 1125.0C917.5 1126.0 920.0 1127.1 922.5 1128.1C924.9 1129.1 927.4 1130.1 929.9 1131.1C932.4 1132.1 935.0 1133.1 937.5 1134.1C940.0 1135.0 942.5 1135.9 945.0 1136.8C947.6 1137.8 950.1 1138.6 952.6 1139.5C955.2 1140.4 957.7 1141.2 960.3 1142.0C962.8 1142.8 965.4 1143.6 967.9 1144.3C970.5 1145.1 973.1 1145.8 975.7 1146.5C978.3 1147.2 980.9 1147.8 983.5 1148.4C986.1 1149.0 988.7 1149.6 991.4 1150.1C994.0 1150.7 996.6 1151.1 999.3 1151.6C1001.9 1152.0 1004.6 1152.5 1007.3 1152.8C1010.0 1153.2 1012.6 1153.5 1015.3 1153.8C1018.0 1154.1 1020.7 1154.3 1023.4 1154.5C1026.1 1154.7 1028.8 1154.9 1031.5 1155.0C1034.2 1155.1 1036.9 1155.1 1039.6 1155.1C1042.3 1155.1 1045.0 1155.1 1047.8 1155.0C1050.5 1154.9 1053.2 1154.8 1055.9 1154.6C1058.6 1154.4 1061.3 1154.1 1064.0 1153.8C1066.7 1153.5 1069.4 1153.2 1072.1 1152.8C1074.8 1152.4 1077.5 1151.9 1080.2 1151.4C1082.8 1150.9 1086.8 1150.0 1088.2 1149.7"/>
<path d="M179.7 1209.9C181.1 1210.2 185.2 1211.2 187.9 1211.7C190.6 1212.2 193.3 1212.7 196.1 1213.1C198.8 1213.5 201.5 1213.8 204.2 1214.1C206.9 1214.4 209.6 1214.6 212.3 1214.7C215.0 1214.9 217.7 1214.9 220.4 1215.0C223.0 1215.0 225.7 1215.0 228.4 1214.9C231.0 1214.8 233.7 1214.6 236.4 1214.4C239.0 1214.3 241.7 1214.0 244.3 1213.7C247.0 1213.4 249.6 1213.0 252.2 1212.6C254.8 1212.2 257.5 1211.8 260.1 1211.3C262.7 1210.8 265.3 1210.2 267.9 1209.6C270.5 1209.1 273.1 1208.4 275.7 1207.7C278.2 1207.1 280.8 1206.3 283.4 1205.6C285.9 1204.8 288.5 1204.0 291.0 1203.2C293.6 1202.3 296.1 1201.5 298.7 1200.6C301.2 1199.6 303.7 1198.7 306.2 1197.7C308.7 1196.7 311.2 1195.7 313.7 1194.7C316.2 1193.6 318.7 1192.6 321.2 1191.4C323.6 1190.3 326.1 1189.2 328.5 1188.0C331.0 1186.9 333.4 1185.7 335.9 1184.5C338.3 1183.3 340.7 1182.0 343.1 1180.8C345.5 1179.5 347.9 1178.2 350.3 1176.9C352.7 1175.6 355.1 1174.3 357.5 1173.0C359.8 1171.6 362.2 1170.3 364.5 1168.9C366.9 1167.5 369.2 1166.2 371.5 1164.8C373.9 1163.4 376.2 1162.0 378.5 1160.6C380.8 1159.2 383.1 1157.7 385.4 1156.3C387.7 1154.9 390.0 1153.5 392.3 1152.1C394.6 1150.7 396.9 1149.3 399.2 1147.9C401.6 1146.5 403.9 1145.1 406.2 1143.8C408.5 1142.4 410.8 1141.0 413.1 1139.7C415.5 1138.4 417.8 1137.1 420.1 1135.8C422.5 1134.5 424.8 1133.2 427.2 1132.0C429.6 1130.7 431.9 1129.5 434.3 1128.3C436.7 1127.2 439.1 1126.0 441.6 1124.9C444.0 1123.8 446.4 1122.7 448.9 1121.7C451.3 1120.7 453.8 1119.7 456.3 1118.7C458.8 1117.8 461.3 1116.9 463.9 1116.1C466.4 1115.2 469.0 1114.4 471.5 1113.6C474.1 1112.9 476.7 1112.2 479.3 1111.5C481.9 1110.9 484.5 1110.3 487.2 1109.7C489.8 1109.2 492.4 1108.7 495.1 1108.2C497.7 1107.8 500.4 1107.4 503.1 1107.0C505.7 1106.7 508.4 1106.4 511.1 1106.1C513.8 1105.9 516.5 1105.6 519.2 1105.4C521.9 1105.2 524.5 1105.0 527.2 1104.8C529.9 1104.6 532.6 1104.4 535.3 1104.2C538.0 1104.0 540.6 1103.8 543.3 1103.6C546.0 1103.4 548.7 1103.2 551.3 1103.0C554.0 1102.8 556.6 1102.5 559.3 1102.3C562.0 1102.1 564.6 1101.8 567.3 1101.6C569.9 1101.3 572.6 1101.1 575.3 1100.8C577.9 1100.5 580.6 1100.3 583.2 1100.0C585.9 1099.7 588.6 1099.4 591.2 1099.1C593.9 1098.8 596.5 1098.5 599.2 1098.2C601.9 1097.9 604.5 1097.6 607.2 1097.3C609.9 1096.9 612.6 1096.6 615.3 1096.2C617.9 1095.9 620.6 1095.5 623.3 1095.1C626.0 1094.8 628.7 1094.4 631.4 1094.0C634.1 1093.6 636.8 1093.2 639.5 1092.9C642.2 1092.5 644.9 1092.1 647.6 1091.8C650.4 1091.4 653.1 1091.0 655.8 1090.7C658.5 1090.4 661.2 1090.1 663.9 1089.8C666.6 1089.5 669.3 1089.3 672.0 1089.1C674.7 1088.9 677.4 1088.7 680.1 1088.5C682.8 1088.4 685.5 1088.3 688.2 1088.2C690.9 1088.2 693.5 1088.1 696.2 1088.2C698.9 1088.2 701.6 1088.3 704.2 1088.5C706.9 1088.6 709.5 1088.8 712.2 1089.0C714.8 1089.3 717.5 1089.6 720.1 1089.9C722.7 1090.2 725.4 1090.6 728.0 1091.0C730.6 1091.5 733.2 1091.9 735.8 1092.5C738.4 1093.0 741.0 1093.5 743.6 1094.1C746.2 1094.7 748.8 1095.4 751.4 1096.0C753.9 1096.7 756.5 1097.4 759.1 1098.2C761.6 1098.9 764.2 1099.7 766.7 1100.5C769.3 1101.4 771.8 1102.2 774.3 1103.1C776.9 1104.0 779.4 1104.9 781.9 1105.9C784.4 1106.8 786.9 1107.8 789.4 1108.8C791.9 1109.8 794.4 1110.9 796.9 1111.9C799.4 1113.0 801.9 1114.1 804.3 1115.2C806.8 1116.3 809.2 1117.5 811.7 1118.6C814.1 1119.8 816.6 1121.0 819.0 1122.2C821.4 1123.4 823.9 1124.6 826.3 1125.9C828.7 1127.1 831.1 1128.4 833.5 1129.7C835.9 1131.0 838.3 1132.3 840.7 1133.6C843.0 1134.9 845.4 1136.2 847.8 1137.6C850.1 1138.9 852.5 1140.3 854.8 1141.6C857.2 1143.0 859.5 1144.3 861.9 1145.7C864.2 1147.1 866.6 1148.5 868.9 1149.9C871.2 1151.3 873.5 1152.6 875.9 1154.0C878.2 1155.4 880.5 1156.8 882.8 1158.2C885.2 1159.6 887.5 1161.0 889.8 1162.3C892.1 1163.7 894.5 1165.1 896.8 1166.5C899.1 1167.8 901.4 1169.2 903.8 1170.5C906.1 1171.9 908.4 1173.2 910.8 1174.5C913.1 1175.8 915.5 1177.1 917.8 1178.4C920.2 1179.7 922.5 1180.9 924.9 1182.2C927.3 1183.4 929.7 1184.7 932.0 1185.9C934.4 1187.1 936.8 1188.2 939.2 1189.4C941.6 1190.5 944.0 1191.7 946.5 1192.8C948.9 1193.9 951.3 1194.9 953.8 1196.0C956.3 1197.0 958.7 1198.0 961.2 1199.0C963.7 1199.9 966.2 1200.9 968.7 1201.8C971.2 1202.7 973.7 1203.5 976.3 1204.3C978.8 1205.1 981.4 1205.9 984.0 1206.6C986.6 1207.4 989.2 1208.1 991.8 1208.7C994.4 1209.3 997.0 1209.9 999.7 1210.5C1002.4 1211.0 1005.0 1211.5 1007.7 1212.0C1010.4 1212.4 1013.1 1212.8 1015.8 1213.1C1018.5 1213.5 1021.2 1213.8 1023.9 1214.0C1026.6 1214.2 1029.3 1214.4 1032.1 1214.5C1034.8 1214.6 1037.5 1214.7 1040.2 1214.7C1042.9 1214.7 1045.6 1214.7 1048.3 1214.6C1051.0 1214.4 1053.7 1214.3 1056.4 1214.0C1059.1 1213.8 1061.8 1213.5 1064.4 1213.1C1067.1 1212.8 1069.7 1212.3 1072.4 1211.8C1075.0 1211.3 1077.6 1210.8 1080.2 1210.1C1082.8 1209.5 1086.6 1208.4 1087.9 1208.0"/>
<path d="M431.8 1322.5C432.9 1321.7 436.3 1319.6 438.7 1318.2C441.0 1316.7 443.4 1315.3 445.8 1313.9C448.3 1312.5 450.7 1311.2 453.2 1309.8C455.8 1308.5 458.3 1307.2 460.9 1305.9C463.4 1304.6 466.0 1303.4 468.6 1302.3C471.3 1301.1 473.9 1300.0 476.6 1299.0C479.2 1297.9 481.9 1297.0 484.6 1296.1C487.3 1295.2 490.1 1294.4 492.8 1293.7C495.5 1293.0 498.3 1292.3 501.0 1291.8C503.8 1291.3 506.5 1290.9 509.3 1290.6C512.0 1290.3 514.8 1290.2 517.6 1290.1C520.3 1290.1 523.1 1290.2 525.8 1290.4C528.6 1290.6 531.3 1291.0 534.0 1291.5C536.7 1292.0 539.4 1292.6 542.1 1293.3C544.8 1294.1 547.5 1294.9 550.1 1295.9C552.7 1296.8 555.3 1297.9 557.9 1299.1C560.5 1300.2 563.0 1301.5 565.5 1302.9C568.0 1304.2 570.5 1305.7 572.9 1307.2C575.4 1308.7 577.7 1310.4 580.1 1312.1C582.4 1313.7 584.7 1315.5 586.9 1317.4C589.2 1319.2 592.4 1322.1 593.5 1323.0"/>
<path d="M432.8 1324.2C434.0 1323.4 437.4 1321.3 439.7 1319.9C442.0 1318.5 444.4 1317.0 446.8 1315.7C449.3 1314.3 451.7 1312.9 454.2 1311.6C456.7 1310.3 459.2 1308.9 461.7 1307.7C464.3 1306.4 466.9 1305.2 469.5 1304.1C472.0 1302.9 474.7 1301.8 477.3 1300.8C479.9 1299.8 482.6 1298.8 485.3 1298.0C487.9 1297.1 490.6 1296.3 493.3 1295.6C496.0 1294.9 498.7 1294.3 501.4 1293.8C504.1 1293.3 506.8 1292.9 509.5 1292.6C512.2 1292.3 514.9 1292.2 517.6 1292.1C520.3 1292.1 523.0 1292.2 525.7 1292.4C528.3 1292.6 531.0 1293.0 533.7 1293.5C536.3 1293.9 539.0 1294.5 541.6 1295.3C544.2 1296.0 546.8 1296.8 549.4 1297.7C552.0 1298.7 554.6 1299.7 557.1 1300.9C559.6 1302.0 562.1 1303.3 564.6 1304.6C567.0 1306.0 569.5 1307.4 571.9 1308.9C574.3 1310.4 576.6 1312.0 578.9 1313.7C581.2 1315.3 583.5 1317.1 585.7 1318.9C587.9 1320.7 591.1 1323.6 592.1 1324.5"/>
</g>
</g>
<g clip-path="url(#ax)" stroke="#000" stroke-opacity="0.78" stroke-width="7.5">
<line x1="225.0" x2="225.0" y1="41.0" y2="1316.0"/>
<line x1="523.0" x2="523.0" y1="41.0" y2="1316.0"/>
<line x1="695.0" x2="695.0" y1="41.0" y2="1316.0"/>
<line x1="1039.0" x2="1039.0" y1="41.0" y2="1316.0"/>
</g>
<g stroke="#000">
<line x1="207.5" x2="225.0" y1="1316.00" y2="1316.00" stroke-width="4"/>
<line x1="215.0" x2="225.0" y1="1273.50" y2="1273.50" stroke-width="3"/>
<line x1="215.0" x2="225.0" y1="1231.00" y2="1231.00" stroke-width="3"/>
<line x1="215.0" x2="225.0" y1="1188.50" y2="1188.50" stroke-width="3"/>
<line x1="215.0" x2="225.0" y1="1146.00" y2="1146.00" stroke-width="3"/>
<line x1="207.5" x2="225.0" y1="1103.50" y2="1103.50" stroke-width="4"/>
<line x1="215.0" x2="225.0" y1="1061.00" y2="1061.00" stroke-width="3"/>
<line x1="215.0" x2="225.0" y1="1018.50" y2="1018.50" stroke-width="3"/>
<line x1="215.0" x2="225.0" y1="976.00" y2="976.00" stroke-width="3"/>
<line x1="215.0" x2="225.0" y1="933.50" y2="933.50" stroke-width="3"/>
<line x1="207.5" x2="225.0" y1="891.00" y2="891.00" stroke-width="4"/>
<line x1="215.0" x2="225.0" y1="848.50" y2="848.50" stroke-width="3"/>
<line x1="215.0" x2="225.0" y1="806.00" y2="806.00" stroke-width="3"/>
<line x1="215.0" x2="225.0" y1="763.50" y2="763.50" stroke-width="3"/>
<line x1="215.0" x2="225.0" y1="721.00" y2="721.00" stroke-width="3"/>
<line x1="207.5" x2="225.0" y1="678.50" y2="678.50" stroke-width="4"/>
<line x1="215.0" x2="225.0" y1="636.00" y2="636.00" stroke-width="3"/>
<line x1="215.0" x2="225.0" y1="593.50" y2="593.50" stroke-width="3"/>
<line x1="215.0" x2="225.0" y1="551.00" y2="551.00" stroke-width="3"/>
<line x1="215.0" x2="225.0" y1="508.50" y2="508.50" stroke-width="3"/>
<line x1="207.5" x2="225.0" y1="466.00" y2="466.00" stroke-width="4"/>
<line x1="215.0" x2="225.0" y1="423.50" y2="423.50" stroke-width="3"/>
<line x1="215.0" x2="225.0" y1="381.00" y2="381.00" stroke-width="3"/>
<line x1="215.0" x2="225.0" y1="338.50" y2="338.50" stroke-width="3"/>
<line x1="215.0" x2="225.0" y1="296.00" y2="296.00" stroke-width="3"/>
<line x1="207.5" x2="225.0" y1="253.50" y2="253.50" stroke-width="4"/>
<line x1="215.0" x2="225.0" y1="211.00" y2="211.00" stroke-width="3"/>
<line x1="215.0" x2="225.0" y1="168.50" y2="168.50" stroke-width="3"/>
<line x1="215.0" x2="225.0" y1="126.00" y2="126.00" stroke-width="3"/>
<line x1="215.0" x2="225.0" y1="83.50" y2="83.50" stroke-width="3"/>
<line x1="207.5" x2="225.0" y1="41.00" y2="41.00" stroke-width="4"/>
<line x1="225.0" x2="225.0" y1="1316.0" y2="1333.5" stroke-width="4"/>
<line x1="523.0" x2="523.0" y1="1316.0" y2="1333.5" stroke-width="4"/>
<line x1="695.0" x2="695.0" y1="1316.0" y2="1333.5" stroke-width="4"/>
<line x1="1039.0" x2="1039.0" y1="1316.0" y2="1333.5" stroke-width="4"/>
</g>
<rect x="225.0" y="41.0" width="814.0" height="1275.0" fill="none" stroke="#000" stroke-width="4"/>
<g>
<text x="188.5" y="70.5" text-anchor="end">3</text>
<text x="188.5" y="283.0" text-anchor="end">2</text>
<text x="188.5" y="495.5" text-anchor="end">1</text>
<text x="188.5" y="708.0" text-anchor="end">0</text>
<text x="188.5" y="920.5" text-anchor="end">-1</text>
<text x="188.5" y="1133.0" text-anchor="end">-2</text>
<text x="188.5" y="1345.5" text-anchor="end">-3</text>
<text x="227.5" y="1410.5" text-anchor="middle">Γ</text>
<text x="524.0" y="1410.5" text-anchor="middle">M</text>
<text x="696.2" y="1410.5" text-anchor="middle">K</text>
<text x="1041.6" y="1410.5" text-anchor="middle">Γ</text>
<text transform="translate(72,680.5) rotate(-90)" text-anchor="middle">Energy [eV]</text>
</g>
</svg>
</body>
</html>
